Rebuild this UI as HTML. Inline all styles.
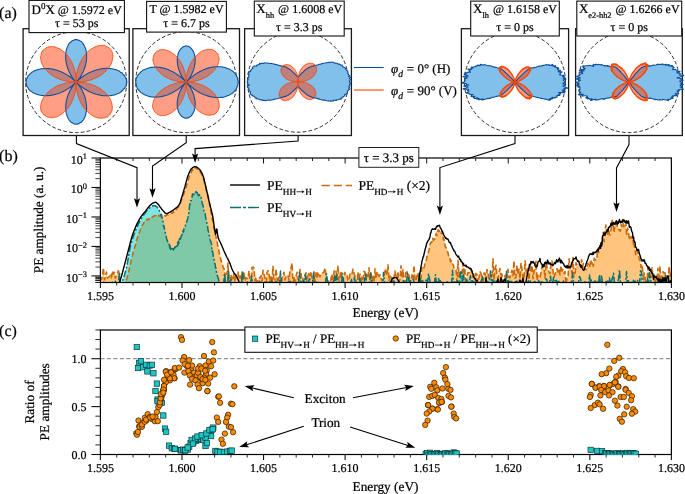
<!DOCTYPE html>
<html><head><meta charset="utf-8"><style>
html,body{margin:0;padding:0;background:#fff;}
svg{display:block;will-change:transform;}
text{font-family:"Liberation Serif",serif;fill:#000;stroke:#000;stroke-width:0.22px;text-rendering:geometricPrecision;}
</style></head><body>
<svg width="685" height="494" viewBox="0 0 685 494" font-family="Liberation Serif">
<rect width="685" height="494" fill="#fff"/>
<defs><clipPath id="cb"><rect x="100.4" y="158" width="571" height="124.5"/></clipPath><clipPath id="cc"><rect x="100.4" y="330" width="571" height="124.5"/></clipPath></defs>
<g clip-path="url(#cb)">
<path d="M100.4,276.9L101.4,279.5L102.4,276.8L103.4,267.8L104.4,280.0L105.4,277.5L106.4,272.0L107.4,278.2L108.4,277.0L109.4,276.6L110.4,275.2L111.4,278.0L112.4,270.9L113.4,274.1L114.4,272.3L115.4,278.3L116.4,275.2L117.4,273.4L118.4,270.7L119.4,273.6L120.0,283.2L120.5,283.2L121.0,283.8L121.5,284.1L122.0,284.4L122.5,284.0L123.0,283.8L123.5,283.5L124.0,283.6L124.5,283.2L125.0,281.9L125.5,280.6L126.0,279.8L126.5,279.6L127.0,277.9L127.5,275.9L128.0,275.0L128.5,272.7L129.0,270.6L129.5,268.2L130.0,265.6L130.5,263.8L131.0,261.3L131.5,259.0L132.0,257.2L132.5,255.4L133.0,252.8L133.5,251.6L134.0,249.7L134.5,248.3L135.0,246.2L135.5,244.7L136.0,242.7L136.5,240.8L137.0,239.0L137.5,237.7L138.0,236.0L138.5,234.4L139.0,233.5L139.5,231.6L140.0,230.9L140.5,229.5L141.0,227.3L141.5,227.1L142.0,225.7L142.5,225.2L143.0,224.4L143.5,222.9L144.0,222.9L144.5,222.2L145.0,222.1L145.5,220.8L146.0,221.0L146.5,219.9L147.0,219.8L147.5,219.2L148.0,219.7L148.5,219.0L149.0,219.4L149.5,218.5L150.0,218.2L150.5,218.0L151.0,217.2L151.5,217.1L152.0,217.4L152.5,216.6L153.0,216.6L153.5,216.3L154.0,216.3L154.5,215.8L155.0,215.7L155.5,215.7L156.0,215.5L156.5,215.0L157.0,215.5L157.5,214.7L158.0,214.9L158.5,215.1L159.0,216.2L159.5,216.0L160.0,216.0L160.5,216.0L161.0,216.7L161.5,216.2L162.0,216.2L162.5,216.8L163.0,216.1L163.5,216.2L164.0,216.2L164.5,215.8L165.0,215.8L165.5,216.1L166.0,215.3L166.5,214.9L167.0,214.5L167.5,214.9L168.0,214.6L168.5,214.6L169.0,214.2L169.5,213.9L170.0,213.6L170.5,213.4L171.0,213.4L171.5,212.9L172.0,212.8L172.5,213.2L173.0,212.3L173.5,211.3L174.0,212.1L174.5,211.2L175.0,210.4L175.5,210.6L176.0,209.8L176.5,209.1L177.0,208.5L177.5,207.8L178.0,207.5L178.5,207.1L179.0,205.8L179.5,205.2L180.0,204.7L180.5,202.5L181.0,201.8L181.5,200.2L182.0,198.6L182.5,197.2L183.0,196.2L183.5,195.0L184.0,193.2L184.5,191.8L185.0,190.5L185.5,188.8L186.0,187.4L186.5,185.7L187.0,184.0L187.5,182.8L188.0,180.6L188.5,178.8L189.0,177.5L189.5,175.6L190.0,174.4L190.5,173.6L191.0,172.4L191.5,171.8L192.0,170.5L192.5,169.4L193.0,170.1L193.5,169.3L194.0,168.2L194.5,168.7L195.0,168.1L195.5,167.5L196.0,168.1L196.5,168.2L197.0,169.2L197.5,168.6L198.0,169.1L198.5,169.4L199.0,169.8L199.5,170.2L200.0,171.3L200.5,172.4L201.0,173.2L201.5,173.6L202.0,174.6L202.5,176.2L203.0,177.3L203.5,178.8L204.0,180.1L204.5,183.1L205.0,184.5L205.5,185.7L206.0,188.3L206.5,190.5L207.0,191.3L207.5,194.1L208.0,196.5L208.5,199.1L209.0,201.3L209.5,203.6L210.0,206.1L210.5,209.2L211.0,211.9L211.5,213.6L212.0,216.2L212.5,220.3L213.0,221.7L213.5,224.6L214.0,227.4L214.5,230.0L215.0,232.6L215.5,234.7L216.0,236.5L216.5,239.3L217.0,241.5L217.5,244.4L218.0,246.1L218.5,248.2L219.0,251.0L219.5,254.6L220.0,256.4L220.5,258.0L221.0,260.3L221.5,262.0L222.0,263.9L222.5,264.5L223.0,266.5L223.5,268.0L224.0,268.9L224.5,270.5L225.0,272.6L225.0,277.5L226.0,273.6L227.0,274.2L228.0,263.1L229.0,286.4L230.0,282.8L231.0,274.7L232.0,280.8L233.0,278.0L234.0,273.5L235.0,281.9L236.0,274.8L237.0,274.7L238.0,272.1L239.0,279.0L240.0,276.0L241.0,279.5L242.0,273.2L243.0,277.2L244.0,271.6L245.0,281.1L246.0,277.5L247.0,278.3L248.0,278.8L249.0,270.9L250.0,280.8L251.0,287.8L252.0,267.5L253.0,267.0L254.0,268.2L255.0,281.1L256.0,277.2L257.0,282.4L258.0,280.5L259.0,277.7L260.0,278.1L261.0,275.6L262.0,281.3L263.0,270.3L264.0,274.2L265.0,277.8L266.0,286.4L267.0,272.3L268.0,270.6L269.0,273.4L270.0,281.8L271.0,275.2L272.0,283.8L273.0,266.2L274.0,282.7L275.0,282.2L276.0,268.7L277.0,277.3L278.0,283.2L279.0,277.0L280.0,282.0L281.0,289.6L282.0,278.0L283.0,275.0L284.0,272.3L285.0,280.1L286.0,275.4L287.0,275.5L288.0,275.9L289.0,280.1L290.0,270.6L291.0,268.1L292.0,263.1L293.0,283.1L294.0,276.9L295.0,284.8L296.0,276.5L297.0,272.4L298.0,279.1L299.0,276.1L300.0,269.6L301.0,271.6L302.0,286.2L303.0,278.4L304.0,278.8L305.0,275.0L306.0,272.7L307.0,281.4L308.0,275.9L309.0,272.3L310.0,275.8L311.0,271.5L312.0,277.5L313.0,282.7L314.0,271.9L315.0,284.4L316.0,272.8L317.0,277.3L318.0,271.9L319.0,275.3L320.0,276.8L321.0,274.1L322.0,272.6L323.0,272.8L324.0,272.0L325.0,267.9L326.0,275.1L327.0,278.7L328.0,281.5L329.0,280.1L330.0,290.0L331.0,278.3L332.0,274.0L333.0,286.8L334.0,270.7L335.0,281.8L336.0,271.2L337.0,278.4L338.0,265.7L339.0,281.4L340.0,275.6L341.0,271.2L342.0,285.7L343.0,280.7L344.0,276.8L345.0,272.4L346.0,276.3L347.0,275.6L348.0,280.5L349.0,280.9L350.0,272.8L351.0,273.5L352.0,273.6L353.0,269.1L354.0,273.2L355.0,276.0L356.0,280.3L357.0,283.8L358.0,272.1L359.0,279.5L360.0,274.1L361.0,287.9L362.0,276.2L363.0,279.3L364.0,271.4L365.0,272.0L366.0,277.6L367.0,274.4L368.0,278.4L369.0,267.9L370.0,280.1L371.0,271.6L372.0,286.0L373.0,274.9L374.0,282.5L375.0,268.8L376.0,278.9L377.0,271.6L378.0,273.8L379.0,276.6L380.0,274.8L381.0,278.0L382.0,280.6L383.0,280.1L384.0,276.0L385.0,269.0L386.0,272.1L387.0,275.4L388.0,264.8L389.0,280.6L390.0,275.2L391.0,275.1L392.0,281.7L393.0,280.2L394.0,277.7L395.0,271.0L396.0,278.2L397.0,278.4L398.0,271.6L399.0,282.2L400.0,279.3L401.0,265.7L402.0,277.2L403.0,269.5L404.0,282.7L405.0,280.9L406.0,270.4L407.0,271.6L408.0,277.1L409.0,275.2L410.0,284.9L411.0,280.6L412.0,274.9L413.0,279.7L414.0,265.3L415.0,278.2L416.0,281.3L417.0,275.5L418.0,272.6L419.0,279.6L420.0,279.3L420.9,279.4L421.8,267.5L422.7,269.6L423.6,268.6L424.5,266.0L425.4,261.5L426.3,260.4L427.2,255.1L428.1,253.3L429.0,250.1L429.9,244.7L430.8,242.3L431.7,242.4L432.6,238.2L433.5,240.4L434.4,238.8L435.3,238.7L436.2,233.4L437.1,235.5L438.0,229.9L438.9,230.3L439.8,232.9L440.7,234.2L441.6,231.5L442.5,233.1L443.4,239.8L444.3,239.5L445.2,246.6L446.1,247.5L447.0,250.1L447.9,252.6L448.8,256.6L449.7,256.7L450.6,261.8L451.5,260.7L452.4,263.7L453.3,264.7L454.2,269.2L455.1,269.8L456.0,269.8L456.9,278.2L457.0,285.7L458.0,260.4L459.0,276.8L460.0,271.4L461.0,272.0L462.0,273.3L463.0,263.4L464.0,273.2L465.0,269.7L466.0,292.8L467.0,275.7L468.0,272.6L469.0,273.0L470.0,270.8L471.0,268.7L472.0,272.4L473.0,277.2L474.0,273.2L475.0,279.8L476.0,273.4L477.0,274.6L478.0,283.0L479.0,277.5L480.0,271.7L481.0,273.5L482.0,277.5L483.0,285.1L484.0,273.0L485.0,273.2L486.0,280.0L487.0,269.6L488.0,272.9L489.0,279.4L490.0,277.7L491.0,275.0L492.0,278.2L493.0,258.9L494.0,280.1L495.0,269.2L496.0,265.3L497.0,276.0L498.0,278.4L499.0,272.1L500.0,268.6L501.0,274.6L502.0,274.2L503.0,282.2L504.0,278.6L505.0,275.6L506.0,280.6L507.0,273.4L508.0,269.4L509.0,277.7L510.0,277.7L511.0,273.3L512.0,270.2L513.0,275.8L514.0,260.8L515.0,278.3L516.0,277.2L517.0,265.5L518.0,274.8L519.0,269.2L520.0,278.7L521.0,263.0L522.0,268.8L523.0,277.4L524.0,279.5L525.0,260.9L526.0,269.7L527.0,273.9L528.0,268.3L529.0,280.1L530.0,264.4L531.0,272.9L532.0,265.2L533.0,278.7L534.0,270.8L535.0,268.8L536.0,261.4L537.0,280.1L538.0,275.0L539.0,274.9L540.0,277.0L541.0,272.7L542.0,267.2L543.0,266.3L544.0,266.3L545.0,278.2L546.0,262.6L547.0,267.3L548.0,268.8L549.0,271.8L550.0,273.7L551.0,263.7L552.0,261.0L553.0,270.5L554.0,277.1L555.0,274.6L556.0,271.6L557.0,268.7L558.0,272.0L559.0,269.0L560.0,274.8L561.0,265.9L562.0,271.0L563.0,269.7L564.0,273.2L565.0,271.5L566.0,284.2L567.0,278.4L568.0,278.4L569.0,258.9L570.0,268.2L571.0,266.7L572.0,273.0L573.0,257.5L574.0,276.5L575.0,275.9L576.0,262.8L577.0,264.6L578.0,266.1L578.9,266.0L579.8,264.7L580.7,267.1L581.6,259.7L582.5,266.3L583.4,263.2L584.3,269.0L585.2,268.7L586.1,269.7L587.0,266.9L587.9,263.3L588.8,265.7L589.7,267.3L590.6,259.7L591.5,263.8L592.4,261.4L593.3,266.3L594.2,258.3L595.1,259.6L596.0,260.2L596.9,257.5L597.8,248.6L598.7,252.5L599.6,247.8L600.5,244.7L601.4,242.5L602.3,241.5L603.2,232.3L604.1,241.6L605.0,231.3L605.9,225.0L606.8,231.3L607.7,235.8L608.6,228.5L609.5,235.0L610.4,234.7L611.3,226.1L612.2,220.4L613.1,224.4L614.0,232.5L614.9,225.5L615.8,223.1L616.7,223.6L617.6,228.1L618.5,227.9L619.4,230.8L620.3,231.1L621.2,224.3L622.1,226.6L623.0,222.9L623.9,226.7L624.8,222.3L625.7,222.3L626.6,234.2L627.5,228.1L628.4,231.4L629.3,240.0L630.2,236.9L631.1,236.6L632.0,239.6L632.9,239.1L633.8,247.6L634.7,245.0L635.6,254.5L636.5,249.6L637.4,251.8L638.3,253.6L639.2,259.3L640.1,260.1L641.0,267.3L641.9,264.5L642.8,270.9L643.7,279.6L644.0,272.9L645.0,275.5L646.0,285.7L647.0,280.1L648.0,267.5L649.0,276.5L650.0,273.1L651.0,277.3L652.0,267.7L653.0,277.8L654.0,277.8L655.0,285.2L656.0,278.2L657.0,279.3L658.0,268.3L659.0,288.9L660.0,266.0L661.0,282.6L662.0,274.7L663.0,271.7L664.0,272.9L665.0,272.8L666.0,278.6L667.0,275.9L668.0,284.7L669.0,266.4L670.0,276.5L671.0,271.6 L671.00,300 L100.40,300Z" fill="#ff8c00" fill-opacity="0.5"/>
<path d="M100.4,283.1L101.4,283.9L102.4,284.4L103.4,282.3L104.4,284.6L105.4,283.9L106.4,283.3L107.4,284.0L108.4,285.1L109.4,282.4L110.4,285.9L111.4,285.2L112.4,282.3L113.4,284.5L114.4,284.2L115.4,281.3L116.4,284.4L117.4,282.8L118.4,283.3L119.4,272.2L120.4,283.0L121.0,283.0L121.5,282.4L122.0,281.6L122.5,280.6L123.0,279.4L123.5,278.1L124.0,276.6L124.5,275.0L125.0,273.3L125.5,271.5L126.0,269.6L126.5,267.6L127.0,265.2L127.5,262.6L128.0,259.7L128.5,256.7L129.0,253.7L129.5,250.8L130.0,248.2L130.5,245.8L131.0,243.9L131.5,242.2L132.0,240.6L132.5,239.1L133.0,237.6L133.5,236.1L134.0,234.6L134.5,233.2L135.0,231.9L135.5,230.6L136.0,229.4L136.5,228.2L137.0,227.1L137.5,226.0L138.0,224.9L138.5,223.9L139.0,222.9L139.5,221.9L140.0,221.0L140.5,220.1L141.0,219.2L141.5,218.4L142.0,217.6L142.5,216.8L143.0,216.0L143.5,215.3L144.0,214.5L144.5,213.8L145.0,213.1L145.5,212.5L146.0,211.8L146.5,211.2L147.0,210.6L147.5,210.1L148.0,209.6L148.5,209.0L149.0,208.5L149.5,208.0L150.0,207.6L150.5,207.2L151.0,206.8L151.5,206.5L152.0,206.3L152.5,206.0L153.0,205.8L153.5,205.7L154.0,205.6L154.5,205.7L155.0,205.8L155.5,206.0L156.0,206.3L156.5,206.6L157.0,207.0L157.5,207.7L158.0,208.4L158.5,209.2L159.0,210.1L159.5,211.0L160.0,212.1L160.5,213.9L161.0,215.2L161.5,214.4L162.0,217.5L162.5,219.4L163.0,221.4L163.5,226.7L164.0,225.9L164.5,228.9L165.0,231.7L165.5,233.5L166.0,234.9L166.5,238.2L167.0,239.9L167.5,241.1L168.0,242.8L168.5,243.2L169.0,243.3L169.5,247.7L170.0,245.4L170.5,249.4L171.0,247.7L171.5,248.6L172.0,248.3L172.5,249.4L173.0,247.9L173.5,250.0L174.0,248.5L174.5,247.9L175.0,246.9L175.5,247.4L176.0,246.6L176.5,247.8L177.0,246.1L177.5,242.8L178.0,245.0L178.5,240.2L179.0,243.1L179.5,238.6L180.0,239.3L180.5,238.9L181.0,236.8L181.5,234.6L182.0,235.7L182.5,231.5L183.0,230.6L183.5,232.2L184.0,228.6L184.5,228.3L185.0,227.4L185.5,225.1L186.0,223.9L186.5,222.2L187.0,220.6L187.5,219.7L188.0,217.4L188.5,214.5L189.0,211.8L189.5,206.6L190.0,203.2L190.5,200.8L191.0,200.7L191.5,200.0L192.0,197.1L192.5,194.0L193.0,194.6L193.5,194.8L194.0,194.0L194.5,193.3L195.0,193.9L195.5,193.8L196.0,191.6L196.5,193.5L197.0,192.4L197.5,193.6L198.0,194.7L198.5,195.7L199.0,195.1L199.5,194.7L200.0,195.8L200.5,197.6L201.0,197.4L201.5,199.8L202.0,202.2L202.5,204.5L203.0,205.3L203.5,208.1L204.0,211.2L204.5,212.3L205.0,212.5L205.5,216.7L206.0,219.2L206.5,221.0L207.0,224.0L207.5,225.0L208.0,230.2L208.5,231.9L209.0,233.5L209.5,236.9L210.0,239.4L210.5,241.0L211.0,241.8L211.5,244.2L212.0,251.5L212.5,250.9L213.0,254.2L213.5,257.6L214.0,259.1L214.5,263.2L215.0,263.6L215.5,267.8L216.0,267.7L216.5,272.7L217.0,274.6L217.5,276.0L218.0,277.6L218.5,279.3L219.0,281.6L219.5,283.3L220.0,283.1L223.5,284.8L224.5,273.6L225.5,283.6L226.5,284.4L227.5,282.8L228.5,270.2L229.5,285.8L230.5,278.5L231.5,280.9L232.5,282.2L233.5,282.8L234.5,283.6L235.5,285.3L236.5,284.0L237.5,283.0L238.5,284.2L239.5,283.3L240.5,283.8L241.5,282.7L242.5,271.0L243.5,284.8L244.5,283.2L245.5,283.8L246.5,282.8L247.5,281.9L248.5,283.1L249.5,284.5L250.5,285.2L251.5,276.0L252.5,282.9L253.5,287.2L254.5,284.7L255.5,284.8L256.5,282.9L257.5,283.3L258.5,284.4L259.5,281.3L260.5,282.6L261.5,284.1L262.5,286.7L263.5,284.2L264.5,282.3L265.5,282.0L266.5,284.9L267.5,282.5L268.5,283.2L269.5,281.0L270.5,283.7L271.5,281.0L272.5,282.6L273.5,283.0L274.5,285.3L275.5,282.7L276.5,281.8L277.5,283.4L278.5,285.4L279.5,284.0L280.5,271.0L281.5,284.0L282.5,284.6L283.5,283.6L284.5,283.8L285.5,283.6L286.5,282.9L287.5,282.7L288.5,281.8L289.5,282.0L290.5,281.3L291.5,284.2L292.5,284.2L293.5,283.7L294.5,284.2L295.5,283.7L296.5,282.6L297.5,283.8L298.5,283.1L299.5,272.3L300.5,280.8L301.5,282.9L302.5,284.1L303.5,280.2L304.5,282.4L305.5,274.3L306.5,282.7L307.5,285.4L308.5,282.7L309.5,277.5L310.5,282.9L311.5,284.2L312.5,282.9L313.5,273.0L314.5,284.4L315.5,284.4L316.5,282.3L317.5,283.1L318.5,282.4L319.5,283.4L320.5,283.2L321.5,283.3L322.5,284.4L323.5,282.2L324.5,282.5L325.5,282.8L326.5,273.7L327.5,282.5L328.5,284.3L329.5,282.2L330.5,285.9L331.5,283.7L332.5,285.1L333.5,282.2L334.5,276.1L335.5,283.8L336.5,274.9L337.5,280.6L338.5,285.6L339.5,282.7L340.5,285.6L341.5,282.8L342.5,273.2L343.5,281.1L344.5,283.9L345.5,283.4L346.5,284.0L347.5,283.5L348.5,284.3L349.5,284.2L350.5,283.4L351.5,279.5L352.5,283.1L353.5,281.4L354.5,277.3L355.5,284.2L356.5,282.6L357.5,286.7L358.5,284.4L359.5,277.0L360.5,284.9L361.5,283.7L362.5,283.7L363.5,285.4L364.5,280.8L365.5,272.5L366.5,281.3L367.5,283.8L368.5,281.8L369.5,285.2L370.5,273.2L371.5,281.4L372.5,281.8L373.5,284.6L374.5,282.9L375.5,285.4L376.5,284.3L377.5,284.6L378.5,284.7L379.5,285.2L380.5,283.1L381.5,282.8L382.5,285.5L383.5,272.5L384.5,282.1L385.5,284.2L386.5,283.1L387.5,284.1L388.5,285.0L389.5,286.1L390.5,281.5L391.5,282.1L392.5,283.7L393.5,277.5L394.5,284.0L395.5,284.1L396.5,284.1L397.5,283.7L398.5,281.9L399.5,283.6L400.5,283.8L401.5,284.0L402.5,285.3L403.5,279.5L404.5,283.5L405.5,283.0L406.5,282.1L407.5,273.6L408.5,276.2L409.5,286.2L410.5,280.5L411.5,285.7L412.5,283.4L413.5,279.6L414.5,283.9L415.5,283.8L416.5,284.9L417.5,285.2L418.5,282.5L419.5,272.4L420.5,283.8L421.5,279.7L422.5,279.6L423.5,284.9L424.5,283.5L425.5,281.4L426.5,278.7L427.5,282.2L428.5,273.6L429.5,278.7L430.5,283.9L431.5,283.5L432.5,282.2L433.5,284.2L434.5,282.3L435.5,274.7L436.5,284.7L437.5,282.3L438.5,278.6L439.5,282.3L440.5,279.8L441.5,282.4L442.5,284.4L443.5,282.5L444.5,283.3L445.5,283.5L446.5,282.4L447.5,281.7L448.5,284.3L449.5,282.5L450.5,283.7L451.5,283.9L452.5,270.2L453.5,284.6L454.5,281.8L455.5,282.6L456.5,282.5L457.5,279.2L458.5,283.4L459.5,285.7L460.5,271.9L461.5,270.6L462.5,282.7L463.5,274.8L464.5,283.1L465.5,285.6L466.5,278.6L467.5,281.1L468.5,281.6L469.5,280.5L470.5,275.8L471.5,283.2L472.5,280.7L473.5,281.7L474.5,282.0L475.5,282.5L476.5,284.8L477.5,284.9L478.5,283.5L479.5,283.9L480.5,281.9L481.5,280.5L482.5,276.3L483.5,282.8L484.5,283.3L485.5,284.0L486.5,282.7L487.5,281.4L488.5,281.5L489.5,279.9L490.5,271.0L491.5,280.3L492.5,279.9L493.5,282.4L494.5,279.9L495.5,280.4L496.5,282.5L497.5,282.0L498.5,283.3L499.5,283.9L500.5,284.9L501.5,284.1L502.5,281.6L503.5,282.7L504.5,285.5L505.5,281.7L506.5,271.3L507.5,284.5L508.5,280.4L509.5,282.0L510.5,283.3L511.5,280.1L512.5,284.0L513.5,282.7L514.5,282.9L515.5,280.8L516.5,280.3L517.5,282.4L518.5,283.4L519.5,280.4L520.5,282.2L521.5,282.8L522.5,284.8L523.5,283.8L524.5,282.1L525.5,283.3L526.5,283.3L527.5,282.3L528.5,280.6L529.5,283.7L530.5,280.9L531.5,283.4L532.5,282.6L533.5,283.8L534.5,281.4L535.5,281.7L536.5,283.8L537.5,284.4L538.5,280.4L539.5,282.8L540.5,285.3L541.5,280.3L542.5,283.3L543.5,282.5L544.5,283.9L545.5,281.4L546.5,277.6L547.5,283.3L548.5,284.6L549.5,283.7L550.5,276.2L551.5,285.4L552.5,283.8L553.5,277.6L554.5,279.0L555.5,282.1L556.5,280.3L557.5,283.5L558.5,281.6L559.5,280.9L560.5,285.1L561.5,284.0L562.5,282.7L563.5,281.1L564.5,283.5L565.5,283.7L566.5,282.8L567.5,283.9L568.5,285.0L569.5,285.1L570.5,282.2L571.5,285.5L572.5,272.9L573.5,282.4L574.5,284.1L575.5,282.5L576.5,282.4L577.5,281.4L578.5,281.7L579.5,276.4L580.5,278.3L581.5,283.0L582.5,284.4L583.5,282.9L584.5,282.0L585.5,282.1L586.5,282.5L587.5,283.6L588.5,282.9L589.5,275.0L590.5,282.7L591.5,280.0L592.5,281.8L593.5,282.8L594.5,281.5L595.5,281.0L596.5,283.5L597.5,281.6L598.5,284.0L599.5,274.4L600.5,283.5L601.5,275.3L602.5,282.8L603.5,283.1L604.5,283.6L605.5,280.6L606.5,283.7L607.5,280.9L608.5,283.2L609.5,278.0L610.5,286.2L611.5,280.6L612.5,277.8L613.5,273.2L614.5,283.0L615.5,281.6L616.5,283.6L617.5,282.3L618.5,279.1L619.5,269.8L620.5,283.1L621.5,282.7L622.5,284.5L623.5,283.6L624.5,284.0L625.5,283.0L626.5,271.4L627.5,283.5L628.5,280.6L629.5,280.7L630.5,281.7L631.5,283.6L632.5,283.9L633.5,280.2L634.5,282.0L635.5,281.2L636.5,281.9L637.5,280.3L638.5,282.5L639.5,284.2L640.5,270.7L641.5,272.0L642.5,285.1L643.5,282.2L644.5,281.0L645.5,283.6L646.5,284.1L647.5,278.8L648.5,282.8L649.5,272.7L650.5,278.0L651.5,284.6L652.5,284.3L653.5,283.8L654.5,284.6L655.5,282.2L656.5,281.6L657.5,280.9L658.5,281.9L659.5,281.2L660.5,282.3L661.5,283.9L662.5,284.6L663.5,283.6L664.5,283.5L665.5,275.0L666.5,283.4L667.5,282.1L668.5,281.9L669.5,281.2L670.5,282.3L671.5,281.1 L671.50,300 L100.40,300Z" fill="#00ced1" fill-opacity="0.5"/>
<path d="M100.4,276.9L101.4,279.5L102.4,276.8L103.4,267.8L104.4,280.0L105.4,277.5L106.4,272.0L107.4,278.2L108.4,277.0L109.4,276.6L110.4,275.2L111.4,278.0L112.4,270.9L113.4,274.1L114.4,272.3L115.4,278.3L116.4,275.2L117.4,273.4L118.4,270.7L119.4,273.6L120.0,283.2L120.5,283.2L121.0,283.8L121.5,284.1L122.0,284.4L122.5,284.0L123.0,283.8L123.5,283.5L124.0,283.6L124.5,283.2L125.0,281.9L125.5,280.6L126.0,279.8L126.5,279.6L127.0,277.9L127.5,275.9L128.0,275.0L128.5,272.7L129.0,270.6L129.5,268.2L130.0,265.6L130.5,263.8L131.0,261.3L131.5,259.0L132.0,257.2L132.5,255.4L133.0,252.8L133.5,251.6L134.0,249.7L134.5,248.3L135.0,246.2L135.5,244.7L136.0,242.7L136.5,240.8L137.0,239.0L137.5,237.7L138.0,236.0L138.5,234.4L139.0,233.5L139.5,231.6L140.0,230.9L140.5,229.5L141.0,227.3L141.5,227.1L142.0,225.7L142.5,225.2L143.0,224.4L143.5,222.9L144.0,222.9L144.5,222.2L145.0,222.1L145.5,220.8L146.0,221.0L146.5,219.9L147.0,219.8L147.5,219.2L148.0,219.7L148.5,219.0L149.0,219.4L149.5,218.5L150.0,218.2L150.5,218.0L151.0,217.2L151.5,217.1L152.0,217.4L152.5,216.6L153.0,216.6L153.5,216.3L154.0,216.3L154.5,215.8L155.0,215.7L155.5,215.7L156.0,215.5L156.5,215.0L157.0,215.5L157.5,214.7L158.0,214.9L158.5,215.1L159.0,216.2L159.5,216.0L160.0,216.0L160.5,216.0L161.0,216.7L161.5,216.2L162.0,216.2L162.5,216.8L163.0,216.1L163.5,216.2L164.0,216.2L164.5,215.8L165.0,215.8L165.5,216.1L166.0,215.3L166.5,214.9L167.0,214.5L167.5,214.9L168.0,214.6L168.5,214.6L169.0,214.2L169.5,213.9L170.0,213.6L170.5,213.4L171.0,213.4L171.5,212.9L172.0,212.8L172.5,213.2L173.0,212.3L173.5,211.3L174.0,212.1L174.5,211.2L175.0,210.4L175.5,210.6L176.0,209.8L176.5,209.1L177.0,208.5L177.5,207.8L178.0,207.5L178.5,207.1L179.0,205.8L179.5,205.2L180.0,204.7L180.5,202.5L181.0,201.8L181.5,200.2L182.0,198.6L182.5,197.2L183.0,196.2L183.5,195.0L184.0,193.2L184.5,191.8L185.0,190.5L185.5,188.8L186.0,187.4L186.5,185.7L187.0,184.0L187.5,182.8L188.0,180.6L188.5,178.8L189.0,177.5L189.5,175.6L190.0,174.4L190.5,173.6L191.0,172.4L191.5,171.8L192.0,170.5L192.5,169.4L193.0,170.1L193.5,169.3L194.0,168.2L194.5,168.7L195.0,168.1L195.5,167.5L196.0,168.1L196.5,168.2L197.0,169.2L197.5,168.6L198.0,169.1L198.5,169.4L199.0,169.8L199.5,170.2L200.0,171.3L200.5,172.4L201.0,173.2L201.5,173.6L202.0,174.6L202.5,176.2L203.0,177.3L203.5,178.8L204.0,180.1L204.5,183.1L205.0,184.5L205.5,185.7L206.0,188.3L206.5,190.5L207.0,191.3L207.5,194.1L208.0,196.5L208.5,199.1L209.0,201.3L209.5,203.6L210.0,206.1L210.5,209.2L211.0,211.9L211.5,213.6L212.0,216.2L212.5,220.3L213.0,221.7L213.5,224.6L214.0,227.4L214.5,230.0L215.0,232.6L215.5,234.7L216.0,236.5L216.5,239.3L217.0,241.5L217.5,244.4L218.0,246.1L218.5,248.2L219.0,251.0L219.5,254.6L220.0,256.4L220.5,258.0L221.0,260.3L221.5,262.0L222.0,263.9L222.5,264.5L223.0,266.5L223.5,268.0L224.0,268.9L224.5,270.5L225.0,272.6L225.0,277.5L226.0,273.6L227.0,274.2L228.0,263.1L229.0,286.4L230.0,282.8L231.0,274.7L232.0,280.8L233.0,278.0L234.0,273.5L235.0,281.9L236.0,274.8L237.0,274.7L238.0,272.1L239.0,279.0L240.0,276.0L241.0,279.5L242.0,273.2L243.0,277.2L244.0,271.6L245.0,281.1L246.0,277.5L247.0,278.3L248.0,278.8L249.0,270.9L250.0,280.8L251.0,287.8L252.0,267.5L253.0,267.0L254.0,268.2L255.0,281.1L256.0,277.2L257.0,282.4L258.0,280.5L259.0,277.7L260.0,278.1L261.0,275.6L262.0,281.3L263.0,270.3L264.0,274.2L265.0,277.8L266.0,286.4L267.0,272.3L268.0,270.6L269.0,273.4L270.0,281.8L271.0,275.2L272.0,283.8L273.0,266.2L274.0,282.7L275.0,282.2L276.0,268.7L277.0,277.3L278.0,283.2L279.0,277.0L280.0,282.0L281.0,289.6L282.0,278.0L283.0,275.0L284.0,272.3L285.0,280.1L286.0,275.4L287.0,275.5L288.0,275.9L289.0,280.1L290.0,270.6L291.0,268.1L292.0,263.1L293.0,283.1L294.0,276.9L295.0,284.8L296.0,276.5L297.0,272.4L298.0,279.1L299.0,276.1L300.0,269.6L301.0,271.6L302.0,286.2L303.0,278.4L304.0,278.8L305.0,275.0L306.0,272.7L307.0,281.4L308.0,275.9L309.0,272.3L310.0,275.8L311.0,271.5L312.0,277.5L313.0,282.7L314.0,271.9L315.0,284.4L316.0,272.8L317.0,277.3L318.0,271.9L319.0,275.3L320.0,276.8L321.0,274.1L322.0,272.6L323.0,272.8L324.0,272.0L325.0,267.9L326.0,275.1L327.0,278.7L328.0,281.5L329.0,280.1L330.0,290.0L331.0,278.3L332.0,274.0L333.0,286.8L334.0,270.7L335.0,281.8L336.0,271.2L337.0,278.4L338.0,265.7L339.0,281.4L340.0,275.6L341.0,271.2L342.0,285.7L343.0,280.7L344.0,276.8L345.0,272.4L346.0,276.3L347.0,275.6L348.0,280.5L349.0,280.9L350.0,272.8L351.0,273.5L352.0,273.6L353.0,269.1L354.0,273.2L355.0,276.0L356.0,280.3L357.0,283.8L358.0,272.1L359.0,279.5L360.0,274.1L361.0,287.9L362.0,276.2L363.0,279.3L364.0,271.4L365.0,272.0L366.0,277.6L367.0,274.4L368.0,278.4L369.0,267.9L370.0,280.1L371.0,271.6L372.0,286.0L373.0,274.9L374.0,282.5L375.0,268.8L376.0,278.9L377.0,271.6L378.0,273.8L379.0,276.6L380.0,274.8L381.0,278.0L382.0,280.6L383.0,280.1L384.0,276.0L385.0,269.0L386.0,272.1L387.0,275.4L388.0,264.8L389.0,280.6L390.0,275.2L391.0,275.1L392.0,281.7L393.0,280.2L394.0,277.7L395.0,271.0L396.0,278.2L397.0,278.4L398.0,271.6L399.0,282.2L400.0,279.3L401.0,265.7L402.0,277.2L403.0,269.5L404.0,282.7L405.0,280.9L406.0,270.4L407.0,271.6L408.0,277.1L409.0,275.2L410.0,284.9L411.0,280.6L412.0,274.9L413.0,279.7L414.0,265.3L415.0,278.2L416.0,281.3L417.0,275.5L418.0,272.6L419.0,279.6L420.0,279.3L420.9,279.4L421.8,267.5L422.7,269.6L423.6,268.6L424.5,266.0L425.4,261.5L426.3,260.4L427.2,255.1L428.1,253.3L429.0,250.1L429.9,244.7L430.8,242.3L431.7,242.4L432.6,238.2L433.5,240.4L434.4,238.8L435.3,238.7L436.2,233.4L437.1,235.5L438.0,229.9L438.9,230.3L439.8,232.9L440.7,234.2L441.6,231.5L442.5,233.1L443.4,239.8L444.3,239.5L445.2,246.6L446.1,247.5L447.0,250.1L447.9,252.6L448.8,256.6L449.7,256.7L450.6,261.8L451.5,260.7L452.4,263.7L453.3,264.7L454.2,269.2L455.1,269.8L456.0,269.8L456.9,278.2L457.0,285.7L458.0,260.4L459.0,276.8L460.0,271.4L461.0,272.0L462.0,273.3L463.0,263.4L464.0,273.2L465.0,269.7L466.0,292.8L467.0,275.7L468.0,272.6L469.0,273.0L470.0,270.8L471.0,268.7L472.0,272.4L473.0,277.2L474.0,273.2L475.0,279.8L476.0,273.4L477.0,274.6L478.0,283.0L479.0,277.5L480.0,271.7L481.0,273.5L482.0,277.5L483.0,285.1L484.0,273.0L485.0,273.2L486.0,280.0L487.0,269.6L488.0,272.9L489.0,279.4L490.0,277.7L491.0,275.0L492.0,278.2L493.0,258.9L494.0,280.1L495.0,269.2L496.0,265.3L497.0,276.0L498.0,278.4L499.0,272.1L500.0,268.6L501.0,274.6L502.0,274.2L503.0,282.2L504.0,278.6L505.0,275.6L506.0,280.6L507.0,273.4L508.0,269.4L509.0,277.7L510.0,277.7L511.0,273.3L512.0,270.2L513.0,275.8L514.0,260.8L515.0,278.3L516.0,277.2L517.0,265.5L518.0,274.8L519.0,269.2L520.0,278.7L521.0,263.0L522.0,268.8L523.0,277.4L524.0,279.5L525.0,260.9L526.0,269.7L527.0,273.9L528.0,268.3L529.0,280.1L530.0,264.4L531.0,272.9L532.0,265.2L533.0,278.7L534.0,270.8L535.0,268.8L536.0,261.4L537.0,280.1L538.0,275.0L539.0,274.9L540.0,277.0L541.0,272.7L542.0,267.2L543.0,266.3L544.0,266.3L545.0,278.2L546.0,262.6L547.0,267.3L548.0,268.8L549.0,271.8L550.0,273.7L551.0,263.7L552.0,261.0L553.0,270.5L554.0,277.1L555.0,274.6L556.0,271.6L557.0,268.7L558.0,272.0L559.0,269.0L560.0,274.8L561.0,265.9L562.0,271.0L563.0,269.7L564.0,273.2L565.0,271.5L566.0,284.2L567.0,278.4L568.0,278.4L569.0,258.9L570.0,268.2L571.0,266.7L572.0,273.0L573.0,257.5L574.0,276.5L575.0,275.9L576.0,262.8L577.0,264.6L578.0,266.1L578.9,266.0L579.8,264.7L580.7,267.1L581.6,259.7L582.5,266.3L583.4,263.2L584.3,269.0L585.2,268.7L586.1,269.7L587.0,266.9L587.9,263.3L588.8,265.7L589.7,267.3L590.6,259.7L591.5,263.8L592.4,261.4L593.3,266.3L594.2,258.3L595.1,259.6L596.0,260.2L596.9,257.5L597.8,248.6L598.7,252.5L599.6,247.8L600.5,244.7L601.4,242.5L602.3,241.5L603.2,232.3L604.1,241.6L605.0,231.3L605.9,225.0L606.8,231.3L607.7,235.8L608.6,228.5L609.5,235.0L610.4,234.7L611.3,226.1L612.2,220.4L613.1,224.4L614.0,232.5L614.9,225.5L615.8,223.1L616.7,223.6L617.6,228.1L618.5,227.9L619.4,230.8L620.3,231.1L621.2,224.3L622.1,226.6L623.0,222.9L623.9,226.7L624.8,222.3L625.7,222.3L626.6,234.2L627.5,228.1L628.4,231.4L629.3,240.0L630.2,236.9L631.1,236.6L632.0,239.6L632.9,239.1L633.8,247.6L634.7,245.0L635.6,254.5L636.5,249.6L637.4,251.8L638.3,253.6L639.2,259.3L640.1,260.1L641.0,267.3L641.9,264.5L642.8,270.9L643.7,279.6L644.0,272.9L645.0,275.5L646.0,285.7L647.0,280.1L648.0,267.5L649.0,276.5L650.0,273.1L651.0,277.3L652.0,267.7L653.0,277.8L654.0,277.8L655.0,285.2L656.0,278.2L657.0,279.3L658.0,268.3L659.0,288.9L660.0,266.0L661.0,282.6L662.0,274.7L663.0,271.7L664.0,272.9L665.0,272.8L666.0,278.6L667.0,275.9L668.0,284.7L669.0,266.4L670.0,276.5L671.0,271.6" fill="none" stroke="#cc6a0a" stroke-width="1.6" stroke-dasharray="5.5,2.6" stroke-linejoin="round"/>
<path d="M100.4,283.1L101.4,283.9L102.4,284.4L103.4,282.3L104.4,284.6L105.4,283.9L106.4,283.3L107.4,284.0L108.4,285.1L109.4,282.4L110.4,285.9L111.4,285.2L112.4,282.3L113.4,284.5L114.4,284.2L115.4,281.3L116.4,284.4L117.4,282.8L118.4,283.3L119.4,272.2L120.4,283.0L121.0,283.0L121.5,282.4L122.0,281.6L122.5,280.6L123.0,279.4L123.5,278.1L124.0,276.6L124.5,275.0L125.0,273.3L125.5,271.5L126.0,269.6L126.5,267.6L127.0,265.2L127.5,262.6L128.0,259.7L128.5,256.7L129.0,253.7L129.5,250.8L130.0,248.2L130.5,245.8L131.0,243.9L131.5,242.2L132.0,240.6L132.5,239.1L133.0,237.6L133.5,236.1L134.0,234.6L134.5,233.2L135.0,231.9L135.5,230.6L136.0,229.4L136.5,228.2L137.0,227.1L137.5,226.0L138.0,224.9L138.5,223.9L139.0,222.9L139.5,221.9L140.0,221.0L140.5,220.1L141.0,219.2L141.5,218.4L142.0,217.6L142.5,216.8L143.0,216.0L143.5,215.3L144.0,214.5L144.5,213.8L145.0,213.1L145.5,212.5L146.0,211.8L146.5,211.2L147.0,210.6L147.5,210.1L148.0,209.6L148.5,209.0L149.0,208.5L149.5,208.0L150.0,207.6L150.5,207.2L151.0,206.8L151.5,206.5L152.0,206.3L152.5,206.0L153.0,205.8L153.5,205.7L154.0,205.6L154.5,205.7L155.0,205.8L155.5,206.0L156.0,206.3L156.5,206.6L157.0,207.0L157.5,207.7L158.0,208.4L158.5,209.2L159.0,210.1L159.5,211.0L160.0,212.1L160.5,213.9L161.0,215.2L161.5,214.4L162.0,217.5L162.5,219.4L163.0,221.4L163.5,226.7L164.0,225.9L164.5,228.9L165.0,231.7L165.5,233.5L166.0,234.9L166.5,238.2L167.0,239.9L167.5,241.1L168.0,242.8L168.5,243.2L169.0,243.3L169.5,247.7L170.0,245.4L170.5,249.4L171.0,247.7L171.5,248.6L172.0,248.3L172.5,249.4L173.0,247.9L173.5,250.0L174.0,248.5L174.5,247.9L175.0,246.9L175.5,247.4L176.0,246.6L176.5,247.8L177.0,246.1L177.5,242.8L178.0,245.0L178.5,240.2L179.0,243.1L179.5,238.6L180.0,239.3L180.5,238.9L181.0,236.8L181.5,234.6L182.0,235.7L182.5,231.5L183.0,230.6L183.5,232.2L184.0,228.6L184.5,228.3L185.0,227.4L185.5,225.1L186.0,223.9L186.5,222.2L187.0,220.6L187.5,219.7L188.0,217.4L188.5,214.5L189.0,211.8L189.5,206.6L190.0,203.2L190.5,200.8L191.0,200.7L191.5,200.0L192.0,197.1L192.5,194.0L193.0,194.6L193.5,194.8L194.0,194.0L194.5,193.3L195.0,193.9L195.5,193.8L196.0,191.6L196.5,193.5L197.0,192.4L197.5,193.6L198.0,194.7L198.5,195.7L199.0,195.1L199.5,194.7L200.0,195.8L200.5,197.6L201.0,197.4L201.5,199.8L202.0,202.2L202.5,204.5L203.0,205.3L203.5,208.1L204.0,211.2L204.5,212.3L205.0,212.5L205.5,216.7L206.0,219.2L206.5,221.0L207.0,224.0L207.5,225.0L208.0,230.2L208.5,231.9L209.0,233.5L209.5,236.9L210.0,239.4L210.5,241.0L211.0,241.8L211.5,244.2L212.0,251.5L212.5,250.9L213.0,254.2L213.5,257.6L214.0,259.1L214.5,263.2L215.0,263.6L215.5,267.8L216.0,267.7L216.5,272.7L217.0,274.6L217.5,276.0L218.0,277.6L218.5,279.3L219.0,281.6L219.5,283.3L220.0,283.1L223.5,284.8L224.5,273.6L225.5,283.6L226.5,284.4L227.5,282.8L228.5,270.2L229.5,285.8L230.5,278.5L231.5,280.9L232.5,282.2L233.5,282.8L234.5,283.6L235.5,285.3L236.5,284.0L237.5,283.0L238.5,284.2L239.5,283.3L240.5,283.8L241.5,282.7L242.5,271.0L243.5,284.8L244.5,283.2L245.5,283.8L246.5,282.8L247.5,281.9L248.5,283.1L249.5,284.5L250.5,285.2L251.5,276.0L252.5,282.9L253.5,287.2L254.5,284.7L255.5,284.8L256.5,282.9L257.5,283.3L258.5,284.4L259.5,281.3L260.5,282.6L261.5,284.1L262.5,286.7L263.5,284.2L264.5,282.3L265.5,282.0L266.5,284.9L267.5,282.5L268.5,283.2L269.5,281.0L270.5,283.7L271.5,281.0L272.5,282.6L273.5,283.0L274.5,285.3L275.5,282.7L276.5,281.8L277.5,283.4L278.5,285.4L279.5,284.0L280.5,271.0L281.5,284.0L282.5,284.6L283.5,283.6L284.5,283.8L285.5,283.6L286.5,282.9L287.5,282.7L288.5,281.8L289.5,282.0L290.5,281.3L291.5,284.2L292.5,284.2L293.5,283.7L294.5,284.2L295.5,283.7L296.5,282.6L297.5,283.8L298.5,283.1L299.5,272.3L300.5,280.8L301.5,282.9L302.5,284.1L303.5,280.2L304.5,282.4L305.5,274.3L306.5,282.7L307.5,285.4L308.5,282.7L309.5,277.5L310.5,282.9L311.5,284.2L312.5,282.9L313.5,273.0L314.5,284.4L315.5,284.4L316.5,282.3L317.5,283.1L318.5,282.4L319.5,283.4L320.5,283.2L321.5,283.3L322.5,284.4L323.5,282.2L324.5,282.5L325.5,282.8L326.5,273.7L327.5,282.5L328.5,284.3L329.5,282.2L330.5,285.9L331.5,283.7L332.5,285.1L333.5,282.2L334.5,276.1L335.5,283.8L336.5,274.9L337.5,280.6L338.5,285.6L339.5,282.7L340.5,285.6L341.5,282.8L342.5,273.2L343.5,281.1L344.5,283.9L345.5,283.4L346.5,284.0L347.5,283.5L348.5,284.3L349.5,284.2L350.5,283.4L351.5,279.5L352.5,283.1L353.5,281.4L354.5,277.3L355.5,284.2L356.5,282.6L357.5,286.7L358.5,284.4L359.5,277.0L360.5,284.9L361.5,283.7L362.5,283.7L363.5,285.4L364.5,280.8L365.5,272.5L366.5,281.3L367.5,283.8L368.5,281.8L369.5,285.2L370.5,273.2L371.5,281.4L372.5,281.8L373.5,284.6L374.5,282.9L375.5,285.4L376.5,284.3L377.5,284.6L378.5,284.7L379.5,285.2L380.5,283.1L381.5,282.8L382.5,285.5L383.5,272.5L384.5,282.1L385.5,284.2L386.5,283.1L387.5,284.1L388.5,285.0L389.5,286.1L390.5,281.5L391.5,282.1L392.5,283.7L393.5,277.5L394.5,284.0L395.5,284.1L396.5,284.1L397.5,283.7L398.5,281.9L399.5,283.6L400.5,283.8L401.5,284.0L402.5,285.3L403.5,279.5L404.5,283.5L405.5,283.0L406.5,282.1L407.5,273.6L408.5,276.2L409.5,286.2L410.5,280.5L411.5,285.7L412.5,283.4L413.5,279.6L414.5,283.9L415.5,283.8L416.5,284.9L417.5,285.2L418.5,282.5L419.5,272.4L420.5,283.8L421.5,279.7L422.5,279.6L423.5,284.9L424.5,283.5L425.5,281.4L426.5,278.7L427.5,282.2L428.5,273.6L429.5,278.7L430.5,283.9L431.5,283.5L432.5,282.2L433.5,284.2L434.5,282.3L435.5,274.7L436.5,284.7L437.5,282.3L438.5,278.6L439.5,282.3L440.5,279.8L441.5,282.4L442.5,284.4L443.5,282.5L444.5,283.3L445.5,283.5L446.5,282.4L447.5,281.7L448.5,284.3L449.5,282.5L450.5,283.7L451.5,283.9L452.5,270.2L453.5,284.6L454.5,281.8L455.5,282.6L456.5,282.5L457.5,279.2L458.5,283.4L459.5,285.7L460.5,271.9L461.5,270.6L462.5,282.7L463.5,274.8L464.5,283.1L465.5,285.6L466.5,278.6L467.5,281.1L468.5,281.6L469.5,280.5L470.5,275.8L471.5,283.2L472.5,280.7L473.5,281.7L474.5,282.0L475.5,282.5L476.5,284.8L477.5,284.9L478.5,283.5L479.5,283.9L480.5,281.9L481.5,280.5L482.5,276.3L483.5,282.8L484.5,283.3L485.5,284.0L486.5,282.7L487.5,281.4L488.5,281.5L489.5,279.9L490.5,271.0L491.5,280.3L492.5,279.9L493.5,282.4L494.5,279.9L495.5,280.4L496.5,282.5L497.5,282.0L498.5,283.3L499.5,283.9L500.5,284.9L501.5,284.1L502.5,281.6L503.5,282.7L504.5,285.5L505.5,281.7L506.5,271.3L507.5,284.5L508.5,280.4L509.5,282.0L510.5,283.3L511.5,280.1L512.5,284.0L513.5,282.7L514.5,282.9L515.5,280.8L516.5,280.3L517.5,282.4L518.5,283.4L519.5,280.4L520.5,282.2L521.5,282.8L522.5,284.8L523.5,283.8L524.5,282.1L525.5,283.3L526.5,283.3L527.5,282.3L528.5,280.6L529.5,283.7L530.5,280.9L531.5,283.4L532.5,282.6L533.5,283.8L534.5,281.4L535.5,281.7L536.5,283.8L537.5,284.4L538.5,280.4L539.5,282.8L540.5,285.3L541.5,280.3L542.5,283.3L543.5,282.5L544.5,283.9L545.5,281.4L546.5,277.6L547.5,283.3L548.5,284.6L549.5,283.7L550.5,276.2L551.5,285.4L552.5,283.8L553.5,277.6L554.5,279.0L555.5,282.1L556.5,280.3L557.5,283.5L558.5,281.6L559.5,280.9L560.5,285.1L561.5,284.0L562.5,282.7L563.5,281.1L564.5,283.5L565.5,283.7L566.5,282.8L567.5,283.9L568.5,285.0L569.5,285.1L570.5,282.2L571.5,285.5L572.5,272.9L573.5,282.4L574.5,284.1L575.5,282.5L576.5,282.4L577.5,281.4L578.5,281.7L579.5,276.4L580.5,278.3L581.5,283.0L582.5,284.4L583.5,282.9L584.5,282.0L585.5,282.1L586.5,282.5L587.5,283.6L588.5,282.9L589.5,275.0L590.5,282.7L591.5,280.0L592.5,281.8L593.5,282.8L594.5,281.5L595.5,281.0L596.5,283.5L597.5,281.6L598.5,284.0L599.5,274.4L600.5,283.5L601.5,275.3L602.5,282.8L603.5,283.1L604.5,283.6L605.5,280.6L606.5,283.7L607.5,280.9L608.5,283.2L609.5,278.0L610.5,286.2L611.5,280.6L612.5,277.8L613.5,273.2L614.5,283.0L615.5,281.6L616.5,283.6L617.5,282.3L618.5,279.1L619.5,269.8L620.5,283.1L621.5,282.7L622.5,284.5L623.5,283.6L624.5,284.0L625.5,283.0L626.5,271.4L627.5,283.5L628.5,280.6L629.5,280.7L630.5,281.7L631.5,283.6L632.5,283.9L633.5,280.2L634.5,282.0L635.5,281.2L636.5,281.9L637.5,280.3L638.5,282.5L639.5,284.2L640.5,270.7L641.5,272.0L642.5,285.1L643.5,282.2L644.5,281.0L645.5,283.6L646.5,284.1L647.5,278.8L648.5,282.8L649.5,272.7L650.5,278.0L651.5,284.6L652.5,284.3L653.5,283.8L654.5,284.6L655.5,282.2L656.5,281.6L657.5,280.9L658.5,281.9L659.5,281.2L660.5,282.3L661.5,283.9L662.5,284.6L663.5,283.6L664.5,283.5L665.5,275.0L666.5,283.4L667.5,282.1L668.5,281.9L669.5,281.2L670.5,282.3L671.5,281.1" fill="none" stroke="#0a7070" stroke-width="1.5" stroke-dasharray="7,2,2,2" stroke-linejoin="round"/>
<path d="M116.0,292.0L116.5,290.8L117.0,289.6L117.5,288.3L118.0,286.9L118.5,285.5L119.0,284.1L119.5,282.6L120.0,281.1L120.5,279.4L121.0,277.8L121.5,276.0L122.0,274.2L122.5,272.4L123.0,270.5L123.5,268.6L124.0,266.7L124.5,264.9L125.0,263.0L125.5,261.1L126.0,259.2L126.5,257.3L127.0,255.4L127.5,253.5L128.0,251.5L128.5,249.6L129.0,247.7L129.5,245.8L130.0,243.8L130.5,241.9L131.0,240.0L131.5,238.2L132.0,236.5L132.5,235.0L133.0,233.6L133.5,232.2L134.0,230.9L134.5,229.6L135.0,228.4L135.5,227.2L136.0,226.1L136.5,225.0L137.0,223.9L137.5,222.9L138.0,221.9L138.5,221.0L139.0,220.1L139.5,219.2L140.0,218.3L140.5,217.5L141.0,216.7L141.5,216.0L142.0,215.3L142.5,214.7L143.0,214.1L143.5,213.5L144.0,212.9L144.5,212.3L145.0,211.7L145.5,211.1L146.0,210.4L146.5,209.8L147.0,209.1L147.5,208.4L148.0,207.8L148.5,207.2L149.0,206.6L149.5,206.0L150.0,205.4L150.5,204.9L151.0,204.4L151.5,204.0L152.0,203.7L152.5,203.3L153.0,203.0L153.5,202.8L154.0,202.6L154.5,202.5L155.0,202.3L155.5,202.3L156.0,202.4L156.5,202.7L157.0,203.2L157.5,203.6L158.0,204.1L158.5,204.7L159.0,205.4L159.5,206.1L160.0,206.8L160.5,207.5L161.0,208.2L161.5,208.9L162.0,209.5L162.5,210.1L163.0,210.6L163.5,211.2L164.0,211.8L164.5,212.4L165.0,212.9L165.5,213.2L166.0,213.5L166.5,213.6L167.0,213.5L167.5,213.4L168.0,213.2L168.5,212.9L169.0,212.6L169.5,212.3L170.0,212.1L170.5,211.8L171.0,211.5L171.5,211.2L172.0,210.9L172.5,210.6L173.0,210.2L173.5,209.9L174.0,209.5L174.5,209.2L175.0,208.8L175.5,208.4L176.0,208.0L176.5,207.6L177.0,207.2L177.5,206.7L178.0,206.2L178.5,205.7L179.0,205.0L179.5,204.2L180.0,203.0L180.5,201.5L181.0,199.8L181.5,198.1L182.0,196.5L182.5,194.9L183.0,193.2L183.5,191.5L184.0,189.8L184.5,188.1L185.0,186.4L185.5,184.5L186.0,182.6L186.5,180.7L187.0,178.9L187.5,177.2L188.0,175.7L188.5,174.4L189.0,173.2L189.5,172.0L190.0,171.0L190.5,170.1L191.0,169.3L191.5,168.8L192.0,168.3L192.5,167.9L193.0,167.5L193.5,167.2L194.0,166.9L194.5,166.7L195.0,166.6L195.5,166.6L196.0,166.7L196.5,167.0L197.0,167.3L197.5,167.6L198.0,168.0L198.5,168.5L199.0,168.9L199.5,169.4L200.0,170.0L200.5,170.7L201.0,171.5L201.5,172.4L202.0,173.4L202.5,174.5L203.0,175.7L203.5,177.2L204.0,179.0L204.5,181.1L205.0,183.3L205.5,185.5L206.0,187.8L206.5,190.0L207.0,192.1L207.5,194.2L208.0,196.4L208.5,198.6L209.0,200.8L209.5,202.9L210.0,205.1L210.5,207.2L211.0,209.2L211.5,211.1L212.0,213.0L212.5,215.2L213.0,217.8L213.5,221.1L214.0,225.0L214.5,228.6L215.0,231.9L215.5,234.4L216.0,232.7L216.5,228.9L217.0,229.4L217.5,233.5L218.0,237.0L218.5,238.6L219.0,239.8L219.5,240.8L220.0,241.8L220.5,242.8L221.0,243.9L221.5,245.1L222.0,246.3L222.5,247.4L223.0,248.6L223.5,249.8L224.0,251.0L224.5,252.1L225.0,253.2L225.5,254.3L226.0,255.4L226.5,256.5L227.0,257.5L227.5,258.4L228.0,259.4L228.5,260.4L229.0,261.4L229.5,262.5L230.0,263.6L230.5,264.9L231.0,266.2L231.5,267.7L232.0,269.0L232.5,270.2L233.0,271.2L233.5,272.0L234.0,272.8L234.5,273.5L235.0,274.2L235.5,274.9L236.0,275.6L236.5,276.4L237.0,277.3L237.5,278.3L238.0,279.4L238.5,280.5L239.0,281.8L239.5,283.0L240.0,284.3L240.5,285.6L241.0,287.0L241.5,288.5L242.0,290.0L242.0,290.0L242.5,290.0L243.0,290.0L243.5,290.1L244.0,290.1L244.5,290.1L245.0,290.1L245.5,290.2L246.0,290.2L246.5,290.2L247.0,290.2L247.5,290.3L248.0,290.3L248.5,290.3L249.0,290.3L249.5,290.4L250.0,290.4L250.5,290.4L251.0,290.4L251.5,290.5L252.0,290.5L252.5,290.5L253.0,290.5L253.5,290.6L254.0,290.6L254.5,290.6L255.0,290.6L255.5,290.7L256.0,290.7L256.5,290.7L257.0,290.7L257.5,290.8L258.0,290.8L258.5,290.8L259.0,290.8L259.5,290.8L260.0,290.9L260.5,290.9L261.0,290.9L261.5,290.9L262.0,291.0L262.5,291.0L263.0,291.0L263.5,291.0L264.0,291.1L264.5,291.1L265.0,291.1L265.5,291.1L266.0,291.1L266.5,291.2L267.0,291.2L267.5,291.2L268.0,291.2L268.5,291.2L269.0,291.3L269.5,291.3L270.0,291.3L270.5,291.3L271.0,291.4L271.5,291.4L272.0,291.4L272.5,291.4L273.0,291.4L273.5,291.4L274.0,291.5L274.5,291.5L275.0,291.5L275.5,291.5L276.0,291.5L276.5,291.6L277.0,291.6L277.5,291.6L278.0,291.6L278.5,291.6L279.0,291.6L279.5,291.7L280.0,291.7L280.5,291.7L281.0,291.7L281.5,291.7L282.0,291.7L282.5,291.7L283.0,291.8L283.5,291.8L284.0,291.8L284.5,291.8L285.0,291.8L285.5,291.8L286.0,291.8L286.5,291.8L287.0,291.9L287.5,291.9L288.0,291.9L288.5,291.9L289.0,291.9L289.5,291.9L290.0,291.9L290.5,291.9L291.0,291.9L291.5,291.9L292.0,291.9L292.5,291.9L293.0,292.0L293.5,292.0L294.0,292.0L294.5,292.0L295.0,292.0L295.5,292.0L296.0,292.0L296.5,292.0L297.0,292.0L297.5,292.0L298.0,292.0L298.5,292.0L299.0,292.0L299.5,292.0L300.0,292.0L300.5,292.0L301.0,292.0L301.5,292.0L302.0,292.0L302.5,292.0L303.0,292.0L303.5,292.0L304.0,292.0L304.5,292.0L305.0,292.0L305.5,292.0L306.0,292.0L306.5,292.0L307.0,292.0L307.5,292.0L308.0,292.0L308.5,292.0L309.0,292.0L309.5,292.0L310.0,292.0L310.5,292.0L311.0,292.0L311.5,292.0L312.0,292.0L312.5,292.0L313.0,292.0L313.5,292.0L314.0,292.0L314.5,292.0L315.0,292.0L315.5,292.0L316.0,292.0L316.5,292.0L317.0,292.0L317.5,292.0L318.0,292.0L318.5,292.0L319.0,292.0L319.5,292.0L320.0,292.0L320.5,292.0L321.0,292.0L321.5,292.0L322.0,292.0L322.5,292.0L323.0,292.0L323.5,292.0L324.0,292.0L324.5,292.0L325.0,292.0L325.5,292.0L326.0,292.0L326.5,292.0L327.0,292.0L327.5,292.0L328.0,292.0L328.5,292.0L329.0,292.0L329.5,292.0L330.0,292.0L330.5,292.0L331.0,292.0L331.5,292.0L332.0,292.0L332.5,292.0L333.0,292.0L333.5,292.0L334.0,292.0L334.5,292.0L335.0,292.0L335.5,292.0L336.0,292.0L336.5,292.0L337.0,292.0L337.5,292.0L338.0,292.0L338.5,292.0L339.0,292.0L339.5,292.0L340.0,292.0L340.5,292.0L341.0,292.0L341.5,292.0L342.0,292.0L342.5,292.0L343.0,292.0L343.5,292.0L344.0,292.0L344.5,292.0L345.0,292.0L345.5,292.0L346.0,292.0L346.5,292.0L347.0,292.0L347.5,292.0L348.0,292.0L348.5,292.0L349.0,292.0L349.5,292.0L350.0,292.0L350.5,292.0L351.0,292.0L351.5,292.0L352.0,292.0L352.5,292.0L353.0,292.0L353.5,292.0L354.0,292.0L354.5,292.0L355.0,292.0L355.5,292.0L356.0,292.0L356.5,292.0L357.0,292.0L357.5,292.0L358.0,292.0L358.5,292.0L359.0,292.0L359.5,292.0L360.0,292.0L360.5,292.0L361.0,292.0L361.5,292.0L362.0,292.0L362.5,292.0L363.0,292.0L363.5,292.0L364.0,292.0L364.5,292.0L365.0,292.0L365.5,292.0L366.0,292.0L366.5,292.0L367.0,292.0L367.5,292.0L368.0,292.0L368.5,292.0L369.0,292.0L369.5,292.0L370.0,292.0L370.5,292.0L371.0,292.0L371.5,292.0L372.0,292.0L372.5,292.0L373.0,292.0L373.5,292.0L374.0,292.0L374.5,292.0L375.0,292.0L375.5,292.0L376.0,292.0L376.5,292.0L377.0,292.0L377.5,292.0L378.0,292.0L378.5,292.0L379.0,292.0L379.5,292.0L380.0,292.0L380.5,292.0L381.0,292.0L381.5,292.0L382.0,292.0L382.5,292.0L383.0,292.0L383.5,292.0L384.0,292.0L384.5,292.0L385.0,292.0L385.5,291.9L386.0,291.5L386.5,290.8L387.0,290.0L387.5,289.1L388.0,288.1L388.5,287.0L389.0,286.0L389.5,285.0L390.0,284.0L390.5,283.0L391.0,281.7L391.5,280.4L392.0,279.3L392.5,278.4L393.0,278.0L393.5,277.9L394.0,277.7L394.5,277.6L395.0,277.6L395.5,277.5L396.0,277.5L396.5,277.7L397.0,278.2L397.5,279.0L398.0,279.9L398.5,280.9L399.0,282.0L399.5,283.5L400.0,285.5L400.5,287.8L401.0,289.9L401.5,291.4L402.0,292.0L402.5,292.0L403.0,292.0L403.5,292.0L404.0,292.0L404.5,292.0L405.0,292.0L405.5,292.0L406.0,292.0L406.5,292.0L407.0,292.0L407.5,292.0L408.0,292.0L408.5,292.0L409.0,292.0L409.5,292.0L410.0,292.0L410.5,292.0L411.0,292.0L411.5,292.0L412.0,292.0L412.5,292.0L413.0,292.0L413.5,292.0L414.0,292.0L414.5,292.0L415.0,292.0L415.5,292.0L416.0,292.0L416.0,292.0L416.5,291.9L417.0,290.4L417.5,288.7L418.0,287.2L418.5,283.3L419.0,280.6L419.5,276.1L420.0,272.6L420.5,269.9L421.0,266.6L421.5,264.4L422.0,260.7L422.5,259.7L423.0,257.0L423.5,256.6L424.0,254.2L424.5,252.3L425.0,249.7L425.5,248.1L426.0,246.3L426.5,244.1L427.0,242.7L427.5,242.0L428.0,240.9L428.5,240.2L429.0,239.5L429.5,238.0L430.0,236.9L430.5,233.2L431.0,232.5L431.5,230.1L432.0,229.6L432.5,228.8L433.0,229.3L433.5,229.1L434.0,229.2L434.5,228.6L435.0,228.7L435.5,229.2L436.0,227.8L436.5,226.5L437.0,226.8L437.5,225.6L438.0,225.8L438.5,225.8L439.0,225.6L439.5,225.2L440.0,226.9L440.5,228.2L441.0,228.5L441.5,229.8L442.0,231.0L442.5,231.1L443.0,233.3L443.5,234.6L444.0,235.3L444.5,236.3L445.0,237.0L445.5,238.4L446.0,237.8L446.5,238.2L447.0,239.2L447.5,238.9L448.0,239.2L448.5,240.3L449.0,241.8L449.5,242.6L450.0,242.2L450.5,242.7L451.0,244.5L451.5,245.4L452.0,246.4L452.5,247.8L453.0,249.1L453.5,249.6L454.0,251.0L454.5,251.0L455.0,251.9L455.5,253.5L456.0,254.4L456.5,255.1L457.0,255.6L457.5,256.3L458.0,257.0L458.5,256.1L459.0,257.4L459.5,258.9L460.0,259.7L460.5,259.2L461.0,261.5L461.5,261.3L462.0,262.1L462.5,263.1L463.0,264.1L463.5,263.5L464.0,265.6L464.5,265.6L465.0,265.5L465.5,266.1L466.0,265.2L466.5,266.4L467.0,267.1L467.5,266.8L468.0,267.2L468.5,267.5L469.0,267.9L469.5,268.6L470.0,268.2L470.5,268.3L471.0,269.1L471.5,270.5L472.0,270.6L472.5,273.3L473.0,273.9L473.5,276.8L474.0,277.4L474.5,278.6L475.0,278.6L475.5,278.7L476.0,280.5L476.5,281.0L477.0,280.5L477.0,285.1L478.0,290.4L479.0,289.9L480.0,283.0L481.0,283.8L482.0,282.9L483.0,287.3L484.0,284.8L485.0,288.0L486.0,277.6L487.0,291.3L488.0,284.6L489.0,287.7L490.0,284.5L491.0,283.5L492.0,286.9L493.0,288.3L494.0,284.2L495.0,284.4L496.0,287.7L497.0,281.5L498.0,278.9L499.0,286.6L500.0,282.3L501.0,277.3L502.0,281.7L503.0,283.1L504.0,280.2L505.0,279.0L506.0,285.1L507.0,288.6L508.0,284.1L509.0,282.0L510.0,286.5L511.0,287.9L512.0,283.8L513.0,287.2L514.0,289.2L515.0,284.2L516.0,281.7L517.0,286.4L518.0,286.0L519.0,289.4L520.0,279.9L521.0,282.4L522.0,281.6L523.0,278.1L524.0,285.5L525.0,287.1L526.0,282.0L527.0,276.0L527.5,274.2L528.0,271.5L528.5,269.1L529.0,267.8L529.5,264.1L530.0,265.2L530.5,264.5L531.0,261.4L531.5,263.0L532.0,261.9L532.5,262.7L533.0,261.4L533.5,262.1L534.0,263.3L534.5,263.1L535.0,265.7L535.5,266.0L536.0,267.1L536.5,266.0L537.0,266.6L537.5,264.7L538.0,262.2L538.5,261.4L539.0,261.0L539.5,261.2L540.0,258.4L540.5,262.0L541.0,263.0L541.5,263.9L542.0,264.1L542.5,267.1L543.0,264.6L543.5,266.2L544.0,266.5L544.5,263.0L545.0,263.7L545.5,262.0L546.0,263.0L546.5,263.8L547.0,263.9L547.5,260.0L548.0,261.3L548.5,262.9L549.0,264.1L549.5,263.4L550.0,262.8L550.5,264.3L551.0,264.4L551.5,264.6L552.0,264.3L552.5,265.5L553.0,265.3L553.5,264.6L554.0,264.0L554.5,262.4L555.0,262.6L555.5,263.7L556.0,261.6L556.5,259.7L557.0,261.9L557.5,260.6L558.0,261.8L558.5,259.5L559.0,258.9L559.5,258.1L560.0,261.2L560.5,262.9L561.0,260.1L561.5,260.9L562.0,262.8L562.5,262.0L563.0,263.2L563.5,263.7L564.0,264.8L564.5,266.3L565.0,265.9L565.5,267.4L566.0,266.6L566.5,267.7L567.0,265.4L567.5,266.0L568.0,268.1L568.5,266.5L569.0,267.3L569.5,266.9L570.0,267.4L570.5,266.4L571.0,266.0L571.5,264.0L572.0,262.4L572.5,261.4L573.0,260.6L573.5,259.0L574.0,258.9L574.5,258.8L575.0,258.9L575.5,258.3L576.0,257.0L576.5,259.2L577.0,259.9L577.5,261.3L578.0,261.5L578.5,260.9L579.0,261.5L579.5,264.9L580.0,264.3L580.5,266.1L581.0,267.4L581.5,265.5L582.0,267.8L582.5,268.8L583.0,269.7L583.5,270.2L584.0,270.1L584.5,269.6L585.0,266.6L585.5,266.3L586.0,263.9L586.5,263.2L587.0,261.1L587.5,260.4L588.0,258.9L588.5,256.8L589.0,255.6L589.5,254.7L590.0,253.9L590.5,254.0L591.0,253.6L591.5,254.4L592.0,253.9L592.5,254.4L593.0,252.3L593.5,254.4L594.0,252.5L594.5,252.3L595.0,252.6L595.5,251.9L596.0,252.5L596.5,251.2L597.0,250.2L597.5,249.8L598.0,251.3L598.5,249.3L599.0,247.4L599.5,247.9L600.0,245.7L600.5,248.4L601.0,242.6L601.5,246.2L602.0,244.5L602.5,235.9L603.0,235.4L603.5,235.5L604.0,232.8L604.5,234.3L605.0,235.1L605.5,233.1L606.0,232.5L606.5,232.1L607.0,230.4L607.5,229.4L608.0,231.2L608.5,227.4L609.0,227.7L609.5,227.0L610.0,226.0L610.5,226.0L611.0,223.3L611.5,225.4L612.0,223.0L612.5,225.1L613.0,223.9L613.5,222.4L614.0,224.1L614.5,223.1L615.0,224.5L615.5,222.5L616.0,221.4L616.5,220.8L617.0,224.0L617.5,224.4L618.0,221.8L618.5,223.4L619.0,221.0L619.5,219.4L620.0,221.6L620.5,222.8L621.0,221.8L621.5,221.4L622.0,222.5L622.5,220.8L623.0,219.4L623.5,221.2L624.0,220.2L624.5,220.2L625.0,222.1L625.5,222.5L626.0,221.2L626.5,220.8L627.0,223.3L627.5,221.5L628.0,222.8L628.5,221.0L629.0,224.5L629.5,227.3L630.0,226.9L630.5,226.7L631.0,227.7L631.5,230.6L632.0,231.8L632.5,232.5L633.0,238.4L633.5,236.9L634.0,240.5L634.5,242.4L635.0,242.1L635.5,246.6L636.0,247.4L636.5,248.2L637.0,250.6L637.5,250.3L638.0,249.7L638.5,249.5L639.0,251.8L639.5,254.0L640.0,255.2L640.5,257.0L641.0,259.0L641.5,259.3L642.0,261.0L642.5,260.2L643.0,260.6L643.5,261.0L644.0,259.6L644.5,260.3L645.0,263.2L645.5,263.0L646.0,263.6L646.5,265.4L647.0,265.5L647.5,267.0L648.0,266.8L648.5,268.3L649.0,267.1L649.5,270.6L650.0,269.5L650.5,269.2L651.0,271.5L651.5,272.2L652.0,273.6L652.5,273.2L653.0,275.4L653.5,279.2L654.0,274.9L654.5,277.1L655.0,276.9L655.5,277.8L656.0,276.2L656.5,277.2L657.0,279.1L657.5,278.9L658.0,280.9L658.5,278.8L659.0,279.9L659.5,282.8L660.0,279.2L660.0,284.1L661.0,279.4L662.0,283.0L663.0,277.4L664.0,281.5L665.0,277.7L666.0,282.0L667.0,277.4L668.0,275.7L669.0,281.8L670.0,285.6L671.0,279.8" fill="none" stroke="#000" stroke-width="1.4" stroke-linejoin="round"/>
</g>
<rect x="100.4" y="158.0" width="571.0" height="124.5" fill="none" stroke="#000" stroke-width="1.2"/>
<line x1="100.40" y1="282.5" x2="100.40" y2="288.0" stroke="#111" stroke-width="1.1"/>
<line x1="100.40" y1="158.0" x2="100.40" y2="163.5" stroke="#111" stroke-width="1.0"/>
<text x="100.40" y="299.70" font-size="12" text-anchor="middle">1.595</text>
<line x1="116.71" y1="282.5" x2="116.71" y2="285.5" stroke="#111" stroke-width="0.9"/>
<line x1="116.71" y1="158.0" x2="116.71" y2="161.0" stroke="#111" stroke-width="0.9"/>
<line x1="133.03" y1="282.5" x2="133.03" y2="285.5" stroke="#111" stroke-width="0.9"/>
<line x1="133.03" y1="158.0" x2="133.03" y2="161.0" stroke="#111" stroke-width="0.9"/>
<line x1="149.34" y1="282.5" x2="149.34" y2="285.5" stroke="#111" stroke-width="0.9"/>
<line x1="149.34" y1="158.0" x2="149.34" y2="161.0" stroke="#111" stroke-width="0.9"/>
<line x1="165.66" y1="282.5" x2="165.66" y2="285.5" stroke="#111" stroke-width="0.9"/>
<line x1="165.66" y1="158.0" x2="165.66" y2="161.0" stroke="#111" stroke-width="0.9"/>
<line x1="181.97" y1="282.5" x2="181.97" y2="288.0" stroke="#111" stroke-width="1.1"/>
<line x1="181.97" y1="158.0" x2="181.97" y2="163.5" stroke="#111" stroke-width="1.0"/>
<text x="181.97" y="299.70" font-size="12" text-anchor="middle">1.600</text>
<line x1="198.29" y1="282.5" x2="198.29" y2="285.5" stroke="#111" stroke-width="0.9"/>
<line x1="198.29" y1="158.0" x2="198.29" y2="161.0" stroke="#111" stroke-width="0.9"/>
<line x1="214.60" y1="282.5" x2="214.60" y2="285.5" stroke="#111" stroke-width="0.9"/>
<line x1="214.60" y1="158.0" x2="214.60" y2="161.0" stroke="#111" stroke-width="0.9"/>
<line x1="230.91" y1="282.5" x2="230.91" y2="285.5" stroke="#111" stroke-width="0.9"/>
<line x1="230.91" y1="158.0" x2="230.91" y2="161.0" stroke="#111" stroke-width="0.9"/>
<line x1="247.23" y1="282.5" x2="247.23" y2="285.5" stroke="#111" stroke-width="0.9"/>
<line x1="247.23" y1="158.0" x2="247.23" y2="161.0" stroke="#111" stroke-width="0.9"/>
<line x1="263.54" y1="282.5" x2="263.54" y2="288.0" stroke="#111" stroke-width="1.1"/>
<line x1="263.54" y1="158.0" x2="263.54" y2="163.5" stroke="#111" stroke-width="1.0"/>
<text x="263.54" y="299.70" font-size="12" text-anchor="middle">1.605</text>
<line x1="279.86" y1="282.5" x2="279.86" y2="285.5" stroke="#111" stroke-width="0.9"/>
<line x1="279.86" y1="158.0" x2="279.86" y2="161.0" stroke="#111" stroke-width="0.9"/>
<line x1="296.17" y1="282.5" x2="296.17" y2="285.5" stroke="#111" stroke-width="0.9"/>
<line x1="296.17" y1="158.0" x2="296.17" y2="161.0" stroke="#111" stroke-width="0.9"/>
<line x1="312.49" y1="282.5" x2="312.49" y2="285.5" stroke="#111" stroke-width="0.9"/>
<line x1="312.49" y1="158.0" x2="312.49" y2="161.0" stroke="#111" stroke-width="0.9"/>
<line x1="328.80" y1="282.5" x2="328.80" y2="285.5" stroke="#111" stroke-width="0.9"/>
<line x1="328.80" y1="158.0" x2="328.80" y2="161.0" stroke="#111" stroke-width="0.9"/>
<line x1="345.11" y1="282.5" x2="345.11" y2="288.0" stroke="#111" stroke-width="1.1"/>
<line x1="345.11" y1="158.0" x2="345.11" y2="163.5" stroke="#111" stroke-width="1.0"/>
<text x="345.11" y="299.70" font-size="12" text-anchor="middle">1.610</text>
<line x1="361.43" y1="282.5" x2="361.43" y2="285.5" stroke="#111" stroke-width="0.9"/>
<line x1="361.43" y1="158.0" x2="361.43" y2="161.0" stroke="#111" stroke-width="0.9"/>
<line x1="377.74" y1="282.5" x2="377.74" y2="285.5" stroke="#111" stroke-width="0.9"/>
<line x1="377.74" y1="158.0" x2="377.74" y2="161.0" stroke="#111" stroke-width="0.9"/>
<line x1="394.06" y1="282.5" x2="394.06" y2="285.5" stroke="#111" stroke-width="0.9"/>
<line x1="394.06" y1="158.0" x2="394.06" y2="161.0" stroke="#111" stroke-width="0.9"/>
<line x1="410.37" y1="282.5" x2="410.37" y2="285.5" stroke="#111" stroke-width="0.9"/>
<line x1="410.37" y1="158.0" x2="410.37" y2="161.0" stroke="#111" stroke-width="0.9"/>
<line x1="426.69" y1="282.5" x2="426.69" y2="288.0" stroke="#111" stroke-width="1.1"/>
<line x1="426.69" y1="158.0" x2="426.69" y2="163.5" stroke="#111" stroke-width="1.0"/>
<text x="426.69" y="299.70" font-size="12" text-anchor="middle">1.615</text>
<line x1="443.00" y1="282.5" x2="443.00" y2="285.5" stroke="#111" stroke-width="0.9"/>
<line x1="443.00" y1="158.0" x2="443.00" y2="161.0" stroke="#111" stroke-width="0.9"/>
<line x1="459.31" y1="282.5" x2="459.31" y2="285.5" stroke="#111" stroke-width="0.9"/>
<line x1="459.31" y1="158.0" x2="459.31" y2="161.0" stroke="#111" stroke-width="0.9"/>
<line x1="475.63" y1="282.5" x2="475.63" y2="285.5" stroke="#111" stroke-width="0.9"/>
<line x1="475.63" y1="158.0" x2="475.63" y2="161.0" stroke="#111" stroke-width="0.9"/>
<line x1="491.94" y1="282.5" x2="491.94" y2="285.5" stroke="#111" stroke-width="0.9"/>
<line x1="491.94" y1="158.0" x2="491.94" y2="161.0" stroke="#111" stroke-width="0.9"/>
<line x1="508.26" y1="282.5" x2="508.26" y2="288.0" stroke="#111" stroke-width="1.1"/>
<line x1="508.26" y1="158.0" x2="508.26" y2="163.5" stroke="#111" stroke-width="1.0"/>
<text x="508.26" y="299.70" font-size="12" text-anchor="middle">1.620</text>
<line x1="524.57" y1="282.5" x2="524.57" y2="285.5" stroke="#111" stroke-width="0.9"/>
<line x1="524.57" y1="158.0" x2="524.57" y2="161.0" stroke="#111" stroke-width="0.9"/>
<line x1="540.89" y1="282.5" x2="540.89" y2="285.5" stroke="#111" stroke-width="0.9"/>
<line x1="540.89" y1="158.0" x2="540.89" y2="161.0" stroke="#111" stroke-width="0.9"/>
<line x1="557.20" y1="282.5" x2="557.20" y2="285.5" stroke="#111" stroke-width="0.9"/>
<line x1="557.20" y1="158.0" x2="557.20" y2="161.0" stroke="#111" stroke-width="0.9"/>
<line x1="573.51" y1="282.5" x2="573.51" y2="285.5" stroke="#111" stroke-width="0.9"/>
<line x1="573.51" y1="158.0" x2="573.51" y2="161.0" stroke="#111" stroke-width="0.9"/>
<line x1="589.83" y1="282.5" x2="589.83" y2="288.0" stroke="#111" stroke-width="1.1"/>
<line x1="589.83" y1="158.0" x2="589.83" y2="163.5" stroke="#111" stroke-width="1.0"/>
<text x="589.83" y="299.70" font-size="12" text-anchor="middle">1.625</text>
<line x1="606.14" y1="282.5" x2="606.14" y2="285.5" stroke="#111" stroke-width="0.9"/>
<line x1="606.14" y1="158.0" x2="606.14" y2="161.0" stroke="#111" stroke-width="0.9"/>
<line x1="622.46" y1="282.5" x2="622.46" y2="285.5" stroke="#111" stroke-width="0.9"/>
<line x1="622.46" y1="158.0" x2="622.46" y2="161.0" stroke="#111" stroke-width="0.9"/>
<line x1="638.77" y1="282.5" x2="638.77" y2="285.5" stroke="#111" stroke-width="0.9"/>
<line x1="638.77" y1="158.0" x2="638.77" y2="161.0" stroke="#111" stroke-width="0.9"/>
<line x1="655.09" y1="282.5" x2="655.09" y2="285.5" stroke="#111" stroke-width="0.9"/>
<line x1="655.09" y1="158.0" x2="655.09" y2="161.0" stroke="#111" stroke-width="0.9"/>
<line x1="671.40" y1="282.5" x2="671.40" y2="288.0" stroke="#111" stroke-width="1.1"/>
<line x1="671.40" y1="158.0" x2="671.40" y2="163.5" stroke="#111" stroke-width="1.0"/>
<text x="671.40" y="299.70" font-size="12" text-anchor="middle">1.630</text>
<line x1="91.4" y1="158.00" x2="100.4" y2="158.00" stroke="#111" stroke-width="1.1"/>
<text x="86.9" y="163.60" font-size="12" text-anchor="end">10<tspan font-size="8.4" dy="-4.3">1</tspan></text>
<line x1="91.4" y1="187.48" x2="100.4" y2="187.48" stroke="#111" stroke-width="1.1"/>
<text x="86.9" y="193.08" font-size="12" text-anchor="end">10<tspan font-size="8.4" dy="-4.3">0</tspan></text>
<line x1="91.4" y1="216.96" x2="100.4" y2="216.96" stroke="#111" stroke-width="1.1"/>
<text x="86.9" y="222.56" font-size="12" text-anchor="end">10<tspan font-size="8.4" dy="-4.3">−1</tspan></text>
<line x1="91.4" y1="246.44" x2="100.4" y2="246.44" stroke="#111" stroke-width="1.1"/>
<text x="86.9" y="252.04" font-size="12" text-anchor="end">10<tspan font-size="8.4" dy="-4.3">−2</tspan></text>
<line x1="91.4" y1="275.92" x2="100.4" y2="275.92" stroke="#111" stroke-width="1.1"/>
<text x="86.9" y="281.52" font-size="12" text-anchor="end">10<tspan font-size="8.4" dy="-4.3">−3</tspan></text>
<line x1="95.4" y1="178.61" x2="100.4" y2="178.61" stroke="#111" stroke-width="0.8"/>
<line x1="95.4" y1="173.41" x2="100.4" y2="173.41" stroke="#111" stroke-width="0.8"/>
<line x1="95.4" y1="169.73" x2="100.4" y2="169.73" stroke="#111" stroke-width="0.8"/>
<line x1="95.4" y1="166.87" x2="100.4" y2="166.87" stroke="#111" stroke-width="0.8"/>
<line x1="95.4" y1="164.54" x2="100.4" y2="164.54" stroke="#111" stroke-width="0.8"/>
<line x1="95.4" y1="162.57" x2="100.4" y2="162.57" stroke="#111" stroke-width="0.8"/>
<line x1="95.4" y1="160.86" x2="100.4" y2="160.86" stroke="#111" stroke-width="0.8"/>
<line x1="95.4" y1="159.35" x2="100.4" y2="159.35" stroke="#111" stroke-width="0.8"/>
<line x1="95.4" y1="208.09" x2="100.4" y2="208.09" stroke="#111" stroke-width="0.8"/>
<line x1="95.4" y1="202.89" x2="100.4" y2="202.89" stroke="#111" stroke-width="0.8"/>
<line x1="95.4" y1="199.21" x2="100.4" y2="199.21" stroke="#111" stroke-width="0.8"/>
<line x1="95.4" y1="196.35" x2="100.4" y2="196.35" stroke="#111" stroke-width="0.8"/>
<line x1="95.4" y1="194.02" x2="100.4" y2="194.02" stroke="#111" stroke-width="0.8"/>
<line x1="95.4" y1="192.05" x2="100.4" y2="192.05" stroke="#111" stroke-width="0.8"/>
<line x1="95.4" y1="190.34" x2="100.4" y2="190.34" stroke="#111" stroke-width="0.8"/>
<line x1="95.4" y1="188.83" x2="100.4" y2="188.83" stroke="#111" stroke-width="0.8"/>
<line x1="95.4" y1="237.57" x2="100.4" y2="237.57" stroke="#111" stroke-width="0.8"/>
<line x1="95.4" y1="232.37" x2="100.4" y2="232.37" stroke="#111" stroke-width="0.8"/>
<line x1="95.4" y1="228.69" x2="100.4" y2="228.69" stroke="#111" stroke-width="0.8"/>
<line x1="95.4" y1="225.83" x2="100.4" y2="225.83" stroke="#111" stroke-width="0.8"/>
<line x1="95.4" y1="223.50" x2="100.4" y2="223.50" stroke="#111" stroke-width="0.8"/>
<line x1="95.4" y1="221.53" x2="100.4" y2="221.53" stroke="#111" stroke-width="0.8"/>
<line x1="95.4" y1="219.82" x2="100.4" y2="219.82" stroke="#111" stroke-width="0.8"/>
<line x1="95.4" y1="218.31" x2="100.4" y2="218.31" stroke="#111" stroke-width="0.8"/>
<line x1="95.4" y1="267.05" x2="100.4" y2="267.05" stroke="#111" stroke-width="0.8"/>
<line x1="95.4" y1="261.85" x2="100.4" y2="261.85" stroke="#111" stroke-width="0.8"/>
<line x1="95.4" y1="258.17" x2="100.4" y2="258.17" stroke="#111" stroke-width="0.8"/>
<line x1="95.4" y1="255.31" x2="100.4" y2="255.31" stroke="#111" stroke-width="0.8"/>
<line x1="95.4" y1="252.98" x2="100.4" y2="252.98" stroke="#111" stroke-width="0.8"/>
<line x1="95.4" y1="251.01" x2="100.4" y2="251.01" stroke="#111" stroke-width="0.8"/>
<line x1="95.4" y1="249.30" x2="100.4" y2="249.30" stroke="#111" stroke-width="0.8"/>
<line x1="95.4" y1="247.79" x2="100.4" y2="247.79" stroke="#111" stroke-width="0.8"/>
<line x1="95.4" y1="282.46" x2="100.4" y2="282.46" stroke="#111" stroke-width="0.8"/>
<line x1="95.4" y1="280.49" x2="100.4" y2="280.49" stroke="#111" stroke-width="0.8"/>
<line x1="95.4" y1="278.78" x2="100.4" y2="278.78" stroke="#111" stroke-width="0.8"/>
<line x1="95.4" y1="277.27" x2="100.4" y2="277.27" stroke="#111" stroke-width="0.8"/>
<line x1="95.4" y1="282.46" x2="100.4" y2="282.46" stroke="#111" stroke-width="0.8"/>
<line x1="95.4" y1="280.49" x2="100.4" y2="280.49" stroke="#111" stroke-width="0.8"/>
<line x1="95.4" y1="278.78" x2="100.4" y2="278.78" stroke="#111" stroke-width="0.8"/>
<line x1="95.4" y1="277.27" x2="100.4" y2="277.27" stroke="#111" stroke-width="0.8"/>
<text x="385.5" y="317.4" font-size="13.3" text-anchor="middle">Energy (eV)</text>
<text transform="translate(43.2,219.9) rotate(-90)" x="0" y="0" font-size="13.3" text-anchor="middle">PE amplitude (a. u.)</text>
<text x="-0.9" y="160.5" font-size="16">(b)</text>
<line x1="230" y1="185" x2="260" y2="185" stroke="#000" stroke-width="1.4"/>
<line x1="230" y1="207.5" x2="260" y2="207.5" stroke="#0a7070" stroke-width="1.3" stroke-dasharray="11,2,3,2"/>
<line x1="321.6" y1="185.5" x2="352" y2="185.5" stroke="#cc6a0a" stroke-width="1.4" stroke-dasharray="8.2,3.9"/>
<text x="267.00" y="190.00" font-size="13.5" xml:space="preserve">PE</text>
<text x="282.75" y="194.80" font-size="9.2">HH</text>
<line x1="296.54" y1="191.76" x2="302.34" y2="191.76" stroke="#000" stroke-width="0.75"/>
<path d="M304.54,191.76 L301.74,190.26 L302.24,191.76 L301.74,193.26Z" fill="#000"/>
<text x="305.34" y="194.80" font-size="9.2">H</text>
<text x="267.00" y="212.30" font-size="13.5" xml:space="preserve">PE</text>
<text x="282.75" y="217.10" font-size="9.2">HV</text>
<line x1="296.54" y1="214.06" x2="302.34" y2="214.06" stroke="#000" stroke-width="0.75"/>
<path d="M304.54,214.06 L301.74,212.56 L302.24,214.06 L301.74,215.56Z" fill="#000"/>
<text x="305.34" y="217.10" font-size="9.2">H</text>
<text x="358.40" y="190.00" font-size="13.5" xml:space="preserve">PE</text>
<text x="374.15" y="194.80" font-size="9.2">HD</text>
<line x1="387.94" y1="191.76" x2="393.74" y2="191.76" stroke="#000" stroke-width="0.75"/>
<path d="M395.94,191.76 L393.14,190.26 L393.64,191.76 L393.14,193.26Z" fill="#000"/>
<text x="396.74" y="194.80" font-size="9.2">H</text>
<text x="403.39" y="190.00" font-size="13.5" xml:space="preserve"> (×2)</text>
<rect x="358.9" y="147.5" width="59.9" height="19.8" fill="#fff" stroke="#222" stroke-width="1"/>
<text x="388.85" y="161.5" font-size="13" text-anchor="middle">τ = 3.3 ps</text>
<path d="M76.4,135.5L76.4,143.6L137.0,167.7L137.0,201.8" fill="none" stroke="#000" stroke-width="1.1"/>
<path d="M137.00,207.80 L133.90,198.30 L137.00,200.10 L140.10,198.30Z" fill="#000"/>
<path d="M186.2,135.5L186.2,142.7L152.5,166.1L152.5,191.8" fill="none" stroke="#000" stroke-width="1.1"/>
<path d="M152.50,197.80 L149.40,188.30 L152.50,190.10 L155.60,188.30Z" fill="#000"/>
<path d="M298.1,135.5L298.1,141.0L195.1,148.6L195.1,157.0" fill="none" stroke="#000" stroke-width="1.1"/>
<path d="M195.10,163.00 L192.00,153.50 L195.10,155.30 L198.20,153.50Z" fill="#000"/>
<path d="M515.0,135.5L515.0,143.5L439.9,167.6L439.9,209.1" fill="none" stroke="#000" stroke-width="1.1"/>
<path d="M439.90,215.10 L436.80,205.60 L439.90,207.40 L443.00,205.60Z" fill="#000"/>
<path d="M629.0,135.5L629.0,144.5L616.5,167.9L616.5,205.9" fill="none" stroke="#000" stroke-width="1.1"/>
<path d="M616.50,211.90 L613.40,202.40 L616.50,204.20 L619.60,202.40Z" fill="#000"/>
<rect x="23.1" y="28.7" width="106.1" height="106.8" fill="#fff" stroke="#1a1a1a" stroke-width="1.3"/>
<circle cx="76.15" cy="82.1" r="50.5" fill="none" stroke="#222" stroke-width="0.95" stroke-dasharray="3.7,2.2"/>
<defs><path id="pb0" d="M126.8,82.1L126.8,81.7L126.6,81.2L126.6,80.8L126.5,80.3L126.5,79.9L126.3,79.5L126.2,79.0L126.1,78.6L125.9,78.2L125.8,77.8L125.5,77.3L125.2,76.9L124.9,76.5L124.8,76.1L124.5,75.7L124.2,75.3L123.8,75.0L123.5,74.6L123.2,74.2L122.8,73.9L122.6,73.5L122.3,73.1L121.7,72.8L121.0,72.6L120.5,72.3L120.2,71.9L119.9,71.6L119.4,71.3L119.1,71.0L118.5,70.8L117.9,70.5L117.4,70.3L116.9,70.0L116.4,69.8L115.7,69.6L114.9,69.5L114.3,69.3L113.7,69.2L113.1,69.0L112.4,68.9L111.7,68.8L111.1,68.7L110.5,68.6L109.8,68.5L109.1,68.4L108.4,68.4L107.7,68.4L107.1,68.3L106.4,68.3L105.6,68.4L104.8,68.4L104.1,68.5L103.4,68.5L102.6,68.6L101.9,68.7L101.1,68.8L100.3,69.0L99.5,69.2L98.7,69.3L98.0,69.5L97.2,69.7L96.4,69.9L95.6,70.2L94.9,70.4L94.1,70.6L93.4,70.9L92.6,71.2L91.8,71.5L91.1,71.9L90.3,72.2L89.5,72.6L88.8,72.9L88.0,73.3L87.3,73.7L86.5,74.1L85.8,74.6L85.0,75.1L84.3,75.5L83.6,76.0L82.9,76.5L82.2,77.0L81.4,77.5L80.7,78.0L80.1,78.6L79.4,79.1L78.7,79.7L78.1,80.3L77.4,80.9L76.8,81.5L76.1,82.1L76.3,81.9L76.6,81.6L76.9,81.3L77.2,81.0L77.5,80.6L77.8,80.2L78.2,79.8L78.5,79.4L78.9,78.9L79.2,78.5L79.6,78.0L79.9,77.5L80.3,76.9L80.6,76.4L80.9,75.9L81.2,75.4L81.6,74.8L81.9,74.2L82.2,73.6L82.5,73.0L82.8,72.4L83.1,71.8L83.4,71.2L83.7,70.5L83.9,69.9L84.2,69.3L84.4,68.7L84.6,68.0L84.9,67.3L85.1,66.6L85.2,66.1L85.4,65.4L85.6,64.6L85.8,63.9L85.9,63.3L86.0,62.7L86.2,62.0L86.3,61.3L86.4,60.7L86.5,60.0L86.5,59.3L86.6,58.6L86.6,58.0L86.6,57.4L86.6,56.8L86.6,56.1L86.6,55.5L86.6,54.9L86.6,54.3L86.5,53.6L86.5,52.9L86.4,52.3L86.3,51.7L86.2,51.2L86.1,50.6L86.0,50.0L85.8,49.4L85.7,49.0L85.5,48.4L85.3,47.9L85.1,47.4L84.9,47.0L84.7,46.5L84.5,45.9L84.3,45.5L84.0,45.0L83.7,44.8L83.5,44.4L83.2,43.9L83.0,43.4L82.7,43.1L82.4,42.8L82.1,42.4L81.8,42.0L81.5,41.6L81.1,41.4L80.8,41.2L80.5,41.1L80.1,40.9L79.8,40.7L79.4,40.5L79.1,40.3L78.7,40.3L78.4,40.1L78.0,40.0L77.6,39.9L77.3,39.9L76.9,39.7L76.5,39.5L76.1,39.6L75.8,39.7L75.4,39.6L75.0,39.6L74.7,39.7L74.3,40.0L74.0,40.2L73.6,40.3L73.2,40.4L72.9,40.6L72.5,40.6L72.2,40.7L71.8,41.1L71.5,41.4L71.2,41.9L70.9,41.9L70.5,42.2L70.2,42.3L69.9,42.8L69.6,43.0L69.3,43.3L69.0,43.7L68.8,44.1L68.5,44.7L68.3,45.1L68.1,45.6L67.8,45.9L67.6,46.4L67.4,46.9L67.2,47.4L67.0,47.9L66.8,48.4L66.7,49.0L66.5,49.5L66.4,50.1L66.2,50.7L66.1,51.3L66.0,51.8L65.9,52.4L65.8,53.0L65.7,53.5L65.7,54.2L65.7,54.8L65.7,55.5L65.7,56.1L65.7,56.8L65.7,57.4L65.7,58.1L65.7,58.7L65.8,59.4L65.8,60.0L65.9,60.6L66.0,61.4L66.2,62.1L66.3,62.7L66.4,63.3L66.5,64.0L66.7,64.7L66.9,65.4L67.1,66.0L67.3,66.7L67.4,67.3L67.7,68.0L67.9,68.6L68.1,69.3L68.4,69.9L68.7,70.6L68.9,71.2L69.2,71.8L69.5,72.4L69.8,73.0L70.1,73.6L70.4,74.2L70.7,74.8L71.1,75.3L71.4,75.9L71.7,76.4L72.1,77.0L72.4,77.5L72.8,78.0L73.1,78.5L73.4,78.9L73.8,79.4L74.1,79.8L74.5,80.2L74.8,80.6L75.1,81.0L75.4,81.3L75.7,81.6L76.0,81.9L76.1,82.1L75.5,81.5L74.9,80.9L74.3,80.3L73.6,79.7L72.9,79.2L72.3,78.6L71.6,78.1L70.9,77.5L70.2,77.0L69.5,76.5L68.8,76.0L68.1,75.6L67.4,75.1L66.6,74.7L65.9,74.2L65.1,73.8L64.4,73.4L63.7,73.1L63.0,72.7L62.1,72.3L61.4,71.9L60.6,71.6L59.8,71.3L59.1,71.0L58.3,70.8L57.6,70.5L56.7,70.2L56.0,70.0L55.2,69.8L54.5,69.6L53.8,69.4L53.0,69.3L52.3,69.1L51.5,69.0L50.7,68.8L49.9,68.7L49.1,68.6L48.4,68.6L47.7,68.5L46.9,68.5L46.3,68.5L45.6,68.5L45.0,68.5L44.2,68.6L43.6,68.6L42.9,68.7L42.3,68.8L41.5,68.8L40.8,68.9L40.1,69.0L39.6,69.2L39.0,69.3L38.4,69.5L37.8,69.6L37.2,69.8L36.7,70.0L36.1,70.2L35.4,70.4L34.7,70.6L34.2,70.9L33.7,71.1L33.4,71.4L32.8,71.7L32.4,72.0L31.8,72.3L31.3,72.6L31.1,72.9L30.7,73.3L30.5,73.6L29.9,73.9L29.7,74.3L29.3,74.7L29.0,75.1L28.5,75.4L28.2,75.8L28.0,76.2L27.8,76.6L27.5,77.0L27.3,77.4L27.2,77.8L27.0,78.2L26.8,78.6L26.4,79.1L26.4,79.5L26.3,79.9L26.3,80.4L26.2,80.8L26.3,81.2L26.1,81.7L26.1,82.1L26.1,82.5L26.2,83.0L26.3,83.4L26.2,83.8L26.2,84.3L26.4,84.7L26.6,85.1L26.8,85.6L26.6,86.0L27.0,86.4L27.3,86.8L27.6,87.2L27.8,87.6L28.1,88.0L28.4,88.4L28.5,88.8L28.8,89.2L29.1,89.5L29.5,89.9L29.7,90.3L30.1,90.6L30.5,91.0L31.0,91.3L31.5,91.6L32.0,91.9L32.3,92.2L32.7,92.5L33.2,92.8L33.8,93.1L34.3,93.3L34.8,93.6L35.4,93.8L36.0,94.0L36.6,94.2L37.2,94.4L37.8,94.6L38.3,94.8L38.9,94.9L39.6,95.0L40.2,95.2L40.9,95.3L41.4,95.4L42.1,95.5L42.7,95.6L43.5,95.6L44.1,95.7L44.7,95.8L45.6,95.7L46.4,95.7L47.1,95.6L47.9,95.6L48.5,95.6L49.3,95.5L50.0,95.4L50.7,95.4L51.4,95.3L52.2,95.1L53.0,95.0L53.7,94.8L54.5,94.6L55.3,94.4L56.0,94.2L56.8,94.0L57.5,93.7L58.3,93.5L59.1,93.2L59.8,92.9L60.6,92.6L61.3,92.3L62.1,91.9L62.8,91.6L63.6,91.2L64.4,90.8L65.2,90.4L65.9,90.0L66.6,89.5L67.4,89.1L68.1,88.6L68.8,88.1L69.5,87.7L70.2,87.2L70.9,86.7L71.6,86.2L72.2,85.6L72.9,85.0L73.6,84.5L74.3,83.9L74.9,83.3L75.5,82.7L76.1,82.1L76.0,82.3L75.7,82.6L75.4,82.9L75.1,83.2L74.8,83.6L74.5,84.0L74.1,84.4L73.8,84.8L73.5,85.3L73.1,85.7L72.8,86.2L72.4,86.7L72.1,87.2L71.8,87.7L71.4,88.2L71.1,88.8L70.8,89.4L70.5,89.9L70.1,90.5L69.9,91.1L69.6,91.7L69.3,92.3L69.0,92.9L68.7,93.5L68.4,94.2L68.2,94.8L68.0,95.5L67.7,96.1L67.5,96.7L67.3,97.4L67.1,98.1L66.9,98.8L66.7,99.5L66.6,100.1L66.4,100.8L66.3,101.4L66.2,102.1L66.1,102.7L66.1,103.3L66.0,103.9L65.9,104.7L65.8,105.4L65.7,106.0L65.7,106.6L65.7,107.3L65.8,107.8L65.8,108.5L65.8,109.1L65.8,109.7L65.8,110.4L65.9,111.0L66.0,111.6L66.1,112.0L66.2,112.7L66.3,113.3L66.4,113.9L66.6,114.4L66.7,115.0L66.9,115.5L67.1,115.9L67.3,116.5L67.5,117.0L67.7,117.4L67.9,117.8L68.1,118.3L68.3,118.8L68.6,119.3L68.9,119.6L69.1,120.0L69.4,120.4L69.7,120.7L70.0,121.1L70.3,121.5L70.6,121.9L70.9,122.1L71.2,122.3L71.5,122.5L71.9,122.6L72.2,122.6L72.6,122.9L72.9,123.2L73.3,123.5L73.6,123.7L74.0,123.7L74.3,123.8L74.7,124.0L75.0,124.3L75.4,124.3L75.8,124.2L76.1,124.2L76.5,124.1L76.9,124.1L77.2,124.0L77.6,124.1L78.0,124.0L78.3,123.8L78.7,123.6L79.0,123.5L79.4,123.3L79.7,123.1L80.1,122.8L80.4,122.5L80.7,122.4L81.1,122.3L81.4,122.2L81.7,121.8L82.0,121.4L82.3,121.1L82.6,120.7L82.9,120.4L83.2,120.1L83.5,119.8L83.7,119.3L84.0,118.8L84.2,118.3L84.4,118.0L84.7,117.6L84.8,117.0L85.0,116.4L85.2,116.0L85.5,115.6L85.6,115.1L85.7,114.5L85.8,113.8L85.9,113.1L86.0,112.5L86.2,112.0L86.3,111.5L86.4,111.0L86.5,110.4L86.5,109.8L86.5,109.2L86.6,108.5L86.6,107.9L86.6,107.2L86.5,106.5L86.4,105.8L86.4,105.2L86.4,104.5L86.3,103.9L86.2,103.2L86.2,102.6L86.0,101.9L85.9,101.3L85.8,100.6L85.7,100.0L85.5,99.4L85.4,98.7L85.1,98.0L85.0,97.3L84.8,96.8L84.6,96.2L84.4,95.5L84.1,94.9L83.9,94.2L83.6,93.6L83.3,92.9L83.0,92.3L82.7,91.7L82.5,91.1L82.2,90.5L81.8,89.9L81.5,89.3L81.2,88.8L80.9,88.3L80.5,87.7L80.2,87.2L79.9,86.7L79.5,86.2L79.2,85.7L78.8,85.3L78.5,84.8L78.1,84.4L77.8,84.0L77.5,83.6L77.2,83.2L76.9,82.9L76.6,82.6L76.3,82.3L76.1,82.1L76.8,82.7L77.4,83.3L78.1,83.9L78.7,84.5L79.4,85.1L80.1,85.6L80.8,86.2L81.5,86.7L82.2,87.2L82.9,87.7L83.6,88.2L84.3,88.7L85.0,89.2L85.8,89.6L86.5,90.0L87.2,90.4L87.9,90.8L88.8,91.3L89.5,91.7L90.3,92.0L91.0,92.3L91.8,92.6L92.5,93.0L93.3,93.3L94.1,93.5L94.8,93.8L95.7,94.1L96.4,94.3L97.2,94.5L97.9,94.6L98.7,94.9L99.5,95.0L100.2,95.2L101.0,95.3L101.8,95.5L102.7,95.6L103.5,95.7L104.1,95.8L104.8,95.8L105.5,95.8L106.2,95.8L106.9,95.8L107.7,95.8L108.4,95.8L109.2,95.8L109.9,95.7L110.5,95.6L111.2,95.6L111.8,95.4L112.5,95.3L113.1,95.2L113.8,95.1L114.4,94.9L115.2,94.8L115.7,94.6L116.2,94.3L116.7,94.1L117.2,93.9L117.7,93.6L118.2,93.4L118.9,93.2L119.6,92.9L120.0,92.6L120.5,92.3L120.8,92.0L121.2,91.7L121.4,91.3L121.8,91.0L122.3,90.7L122.8,90.3L122.9,89.9L123.1,89.5L123.4,89.2L124.0,88.8L124.4,88.5L124.7,88.1L124.7,87.6L125.2,87.3L125.4,86.8L125.9,86.5L126.1,86.0L126.3,85.6L126.3,85.2L126.3,84.7L126.3,84.3L126.4,83.9L126.5,83.4L126.7,83.0L126.7,82.5Z"/><path id="pr0" d="M76.1,82.1L77.2,82.1L78.1,82.1L79.0,82.0L79.9,82.0L80.8,81.9L81.7,81.8L82.6,81.7L83.4,81.6L84.3,81.5L85.1,81.3L86.0,81.2L86.7,81.0L87.6,80.8L88.4,80.6L89.2,80.4L90.0,80.2L90.8,79.9L91.5,79.7L92.3,79.4L93.0,79.1L93.8,78.8L94.5,78.5L95.2,78.2L95.9,77.9L96.7,77.5L97.3,77.2L97.9,76.9L98.4,76.5L99.2,76.1L99.9,75.7L100.6,75.3L101.2,74.9L101.8,74.5L102.4,74.1L102.9,73.7L103.5,73.2L103.9,72.8L104.4,72.4L104.9,71.9L105.6,71.4L106.0,70.9L106.4,70.5L106.7,70.0L107.3,69.5L107.7,69.0L108.2,68.5L108.5,68.0L108.9,67.5L109.3,67.0L109.6,66.5L109.9,66.0L110.2,65.5L110.6,64.9L110.9,64.4L111.2,63.8L111.5,63.3L111.6,62.8L111.6,62.4L111.8,61.9L112.0,61.4L112.2,60.9L112.3,60.4L112.5,59.8L112.5,59.4L112.5,58.9L112.4,58.6L112.6,58.0L112.7,57.4L113.0,56.8L112.9,56.3L112.9,55.9L112.8,55.5L112.7,55.0L112.6,54.6L112.5,54.2L112.5,53.7L112.5,53.2L112.5,52.7L112.2,52.4L112.0,52.0L111.8,51.6L111.7,51.2L111.5,50.8L111.2,50.5L110.9,50.2L110.8,49.8L110.6,49.4L110.3,49.1L110.1,48.7L109.7,48.5L109.5,48.2L109.0,48.0L108.8,47.7L108.4,47.5L108.1,47.2L107.7,47.1L107.3,46.9L106.9,46.7L106.5,46.6L106.1,46.4L105.8,46.2L105.5,45.9L105.1,45.7L104.8,45.5L104.3,45.4L103.8,45.4L103.3,45.4L102.8,45.4L102.4,45.3L101.8,45.5L101.4,45.4L100.8,45.6L100.4,45.5L99.8,45.6L99.4,45.6L98.9,45.7L98.4,45.7L98.0,45.8L97.4,46.1L96.8,46.3L96.3,46.4L95.9,46.5L95.4,46.7L94.8,47.0L94.3,47.3L93.7,47.6L93.2,47.9L92.7,48.2L92.2,48.5L91.7,48.7L91.3,48.9L90.8,49.3L90.2,49.7L89.7,50.2L89.3,50.4L88.8,50.9L88.3,51.2L87.8,51.9L87.3,52.4L86.8,52.8L86.3,53.3L85.9,53.8L85.4,54.4L85.0,54.9L84.5,55.5L84.2,55.9L83.7,56.5L83.3,57.0L82.9,57.8L82.5,58.3L82.1,59.1L81.7,59.7L81.4,60.3L81.0,61.0L80.7,61.6L80.4,62.3L80.0,63.0L79.7,63.7L79.4,64.5L79.1,65.3L78.8,66.0L78.6,66.8L78.3,67.5L78.1,68.3L77.9,69.1L77.7,69.8L77.5,70.6L77.3,71.4L77.1,72.3L76.9,73.1L76.8,74.0L76.7,74.8L76.5,75.7L76.4,76.5L76.4,77.4L76.3,78.3L76.2,79.2L76.2,80.1L76.2,81.1L76.1,82.1L76.1,81.1L76.1,80.2L76.1,79.3L76.0,78.4L76.0,77.6L75.9,76.7L75.8,75.9L75.7,75.1L75.5,74.2L75.4,73.4L75.2,72.6L75.1,71.8L74.9,71.0L74.7,70.2L74.5,69.4L74.3,68.7L74.0,67.9L73.8,67.3L73.5,66.5L73.3,65.8L73.0,65.0L72.7,64.3L72.4,63.6L72.1,62.9L71.8,62.3L71.5,61.7L71.1,61.1L70.7,60.4L70.3,59.7L70.0,59.0L69.6,58.5L69.2,57.9L68.8,57.3L68.4,56.7L68.0,56.2L67.6,55.7L67.1,55.1L66.7,54.6L66.2,54.1L65.8,53.6L65.3,53.1L64.9,52.9L64.5,52.4L64.0,52.0L63.5,51.5L63.0,51.2L62.6,50.8L62.1,50.5L61.5,50.1L61.0,49.6L60.4,49.2L59.9,48.8L59.5,48.7L59.0,48.5L58.6,48.5L58.1,48.2L57.7,48.1L57.1,47.8L56.7,47.7L56.2,47.5L55.6,47.3L55.1,47.0L54.6,46.9L54.1,46.8L53.7,46.8L53.3,46.9L52.8,46.9L52.3,46.7L51.7,46.6L51.2,46.5L50.9,46.6L50.4,46.7L50.0,46.8L49.6,46.9L49.1,46.8L48.6,46.8L48.1,46.9L47.8,47.1L47.5,47.3L47.1,47.5L46.7,47.6L46.4,47.8L46.0,48.0L45.7,48.3L45.3,48.4L45.0,48.7L44.7,49.0L44.4,49.3L44.1,49.5L43.7,49.7L43.4,49.9L43.0,50.1L42.7,50.3L42.5,50.7L42.3,51.1L42.2,51.5L41.9,51.8L41.7,52.1L41.5,52.5L41.4,53.0L41.3,53.3L41.2,53.8L41.2,54.3L41.2,54.8L41.0,55.2L41.0,55.6L41.0,56.1L40.8,56.4L40.7,56.8L40.4,57.1L40.5,57.6L40.4,58.0L40.6,58.6L40.7,59.0L40.9,59.6L41.1,60.2L41.2,60.7L41.2,61.1L41.2,61.5L41.2,61.9L41.4,62.4L41.7,63.0L41.9,63.5L42.0,64.0L42.3,64.5L42.6,65.0L43.0,65.6L43.2,66.0L43.4,66.5L43.7,67.0L44.1,67.5L44.4,68.0L44.8,68.5L45.3,69.0L45.7,69.5L46.2,70.0L46.5,70.4L46.8,70.8L47.2,71.3L47.7,71.7L48.3,72.2L48.7,72.7L49.2,73.1L49.8,73.5L50.3,73.9L50.8,74.4L51.4,74.8L52.0,75.2L52.5,75.6L53.2,76.0L53.9,76.3L54.4,76.7L55.0,77.0L55.6,77.4L56.4,77.7L57.0,78.0L57.7,78.3L58.4,78.6L59.0,78.9L59.8,79.2L60.5,79.5L61.3,79.8L62.0,80.0L62.8,80.2L63.5,80.4L64.3,80.6L65.0,80.8L65.8,81.0L66.6,81.2L67.4,81.3L68.3,81.5L69.1,81.6L69.9,81.7L70.8,81.8L71.6,81.9L72.5,82.0L73.4,82.0L74.3,82.1L75.2,82.1L76.1,82.1L75.2,82.1L74.3,82.1L73.4,82.2L72.5,82.2L71.6,82.3L70.8,82.4L70.0,82.5L69.1,82.6L68.3,82.7L67.5,82.9L66.7,83.0L65.9,83.2L65.1,83.4L64.3,83.6L63.5,83.8L62.7,84.0L62.0,84.2L61.3,84.5L60.5,84.7L59.8,85.0L59.1,85.3L58.4,85.5L57.7,85.8L57.0,86.2L56.3,86.5L55.6,86.8L54.9,87.2L54.4,87.5L53.7,87.9L53.1,88.3L52.4,88.7L51.9,89.1L51.3,89.4L50.9,89.8L50.4,90.2L49.9,90.6L49.3,91.1L48.7,91.6L48.2,92.0L47.7,92.5L47.2,92.9L46.8,93.4L46.4,93.8L46.0,94.3L45.6,94.8L45.3,95.2L45.0,95.7L44.5,96.2L44.2,96.6L43.9,97.1L43.6,97.6L43.1,98.2L42.9,98.7L42.7,99.2L42.5,99.6L42.2,100.1L41.9,100.7L41.8,101.2L41.6,101.7L41.5,102.1L41.3,102.6L41.2,103.1L41.2,103.5L41.1,104.0L41.0,104.5L40.8,105.1L40.7,105.5L40.5,106.1L40.5,106.6L40.5,107.1L40.7,107.4L40.7,107.9L40.7,108.4L40.7,108.8L40.7,109.3L40.8,109.7L40.9,110.1L41.1,110.5L41.3,110.8L41.2,111.4L41.5,111.7L41.7,112.1L42.1,112.2L42.4,112.5L42.6,112.9L42.8,113.2L43.0,113.6L43.2,113.9L43.5,114.2L43.6,114.7L43.9,114.9L44.3,115.1L44.7,115.2L45.0,115.5L45.4,115.7L45.7,115.9L46.0,116.2L46.3,116.5L46.6,116.7L47.0,116.8L47.4,117.0L47.8,117.1L48.2,117.3L48.7,117.3L49.0,117.4L49.5,117.5L49.9,117.6L50.4,117.5L50.8,117.6L51.3,117.6L51.5,117.9L52.1,117.7L52.5,117.8L53.2,117.5L53.6,117.5L54.1,117.4L54.6,117.3L55.1,117.1L55.6,117.0L56.1,116.9L56.6,116.7L57.0,116.6L57.5,116.5L58.0,116.2L58.6,115.9L59.1,115.5L59.6,115.2L60.1,114.9L60.6,114.7L61.1,114.5L61.6,114.1L62.1,113.7L62.6,113.4L63.0,113.0L63.5,112.6L64.0,112.2L64.5,111.7L65.0,111.3L65.4,110.8L65.8,110.4L66.3,110.0L66.7,109.4L67.1,109.0L67.6,108.5L68.0,108.0L68.4,107.5L68.8,106.9L69.2,106.3L69.6,105.7L70.0,105.1L70.4,104.4L70.7,103.8L71.1,103.2L71.4,102.6L71.8,101.8L72.1,101.2L72.4,100.6L72.7,99.9L73.0,99.2L73.3,98.4L73.5,97.7L73.8,97.0L74.0,96.2L74.3,95.5L74.5,94.7L74.7,94.0L74.9,93.2L75.1,92.4L75.2,91.6L75.4,90.8L75.5,89.9L75.7,89.1L75.8,88.3L75.9,87.5L76.0,86.6L76.0,85.8L76.1,84.9L76.1,84.0L76.1,83.1L76.1,82.1L76.2,83.1L76.2,84.0L76.2,84.9L76.3,85.8L76.3,86.7L76.4,87.5L76.5,88.4L76.7,89.3L76.8,90.1L76.9,90.9L77.1,91.8L77.3,92.6L77.4,93.4L77.6,94.1L77.8,94.9L78.1,95.7L78.3,96.5L78.5,97.2L78.8,97.9L79.1,98.7L79.4,99.4L79.6,100.1L80.0,100.8L80.3,101.6L80.6,102.3L81.0,103.0L81.3,103.6L81.7,104.3L82.1,105.0L82.4,105.6L82.8,106.2L83.2,106.8L83.6,107.4L84.1,108.0L84.5,108.5L84.8,108.9L85.3,109.4L85.7,109.9L86.2,110.4L86.6,110.9L87.1,111.4L87.6,111.9L88.1,112.4L88.6,112.8L89.0,113.2L89.5,113.5L90.0,113.9L90.5,114.4L91.1,114.8L91.5,115.1L92.0,115.3L92.4,115.5L92.9,115.7L93.5,116.2L94.0,116.5L94.5,116.7L95.0,116.9L95.5,117.0L96.1,117.3L96.5,117.4L97.1,117.7L97.6,117.8L98.2,118.0L98.6,118.1L99.1,118.1L99.5,118.0L100.0,118.1L100.4,118.1L101.0,118.2L101.5,118.3L101.9,118.2L102.3,118.1L102.7,118.0L103.3,118.1L103.7,118.0L104.1,117.9L104.5,117.8L105.0,117.8L105.5,117.6L105.7,117.4L106.2,117.3L106.6,117.1L107.1,117.1L107.6,117.0L107.9,116.8L108.1,116.3L108.3,116.0L108.6,115.7L109.0,115.5L109.1,115.1L109.5,114.9L109.8,114.6L110.0,114.3L110.2,113.8L110.3,113.4L110.7,113.2L110.9,112.8L111.1,112.4L111.3,112.1L111.4,111.7L111.7,111.4L111.8,111.0L112.0,110.6L112.0,110.1L112.0,109.6L112.2,109.2L112.3,108.8L112.3,108.4L112.3,107.9L112.3,107.4L112.3,107.0L112.3,106.5L112.2,106.0L112.1,105.4L112.0,105.0L112.0,104.5L111.9,104.0L111.8,103.5L111.6,103.0L111.4,102.5L111.4,102.0L111.3,101.6L111.0,101.0L110.7,100.5L110.5,100.0L110.4,99.5L110.2,99.1L109.9,98.5L109.4,98.0L109.1,97.4L108.7,96.9L108.3,96.4L107.9,95.9L107.6,95.4L107.3,95.0L106.9,94.5L106.5,94.0L106.0,93.6L105.6,93.1L105.0,92.6L104.5,92.1L104.0,91.7L103.6,91.3L103.1,90.8L102.5,90.4L102.0,90.0L101.4,89.6L100.9,89.2L100.2,88.8L99.6,88.4L99.0,88.0L98.4,87.6L97.7,87.3L96.9,86.9L96.2,86.6L95.6,86.2L94.9,85.9L94.2,85.6L93.5,85.3L92.8,85.0L92.1,84.8L91.3,84.5L90.5,84.2L89.7,84.0L88.9,83.8L88.2,83.6L87.4,83.4L86.6,83.2L85.8,83.0L85.0,82.9L84.2,82.7L83.4,82.6L82.5,82.5L81.6,82.4L80.8,82.3L79.9,82.2L79.0,82.2L78.1,82.1L77.1,82.1Z"/></defs>
<use href="#pb0" fill="#80c0ea"/>
<use href="#pr0" fill="#ff3d0a" fill-opacity="0.5"/>
<use href="#pb0" fill="none" stroke="#10509a" stroke-width="1.1" stroke-linejoin="round"/>
<use href="#pr0" fill="none" stroke="#ff4500" stroke-width="1.0" stroke-linejoin="round"/>
<rect x="132.9" y="28.7" width="106.6" height="106.8" fill="#fff" stroke="#1a1a1a" stroke-width="1.3"/>
<circle cx="186.20" cy="82.1" r="50.5" fill="none" stroke="#222" stroke-width="0.95" stroke-dasharray="3.7,2.2"/>
<defs><path id="pb1" d="M238.1,82.1L238.2,81.6L237.9,81.2L238.1,80.7L238.0,80.3L237.8,79.8L237.7,79.4L237.5,79.0L237.9,78.5L237.7,78.0L237.6,77.6L237.2,77.2L236.9,76.8L236.6,76.4L236.4,75.9L236.3,75.5L236.1,75.1L235.9,74.7L235.6,74.3L235.3,73.9L235.0,73.5L234.8,73.1L234.4,72.7L233.9,72.4L233.5,72.0L233.3,71.7L232.9,71.3L232.4,71.0L231.9,70.7L231.4,70.4L231.0,70.1L230.5,69.8L230.1,69.5L229.6,69.2L229.1,69.0L228.3,68.8L227.9,68.6L227.2,68.4L226.7,68.1L226.1,68.0L225.6,67.7L225.1,67.5L224.4,67.4L223.8,67.3L223.2,67.2L222.7,67.0L222.1,66.9L221.4,66.8L220.8,66.7L220.0,66.7L219.3,66.7L218.6,66.7L217.9,66.6L217.2,66.6L216.5,66.7L215.7,66.7L214.9,66.8L214.2,66.9L213.5,67.0L212.8,67.1L212.0,67.2L211.2,67.4L210.5,67.5L209.7,67.7L208.9,67.9L208.1,68.1L207.5,68.3L206.6,68.6L205.8,68.9L205.0,69.2L204.2,69.5L203.5,69.8L202.6,70.2L201.8,70.5L201.0,71.0L200.2,71.4L199.4,71.8L198.6,72.3L197.7,72.8L196.9,73.3L196.0,73.9L195.2,74.4L194.3,75.0L193.5,75.7L192.6,76.4L191.6,77.1L190.7,77.9L189.8,78.7L188.8,79.6L187.7,80.7L186.2,82.1L186.4,81.9L186.6,81.7L186.8,81.4L187.1,81.2L187.3,80.8L187.6,80.5L187.9,80.2L188.2,79.8L188.5,79.4L188.8,79.0L189.1,78.6L189.4,78.2L189.7,77.7L190.0,77.3L190.2,76.8L190.5,76.4L190.8,75.9L191.1,75.4L191.4,74.8L191.6,74.3L191.9,73.9L192.1,73.4L192.3,72.9L192.6,72.3L192.8,71.8L193.0,71.2L193.2,70.7L193.4,70.1L193.6,69.6L193.7,69.1L193.9,68.5L194.1,67.9L194.3,67.2L194.4,66.7L194.5,66.1L194.6,65.6L194.8,64.9L194.8,64.4L194.9,63.8L195.0,63.3L195.0,62.8L195.0,62.3L195.1,61.6L195.1,61.0L195.2,60.5L195.1,60.0L195.1,59.5L195.1,58.9L195.1,58.4L195.0,57.9L195.0,57.3L194.9,56.7L194.8,56.3L194.7,55.9L194.6,55.5L194.5,55.0L194.4,54.4L194.3,53.9L194.1,53.4L194.0,53.0L193.8,52.6L193.6,52.3L193.5,51.9L193.3,51.5L193.1,51.1L192.9,50.7L192.6,50.4L192.4,50.0L192.2,49.6L192.0,49.3L191.7,49.0L191.5,48.7L191.2,48.4L191.0,48.0L190.7,47.9L190.4,47.7L190.1,47.6L189.9,47.2L189.6,47.1L189.3,46.8L189.0,46.6L188.7,46.5L188.4,46.3L188.1,46.3L187.8,46.2L187.5,46.2L187.1,46.2L186.8,46.0L186.5,46.0L186.2,45.8L185.9,45.9L185.6,46.0L185.3,46.2L184.9,46.2L184.6,46.3L184.3,46.4L184.0,46.5L183.7,46.5L183.4,46.7L183.1,46.8L182.8,47.1L182.5,47.3L182.3,47.6L182.0,47.8L181.7,48.0L181.4,48.2L181.2,48.4L180.9,48.6L180.6,48.9L180.4,49.2L180.2,49.5L179.9,49.9L179.7,50.4L179.5,50.7L179.3,51.1L179.1,51.4L178.9,51.9L178.7,52.1L178.6,52.6L178.4,53.0L178.3,53.5L178.1,54.0L178.0,54.4L177.9,54.9L177.8,55.4L177.7,55.8L177.6,56.4L177.5,56.9L177.5,57.5L177.4,58.0L177.4,58.5L177.3,58.9L177.3,59.4L177.3,60.0L177.3,60.6L177.3,61.1L177.3,61.7L177.3,62.2L177.4,62.8L177.5,63.4L177.5,64.0L177.6,64.5L177.7,65.0L177.8,65.6L177.9,66.2L178.0,66.7L178.2,67.3L178.3,67.9L178.5,68.5L178.6,69.0L178.8,69.5L179.0,70.1L179.2,70.6L179.4,71.2L179.6,71.8L179.8,72.3L180.0,72.8L180.3,73.3L180.5,73.9L180.8,74.4L181.0,74.9L181.3,75.4L181.6,75.9L181.9,76.4L182.1,76.8L182.4,77.3L182.7,77.7L183.0,78.2L183.3,78.6L183.6,79.0L183.9,79.4L184.2,79.8L184.5,80.2L184.8,80.5L185.0,80.8L185.3,81.2L185.6,81.4L185.8,81.7L186.0,81.9L186.2,82.1L184.8,80.7L183.7,79.7L182.7,78.8L181.8,78.0L180.9,77.3L180.0,76.5L179.2,75.9L178.3,75.3L177.5,74.7L176.7,74.1L175.9,73.6L175.1,73.1L174.2,72.6L173.4,72.1L172.6,71.7L171.8,71.3L171.0,70.9L170.3,70.5L169.5,70.2L168.8,69.9L167.9,69.5L167.1,69.2L166.3,68.9L165.6,68.7L164.8,68.4L164.1,68.3L163.4,68.1L162.7,68.0L162.0,67.8L161.2,67.7L160.5,67.6L159.8,67.4L159.0,67.3L158.3,67.3L157.7,67.3L156.9,67.2L156.2,67.1L155.4,67.1L154.7,67.1L154.0,67.1L153.4,67.2L152.9,67.3L152.3,67.4L151.6,67.4L150.8,67.5L150.2,67.6L149.7,67.7L149.1,67.8L148.5,68.0L148.0,68.2L147.5,68.4L147.0,68.6L146.5,68.8L145.9,69.0L145.4,69.2L144.8,69.4L144.2,69.7L143.5,69.9L143.0,70.1L142.6,70.4L142.3,70.7L141.9,71.1L141.5,71.4L141.1,71.7L140.7,72.0L140.5,72.4L140.2,72.7L139.8,73.1L139.2,73.4L139.0,73.8L138.7,74.2L138.4,74.5L138.2,74.9L137.8,75.3L137.6,75.7L137.2,76.1L137.0,76.5L136.9,76.9L136.7,77.3L136.6,77.8L136.4,78.2L136.3,78.6L135.9,79.0L135.9,79.5L135.9,79.9L136.0,80.3L135.9,80.8L135.8,81.2L135.8,81.7L135.7,82.1L135.8,82.5L135.8,83.0L136.1,83.4L136.2,83.8L136.2,84.3L136.1,84.7L136.2,85.2L136.5,85.6L136.6,86.0L136.6,86.4L136.8,86.9L137.0,87.3L137.2,87.7L137.2,88.1L137.6,88.5L137.7,88.9L138.0,89.3L138.2,89.7L138.7,90.1L139.0,90.4L139.3,90.8L139.6,91.2L139.9,91.5L140.2,91.9L140.5,92.2L140.9,92.6L141.4,92.9L142.0,93.1L142.5,93.4L142.9,93.7L143.2,94.0L143.6,94.3L144.2,94.5L144.7,94.8L145.3,95.0L145.7,95.2L146.2,95.5L146.8,95.7L147.5,95.8L148.1,96.0L148.5,96.2L149.0,96.4L149.6,96.5L150.2,96.6L150.8,96.8L151.3,96.9L152.0,97.0L152.7,97.0L153.3,97.1L154.0,97.1L154.8,97.1L155.4,97.1L156.1,97.1L156.7,97.1L157.5,97.0L158.2,97.0L159.0,96.9L159.6,96.8L160.4,96.7L161.1,96.6L161.8,96.5L162.6,96.3L163.4,96.1L164.1,95.9L164.8,95.7L165.5,95.5L166.3,95.2L167.1,95.0L167.9,94.7L168.7,94.4L169.5,94.0L170.3,93.6L171.1,93.3L171.9,92.9L172.7,92.5L173.4,92.1L174.3,91.6L175.0,91.1L175.9,90.6L176.7,90.1L177.6,89.5L178.4,88.9L179.2,88.3L180.1,87.6L180.9,86.9L181.8,86.2L182.8,85.4L183.7,84.5L184.8,83.5L186.2,82.1L186.0,82.3L185.8,82.5L185.6,82.8L185.3,83.0L185.0,83.4L184.8,83.7L184.5,84.0L184.2,84.4L183.9,84.8L183.6,85.2L183.3,85.6L183.0,86.0L182.7,86.5L182.4,86.9L182.2,87.4L181.9,87.9L181.6,88.4L181.3,88.9L181.0,89.3L180.8,89.8L180.6,90.3L180.3,90.8L180.1,91.4L179.8,91.9L179.6,92.4L179.4,93.0L179.2,93.5L179.0,94.1L178.8,94.6L178.6,95.2L178.5,95.8L178.3,96.3L178.2,96.9L178.0,97.4L177.9,98.0L177.8,98.6L177.7,99.1L177.6,99.7L177.5,100.3L177.4,100.9L177.3,101.5L177.3,102.1L177.2,102.7L177.2,103.2L177.2,103.8L177.2,104.3L177.3,104.8L177.3,105.3L177.3,105.8L177.3,106.4L177.4,106.9L177.5,107.5L177.6,107.9L177.6,108.5L177.7,109.0L177.9,109.4L178.0,109.8L178.1,110.2L178.3,110.7L178.4,111.1L178.6,111.6L178.7,112.1L178.9,112.5L179.1,112.9L179.3,113.2L179.5,113.6L179.7,113.9L180.0,114.2L180.2,114.5L180.4,114.9L180.7,115.2L180.9,115.5L181.2,115.7L181.4,116.0L181.7,116.3L182.0,116.6L182.2,116.8L182.5,117.0L182.8,117.1L183.1,117.2L183.4,117.4L183.7,117.6L184.0,117.7L184.3,117.8L184.6,117.9L184.9,118.1L185.3,118.2L185.6,118.2L185.9,118.1L186.2,118.2L186.5,118.1L186.8,118.1L187.1,118.0L187.5,118.1L187.8,117.9L188.1,117.9L188.4,117.7L188.7,117.6L189.0,117.4L189.3,117.3L189.6,117.0L189.8,116.8L190.1,116.7L190.4,116.5L190.7,116.4L191.0,116.1L191.2,115.8L191.5,115.5L191.7,115.2L192.0,115.0L192.2,114.6L192.4,114.0L192.6,113.6L192.8,113.4L193.1,113.2L193.3,112.8L193.5,112.4L193.6,112.0L193.8,111.6L194.0,111.2L194.2,110.8L194.3,110.3L194.4,109.8L194.5,109.3L194.6,108.8L194.8,108.4L194.9,108.0L194.9,107.5L195.0,106.8L195.0,106.2L195.0,105.7L195.1,105.3L195.2,104.8L195.2,104.3L195.1,103.6L195.1,103.1L195.1,102.5L195.1,102.0L195.0,101.4L195.0,100.9L194.9,100.3L194.8,99.8L194.7,99.2L194.6,98.6L194.5,98.0L194.4,97.5L194.2,96.9L194.1,96.4L194.0,95.8L193.8,95.2L193.6,94.6L193.4,94.1L193.2,93.5L193.0,93.0L192.8,92.5L192.6,91.9L192.4,91.4L192.1,90.8L191.8,90.3L191.6,89.8L191.3,89.3L191.1,88.8L190.8,88.3L190.5,87.9L190.3,87.4L190.0,86.9L189.7,86.5L189.4,86.0L189.1,85.6L188.8,85.2L188.5,84.8L188.2,84.4L187.9,84.0L187.6,83.7L187.4,83.4L187.1,83.0L186.8,82.8L186.6,82.5L186.4,82.3L186.2,82.1L187.7,83.5L188.8,84.6L189.8,85.5L190.7,86.3L191.7,87.1L192.6,87.8L193.4,88.5L194.3,89.2L195.2,89.8L196.0,90.4L196.8,90.9L197.7,91.4L198.5,91.9L199.4,92.4L200.2,92.9L201.0,93.3L201.8,93.7L202.6,94.0L203.4,94.4L204.2,94.7L205.0,95.0L205.8,95.3L206.6,95.6L207.4,95.9L208.2,96.1L209.0,96.4L209.9,96.6L210.7,96.8L211.4,96.9L212.1,97.0L212.7,97.1L213.5,97.2L214.1,97.3L214.9,97.4L215.7,97.4L216.6,97.6L217.4,97.6L218.0,97.6L218.6,97.6L219.2,97.5L220.0,97.5L220.6,97.4L221.4,97.4L222.2,97.4L222.9,97.3L223.6,97.2L224.1,97.0L224.6,96.8L225.2,96.7L225.9,96.5L226.4,96.3L226.9,96.1L227.3,95.8L227.8,95.6L228.4,95.4L229.0,95.2L229.5,94.9L229.9,94.6L230.4,94.4L231.0,94.1L231.6,93.8L232.0,93.5L232.3,93.2L232.8,92.9L233.2,92.5L233.6,92.2L233.9,91.8L234.1,91.4L234.5,91.0L234.7,90.7L235.3,90.3L235.7,89.9L236.0,89.5L236.1,89.1L236.2,88.7L236.4,88.3L236.8,87.9L236.9,87.4L237.0,87.0L237.2,86.6L237.5,86.1L237.7,85.7L237.7,85.2L237.9,84.8L237.8,84.4L237.9,83.9L238.0,83.5L238.3,83.0L238.5,82.6Z"/><path id="pr1" d="M186.2,82.1L186.9,82.1L187.7,82.1L188.4,82.0L189.2,82.0L189.9,81.9L190.6,81.9L191.3,81.8L192.1,81.7L192.8,81.6L193.6,81.5L194.3,81.3L195.0,81.2L195.7,81.0L196.4,80.8L197.1,80.7L197.8,80.5L198.5,80.3L199.2,80.0L199.8,79.8L200.5,79.6L201.1,79.3L201.8,79.1L202.5,78.8L203.1,78.5L203.7,78.2L204.3,77.9L205.0,77.6L205.5,77.3L206.1,77.0L206.6,76.6L207.2,76.3L207.8,75.9L208.4,75.5L209.0,75.1L209.5,74.7L210.0,74.4L210.4,74.0L210.8,73.6L211.4,73.2L211.9,72.7L212.4,72.3L212.7,71.9L213.1,71.5L213.5,71.1L213.9,70.6L214.3,70.2L214.8,69.7L215.1,69.2L215.5,68.8L215.7,68.3L216.0,67.9L216.3,67.4L216.5,67.0L216.9,66.5L217.0,66.0L217.4,65.5L217.5,65.1L217.8,64.6L217.9,64.1L218.2,63.6L218.4,63.1L218.5,62.7L218.6,62.3L218.6,61.8L218.6,61.4L218.8,60.9L218.8,60.5L218.8,60.1L218.9,59.6L219.0,59.2L219.0,58.7L218.9,58.3L218.9,57.9L219.0,57.4L218.8,57.1L218.7,56.7L218.4,56.5L218.3,56.1L218.1,55.8L218.1,55.3L218.1,54.9L218.2,54.3L217.9,54.0L217.8,53.7L217.4,53.5L217.2,53.2L216.9,53.0L216.6,52.8L216.3,52.5L216.1,52.2L215.9,51.9L215.6,51.7L215.4,51.3L215.2,51.1L214.9,50.8L214.6,50.6L214.2,50.4L213.9,50.2L213.5,50.2L213.1,50.1L212.8,49.9L212.4,49.7L212.1,49.6L211.7,49.5L211.2,49.5L210.8,49.4L210.3,49.5L210.0,49.4L209.5,49.4L209.2,49.3L208.7,49.3L208.3,49.4L207.8,49.5L207.4,49.5L206.9,49.5L206.5,49.7L206.0,49.8L205.4,50.1L205.1,50.0L204.6,50.2L204.2,50.3L203.7,50.4L203.4,50.5L202.9,50.7L202.4,51.0L201.9,51.4L201.4,51.5L201.0,51.8L200.5,52.2L200.0,52.5L199.5,52.8L199.1,53.1L198.6,53.5L198.2,53.9L197.7,54.4L197.2,55.0L196.7,55.3L196.4,55.6L196.0,56.0L195.6,56.4L195.1,56.8L194.8,57.3L194.3,57.8L193.9,58.3L193.5,58.9L193.1,59.4L192.8,60.0L192.4,60.4L192.1,61.0L191.7,61.5L191.4,62.1L191.0,62.8L190.7,63.3L190.4,64.0L190.1,64.6L189.8,65.2L189.5,65.8L189.2,66.5L189.0,67.2L188.7,67.8L188.5,68.5L188.3,69.1L188.0,69.7L187.8,70.5L187.6,71.2L187.4,72.0L187.3,72.6L187.1,73.3L187.0,74.0L186.8,74.8L186.7,75.5L186.6,76.2L186.5,76.9L186.4,77.6L186.4,78.4L186.3,79.1L186.3,79.9L186.2,80.6L186.2,81.4L186.2,82.1L186.2,82.1L186.2,82.1L186.2,81.4L186.1,80.6L186.1,79.9L186.0,79.1L186.0,78.4L185.9,77.7L185.8,77.0L185.7,76.2L185.6,75.5L185.4,74.8L185.3,74.1L185.1,73.4L185.0,72.6L184.8,71.9L184.6,71.2L184.4,70.5L184.2,69.9L183.9,69.2L183.7,68.5L183.4,67.8L183.2,67.1L182.9,66.6L182.6,65.9L182.3,65.3L182.0,64.7L181.7,64.1L181.4,63.5L181.0,62.8L180.7,62.2L180.3,61.6L180.0,61.1L179.6,60.5L179.2,60.0L178.8,59.4L178.5,58.9L178.0,58.4L177.6,57.9L177.2,57.3L176.8,56.8L176.4,56.5L176.0,56.2L175.6,55.8L175.1,55.4L174.7,55.0L174.2,54.5L173.8,54.2L173.3,53.8L172.9,53.5L172.4,53.3L172.0,52.9L171.4,52.5L171.0,52.2L170.5,51.9L170.1,51.7L169.6,51.5L169.2,51.4L168.7,51.2L168.2,50.9L167.6,50.6L167.2,50.4L166.7,50.3L166.3,50.2L165.8,50.1L165.3,50.0L164.9,49.9L164.5,49.9L164.0,49.8L163.5,49.7L163.0,49.6L162.6,49.6L162.2,49.6L161.8,49.8L161.4,49.8L161.0,49.9L160.5,49.8L160.1,49.9L159.8,50.0L159.4,50.2L159.1,50.3L158.7,50.5L158.4,50.7L158.1,50.9L157.6,50.9L157.3,51.1L156.8,51.2L156.7,51.6L156.5,51.9L156.3,52.2L156.0,52.4L155.6,52.5L155.4,52.9L155.1,53.1L154.8,53.4L154.6,53.7L154.4,54.0L154.4,54.4L154.1,54.7L154.0,55.1L153.6,55.3L153.6,55.7L153.5,56.1L153.4,56.5L153.3,56.9L153.3,57.3L153.3,57.8L153.2,58.2L153.2,58.5L153.0,58.9L152.8,59.2L152.8,59.6L152.8,60.0L153.0,60.5L153.1,61.0L153.3,61.5L153.5,62.1L153.5,62.4L153.6,62.9L153.7,63.3L154.0,63.9L154.0,64.3L154.1,64.7L154.3,65.1L154.5,65.6L154.8,66.1L155.1,66.6L155.3,67.0L155.6,67.5L155.9,68.0L156.2,68.4L156.6,68.9L156.8,69.3L157.3,69.8L157.6,70.2L158.0,70.7L158.3,71.1L158.7,71.5L159.1,72.0L159.5,72.4L159.9,72.8L160.3,73.2L160.8,73.6L161.3,74.0L161.8,74.4L162.3,74.8L162.8,75.2L163.3,75.5L163.9,75.9L164.4,76.3L165.0,76.6L165.5,76.9L166.2,77.3L166.8,77.6L167.4,77.9L168.0,78.2L168.6,78.5L169.2,78.8L169.9,79.1L170.5,79.3L171.1,79.6L171.8,79.8L172.5,80.0L173.1,80.3L173.8,80.5L174.6,80.7L175.2,80.8L175.9,81.0L176.6,81.2L177.4,81.3L178.1,81.5L178.8,81.6L179.6,81.7L180.3,81.8L181.0,81.9L181.8,81.9L182.5,82.0L183.2,82.0L184.0,82.1L184.7,82.1L185.4,82.1L184.7,82.1L183.9,82.2L183.2,82.2L182.4,82.3L181.7,82.3L180.9,82.4L180.2,82.5L179.4,82.6L178.7,82.8L178.0,82.9L177.2,83.0L176.5,83.2L175.8,83.4L175.1,83.6L174.4,83.8L173.7,84.0L173.0,84.2L172.3,84.4L171.6,84.7L170.9,84.9L170.2,85.2L169.6,85.5L168.9,85.8L168.3,86.1L167.7,86.4L167.1,86.7L166.6,87.0L165.9,87.3L165.3,87.7L164.5,88.1L164.0,88.5L163.5,88.8L163.0,89.2L162.4,89.6L161.9,90.0L161.4,90.4L160.9,90.8L160.6,91.2L160.1,91.6L159.6,92.1L159.0,92.6L158.4,93.0L158.1,93.4L157.8,93.9L157.5,94.3L157.1,94.8L156.7,95.2L156.3,95.7L155.9,96.2L155.6,96.7L155.3,97.2L155.2,97.5L154.8,98.1L154.7,98.5L154.3,99.0L154.2,99.5L153.9,100.0L153.7,100.5L153.5,101.0L153.5,101.3L153.4,101.8L153.3,102.3L153.1,102.8L153.1,103.2L152.9,103.7L152.8,104.2L152.7,104.7L152.6,105.2L152.7,105.6L152.6,106.0L152.6,106.5L152.6,107.0L152.7,107.4L153.0,107.6L153.0,108.0L153.1,108.4L153.1,108.9L153.3,109.2L153.5,109.5L153.7,109.9L153.8,110.2L154.0,110.6L154.2,110.9L154.4,111.2L154.6,111.6L154.8,111.9L155.1,112.2L155.3,112.5L155.6,112.7L155.8,113.0L156.2,113.2L156.5,113.4L156.8,113.6L157.0,113.9L157.4,114.1L157.6,114.4L158.0,114.5L158.3,114.8L158.6,114.9L159.0,115.1L159.4,115.2L159.7,115.4L160.1,115.5L160.5,115.6L161.1,115.5L161.4,115.6L161.9,115.5L162.4,115.5L162.8,115.6L163.2,115.6L163.6,115.6L164.0,115.6L164.5,115.6L164.9,115.6L165.4,115.3L165.9,115.3L166.3,115.2L166.9,114.9L167.4,114.6L168.0,114.3L168.3,114.3L168.7,114.3L169.2,114.1L169.7,113.8L170.2,113.5L170.7,113.2L171.2,112.9L171.7,112.6L172.1,112.3L172.6,112.0L173.1,111.6L173.6,111.2L174.0,110.8L174.4,110.5L174.9,110.1L175.3,109.8L175.8,109.3L176.2,108.8L176.7,108.3L177.1,107.8L177.5,107.4L177.9,107.0L178.3,106.5L178.7,106.0L179.1,105.5L179.5,104.9L179.8,104.3L180.2,103.7L180.6,103.2L180.9,102.5L181.3,101.9L181.6,101.3L181.9,100.7L182.2,100.1L182.5,99.6L182.8,98.9L183.1,98.2L183.3,97.5L183.6,96.8L183.9,96.1L184.1,95.4L184.3,94.7L184.5,94.0L184.7,93.3L184.9,92.6L185.1,91.8L185.3,91.1L185.4,90.4L185.5,89.6L185.7,88.8L185.8,88.1L185.9,87.4L186.0,86.7L186.0,85.9L186.1,85.1L186.1,84.4L186.2,83.6L186.2,82.9L186.2,82.1L186.2,82.8L186.2,83.6L186.3,84.4L186.3,85.1L186.4,85.8L186.4,86.6L186.5,87.3L186.6,88.1L186.7,88.8L186.9,89.5L187.0,90.3L187.1,91.0L187.3,91.7L187.5,92.4L187.7,93.1L187.8,93.8L188.1,94.5L188.3,95.2L188.5,95.9L188.7,96.5L189.0,97.2L189.3,98.0L189.6,98.7L189.8,99.2L190.1,99.8L190.4,100.4L190.8,101.1L191.1,101.7L191.4,102.3L191.8,102.9L192.1,103.4L192.5,104.0L192.9,104.6L193.3,105.2L193.7,105.7L194.0,106.2L194.4,106.6L194.8,107.1L195.2,107.6L195.7,108.2L196.1,108.5L196.5,108.8L196.9,109.2L197.4,109.9L197.9,110.3L198.4,110.8L198.8,111.1L199.3,111.5L199.7,111.7L200.1,111.9L200.5,112.1L201.0,112.4L201.5,112.7L202.0,113.1L202.4,113.3L202.9,113.5L203.4,113.7L203.9,114.1L204.4,114.2L205.0,114.6L205.4,114.7L205.9,114.8L206.3,114.9L206.7,114.9L207.1,115.0L207.6,115.0L208.0,115.0L208.5,115.2L208.9,115.2L209.4,115.2L209.8,115.2L210.2,115.2L210.6,115.1L211.0,115.1L211.4,114.9L211.9,114.9L212.1,114.7L212.6,114.7L213.0,114.6L213.5,114.7L213.9,114.5L214.1,114.2L214.6,114.2L214.8,113.9L215.2,113.8L215.4,113.5L215.9,113.4L216.1,113.1L216.3,112.8L216.5,112.4L216.7,112.0L217.0,111.8L217.2,111.5L217.6,111.4L217.8,111.1L218.0,110.8L218.1,110.3L218.2,109.9L218.4,109.6L218.6,109.3L218.7,108.9L218.8,108.5L218.8,108.0L219.0,107.7L219.1,107.3L219.1,106.9L219.2,106.5L219.2,106.1L219.3,105.7L219.4,105.4L219.4,104.9L219.2,104.4L219.0,103.8L219.0,103.4L219.1,103.1L219.1,102.7L219.1,102.2L218.8,101.7L218.6,101.2L218.5,100.7L218.3,100.3L218.2,99.8L217.9,99.3L217.7,98.9L217.6,98.4L217.3,97.9L217.0,97.4L216.5,96.9L216.2,96.4L215.8,95.9L215.6,95.5L215.3,95.1L215.0,94.6L214.6,94.2L214.2,93.7L213.8,93.2L213.4,92.8L213.0,92.4L212.5,92.0L212.2,91.5L211.8,91.2L211.4,90.8L210.9,90.4L210.3,89.9L209.7,89.5L209.2,89.1L208.6,88.7L208.1,88.4L207.5,88.0L206.9,87.7L206.4,87.3L205.8,87.0L205.3,86.7L204.6,86.3L204.0,86.0L203.3,85.7L202.7,85.4L202.0,85.2L201.3,84.9L200.6,84.6L199.9,84.4L199.2,84.2L198.6,84.0L197.9,83.7L197.3,83.6L196.6,83.4L195.9,83.2L195.2,83.0L194.4,82.9L193.7,82.8L192.9,82.6L192.2,82.5L191.4,82.4L190.7,82.3L190.0,82.3L189.2,82.2L188.4,82.2L187.7,82.1L187.0,82.1Z"/></defs>
<use href="#pb1" fill="#80c0ea"/>
<use href="#pr1" fill="#ff3d0a" fill-opacity="0.5"/>
<use href="#pb1" fill="none" stroke="#10509a" stroke-width="1.1" stroke-linejoin="round"/>
<use href="#pr1" fill="none" stroke="#ff4500" stroke-width="1.0" stroke-linejoin="round"/>
<rect x="244.6" y="28.7" width="106.8" height="106.8" fill="#fff" stroke="#1a1a1a" stroke-width="1.3"/>
<circle cx="298.00" cy="81.7" r="50.5" fill="none" stroke="#222" stroke-width="0.95" stroke-dasharray="3.7,2.2"/>
<defs><path id="pb2" d="M349.9,81.7L349.2,81.3L349.4,80.8L350.0,80.3L350.4,79.9L350.3,79.4L349.7,79.0L349.3,78.6L349.7,78.1L350.5,77.6L350.3,77.1L349.2,76.8L348.7,76.4L349.6,75.8L349.8,75.3L348.5,75.0L348.3,74.6L348.3,74.2L347.9,73.8L348.0,73.3L347.8,72.9L348.0,72.4L348.0,72.0L347.4,71.6L347.4,71.2L347.7,70.7L346.8,70.4L346.2,70.1L346.2,69.7L346.1,69.3L345.7,68.9L345.4,68.6L345.4,68.1L344.9,67.8L344.2,67.6L343.8,67.3L343.4,67.0L342.7,66.8L342.7,66.3L342.3,66.0L342.2,65.6L342.3,65.1L341.0,65.2L340.4,65.0L340.3,64.6L339.8,64.4L339.6,64.0L338.5,64.1L337.8,64.0L337.7,63.6L337.4,63.3L336.6,63.3L336.0,63.2L335.4,63.1L334.5,63.1L334.0,62.9L333.9,62.6L333.6,62.4L333.3,62.2L332.7,62.1L331.7,62.2L331.1,62.2L330.1,62.4L329.2,62.6L328.9,62.4L328.1,62.5L327.2,62.7L326.6,62.8L326.0,62.8L325.3,63.0L324.5,63.2L323.9,63.2L323.3,63.3L322.4,63.6L322.0,63.6L321.3,63.8L320.4,64.2L319.8,64.4L319.5,64.3L319.1,64.3L318.2,64.7L317.6,65.0L317.2,65.0L316.6,65.2L315.9,65.6L315.7,65.5L315.4,65.5L314.9,65.7L314.7,65.6L314.3,65.7L313.9,65.8L313.8,65.7L313.4,65.8L312.7,66.2L312.3,66.4L312.0,66.4L311.8,66.3L311.6,66.4L311.2,66.5L310.8,66.7L310.4,66.9L310.1,67.1L309.8,67.1L309.5,67.3L309.1,67.4L309.0,67.4L308.7,67.5L308.1,68.0L307.9,68.1L307.7,68.1L307.2,68.5L306.9,68.7L306.7,68.9L306.2,69.2L305.9,69.5L305.6,69.8L305.3,70.0L305.1,70.1L304.8,70.4L304.5,70.7L304.3,70.8L304.0,71.2L303.6,71.6L303.4,71.8L303.1,72.1L302.9,72.3L302.7,72.4L302.6,72.4L302.4,72.6L302.3,72.8L302.1,72.8L302.0,72.9L301.8,73.1L301.7,73.2L301.5,73.4L301.4,73.5L301.3,73.6L301.1,73.9L301.0,74.0L300.8,74.2L300.6,74.4L300.6,74.4L300.5,74.5L300.4,74.5L300.3,74.6L300.2,74.8L300.1,74.8L300.0,74.8L299.9,75.0L299.8,75.1L299.8,75.1L299.6,75.3L299.6,75.4L299.5,75.5L299.4,75.5L299.4,75.6L299.3,75.7L299.2,75.8L299.1,75.9L299.1,76.0L299.0,76.1L298.9,76.1L298.9,76.1L298.8,76.2L298.8,76.3L298.7,76.3L298.7,76.4L298.6,76.4L298.5,76.5L298.5,76.5L298.5,76.4L298.4,76.6L298.4,76.6L298.3,76.6L298.3,76.7L298.2,76.9L298.2,76.8L298.1,76.9L298.1,76.9L298.0,77.0L298.0,77.0L298.0,77.0L297.9,76.9L297.9,77.0L297.8,77.0L297.8,76.9L297.7,76.8L297.7,76.9L297.7,76.8L297.6,76.7L297.6,76.6L297.5,76.6L297.5,76.6L297.4,76.5L297.4,76.5L297.3,76.4L297.2,76.3L297.2,76.4L297.2,76.4L297.1,76.3L297.0,76.2L297.0,76.2L296.9,76.2L296.8,76.0L296.8,75.8L296.7,75.8L296.6,75.7L296.5,75.6L296.5,75.5L296.4,75.5L296.3,75.3L296.2,75.1L296.1,75.1L296.0,75.1L295.9,75.0L295.9,74.9L295.8,74.9L295.7,74.8L295.6,74.8L295.5,74.7L295.4,74.5L295.2,74.3L295.1,74.2L295.0,74.0L294.9,73.9L294.7,73.8L294.6,73.7L294.5,73.7L294.3,73.3L294.2,73.3L294.1,73.3L293.8,73.0L293.7,72.8L293.6,72.8L293.4,72.7L293.2,72.5L293.0,72.3L292.7,72.0L292.5,71.8L292.3,71.6L292.0,71.3L291.6,70.9L291.3,70.6L291.1,70.4L290.8,70.2L290.6,70.1L290.4,69.9L290.0,69.6L289.6,69.3L289.4,69.2L289.2,69.1L288.8,68.8L288.4,68.5L288.2,68.4L287.8,68.2L287.5,68.0L287.1,67.8L286.7,67.5L286.4,67.3L286.0,67.1L285.7,67.0L285.5,67.0L285.2,67.0L284.8,66.8L284.5,66.7L284.2,66.6L283.7,66.3L283.5,66.4L283.4,66.6L282.9,66.3L282.4,66.1L282.1,66.0L281.8,66.1L281.4,65.9L280.8,65.7L280.6,65.8L280.4,65.9L279.8,65.6L279.3,65.4L278.8,65.3L278.3,65.2L277.6,64.9L276.9,64.6L276.5,64.6L275.9,64.4L275.7,64.6L275.0,64.4L274.1,64.0L273.6,64.0L272.9,63.8L272.4,63.8L271.6,63.5L270.9,63.4L270.5,63.5L269.9,63.5L269.1,63.3L268.1,63.0L267.5,63.0L267.3,63.3L266.3,63.0L265.6,63.0L265.0,63.0L264.2,62.9L264.0,63.3L263.6,63.4L262.8,63.4L261.8,63.3L261.4,63.5L260.8,63.6L259.7,63.4L259.4,63.7L259.7,64.2L259.3,64.5L258.8,64.7L258.1,64.8L257.5,64.9L257.3,65.2L256.5,65.4L256.5,65.8L256.6,66.2L254.9,66.0L253.8,66.0L253.8,66.5L253.6,66.8L252.8,67.0L252.4,67.3L252.5,67.8L252.7,68.3L252.3,68.6L251.8,68.9L251.6,69.3L251.4,69.7L251.0,70.0L250.7,70.3L250.2,70.7L250.3,71.1L250.5,71.6L249.3,71.8L249.0,72.2L249.0,72.6L248.5,73.0L248.3,73.4L248.2,73.8L249.0,74.4L249.1,74.8L248.6,75.2L248.9,75.7L248.8,76.1L248.6,76.5L248.9,77.0L248.4,77.4L247.8,77.7L248.0,78.2L248.3,78.7L248.2,79.1L247.9,79.5L247.9,79.9L247.7,80.4L247.7,80.8L247.5,81.3L247.2,81.7L247.2,82.1L247.6,82.6L248.0,83.0L247.7,83.5L247.6,83.9L247.8,84.3L248.6,84.7L249.5,85.1L248.6,85.6L247.6,86.1L247.3,86.6L247.3,87.0L247.8,87.4L248.2,87.8L248.9,88.2L248.8,88.6L248.7,89.1L249.0,89.5L248.9,89.9L249.1,90.3L249.1,90.8L249.5,91.1L250.1,91.4L250.4,91.8L250.6,92.2L250.0,92.8L250.1,93.2L250.5,93.5L250.3,94.0L250.7,94.4L251.1,94.7L252.0,94.9L252.5,95.2L252.1,95.7L252.8,95.9L253.7,96.1L254.1,96.4L254.4,96.7L254.9,97.0L254.9,97.4L255.1,97.7L256.4,97.7L256.2,98.2L255.9,98.7L256.7,98.8L257.3,99.0L258.1,99.0L258.9,99.1L259.2,99.4L259.5,99.7L260.0,99.8L260.7,99.9L261.7,99.8L262.3,99.9L262.5,100.2L262.7,100.5L263.6,100.4L264.6,100.2L264.8,100.5L265.1,100.7L265.9,100.6L267.0,100.3L267.9,100.1L268.4,100.2L269.0,100.2L269.9,100.0L270.3,100.0L270.6,100.2L271.4,100.0L272.3,99.7L273.1,99.5L273.3,99.7L274.2,99.3L274.9,99.1L275.2,99.2L275.9,99.0L276.4,98.8L277.0,98.7L277.5,98.6L277.9,98.5L278.6,98.3L279.0,98.2L279.5,98.1L280.1,97.8L280.7,97.5L281.3,97.3L281.4,97.4L281.6,97.5L282.0,97.4L282.4,97.3L282.8,97.1L283.2,97.0L283.6,96.9L283.9,96.8L284.2,96.8L284.6,96.6L284.9,96.5L285.0,96.7L285.4,96.4L286.0,96.0L286.1,96.1L286.5,96.0L286.7,95.9L287.0,95.8L287.5,95.4L287.8,95.3L288.0,95.3L288.3,95.1L288.6,94.8L289.0,94.6L289.4,94.2L289.8,93.9L289.9,93.9L290.1,93.8L290.5,93.5L290.8,93.2L291.1,92.9L291.4,92.6L291.7,92.4L292.0,92.1L292.3,91.8L292.5,91.5L292.8,91.4L293.0,91.1L293.2,91.0L293.3,90.9L293.5,90.7L293.6,90.7L293.8,90.4L294.1,90.1L294.2,90.1L294.3,90.1L294.4,90.0L294.5,89.9L294.7,89.7L294.9,89.4L295.0,89.3L295.1,89.2L295.3,89.0L295.4,88.7L295.5,88.7L295.6,88.7L295.7,88.5L295.8,88.4L295.9,88.5L296.0,88.4L296.0,88.3L296.1,88.2L296.2,88.1L296.3,88.0L296.4,88.0L296.5,87.8L296.5,87.8L296.6,87.8L296.7,87.6L296.8,87.4L296.9,87.3L296.9,87.4L297.0,87.3L297.0,87.2L297.1,87.1L297.2,87.0L297.2,86.9L297.3,86.9L297.3,87.0L297.4,86.9L297.4,86.8L297.5,86.8L297.5,86.8L297.6,86.7L297.6,86.7L297.6,86.7L297.7,86.7L297.7,86.6L297.8,86.5L297.8,86.4L297.9,86.4L297.9,86.4L298.0,86.3L298.0,86.3L298.0,86.3L298.1,86.4L298.1,86.6L298.2,86.6L298.2,86.6L298.3,86.6L298.3,86.7L298.4,86.8L298.4,86.9L298.5,86.9L298.5,86.9L298.5,86.9L298.6,87.0L298.7,87.2L298.7,87.2L298.8,87.1L298.8,87.2L298.9,87.2L298.9,87.2L299.0,87.2L299.1,87.4L299.1,87.5L299.2,87.5L299.2,87.5L299.3,87.7L299.4,88.0L299.5,88.0L299.6,88.0L299.7,88.1L299.7,88.2L299.8,88.3L299.9,88.4L300.0,88.5L300.1,88.6L300.2,88.7L300.3,88.7L300.4,88.7L300.5,88.9L300.5,88.9L300.6,88.9L300.8,89.1L300.9,89.3L301.0,89.4L301.2,89.6L301.3,89.8L301.5,89.9L301.7,90.1L301.8,90.3L302.0,90.5L302.1,90.5L302.3,90.7L302.5,90.9L302.6,90.9L302.8,91.1L303.0,91.2L303.1,91.3L303.4,91.6L303.7,92.0L304.0,92.2L304.3,92.6L304.5,92.8L304.7,92.9L305.1,93.2L305.3,93.4L305.6,93.6L305.9,93.8L306.2,94.2L306.5,94.4L306.9,94.7L307.4,95.1L307.6,95.1L307.8,95.2L308.3,95.6L308.5,95.7L309.0,96.1L309.4,96.3L309.6,96.3L309.9,96.4L310.0,96.3L310.4,96.5L310.9,96.8L311.2,96.8L311.6,97.1L312.0,97.2L312.5,97.6L312.9,97.7L313.2,97.7L313.4,97.6L313.7,97.6L314.1,97.8L314.3,97.7L314.8,97.9L315.2,98.0L315.2,97.7L315.8,98.0L316.6,98.5L316.9,98.4L317.1,98.3L318.2,98.9L318.9,99.2L318.7,98.8L319.2,98.9L320.4,99.5L321.2,99.8L321.6,99.8L322.3,100.0L322.9,100.1L323.3,100.1L323.5,99.9L324.3,100.1L325.1,100.3L325.7,100.4L326.9,100.8L327.7,101.0L328.1,100.9L328.7,100.9L329.5,101.0L330.4,101.2L330.6,100.9L331.2,100.8L332.4,101.2L333.1,101.2L333.1,100.8L333.4,100.5L333.6,100.3L334.2,100.1L335.7,100.5L336.5,100.5L336.4,100.0L336.9,99.8L337.7,99.8L338.4,99.7L338.9,99.5L339.3,99.2L340.1,99.1L341.1,99.1L341.2,98.7L341.0,98.2L342.0,98.1L342.1,97.8L342.0,97.3L342.7,97.1L343.4,96.9L343.8,96.6L343.9,96.2L344.4,95.9L344.8,95.5L344.5,95.0L344.6,94.6L345.8,94.5L346.1,94.1L346.2,93.7L347.2,93.5L347.5,93.1L347.5,92.7L347.2,92.2L347.5,91.8L347.6,91.4L347.4,90.9L348.2,90.5L348.5,90.1L348.8,89.8L349.5,89.4L348.9,88.9L349.0,88.4L349.8,88.1L349.3,87.5L348.7,87.0L348.9,86.6L349.3,86.2L349.9,85.8L349.9,85.3L349.5,84.9L349.4,84.4L350.1,84.0L350.7,83.5L350.4,83.1L349.5,82.6L349.7,82.2Z"/><path id="pr2" d="M298.0,81.7L298.9,81.7L299.6,81.7L300.2,81.6L300.9,81.6L301.4,81.6L302.0,81.5L302.5,81.4L302.9,81.4L303.4,81.3L303.8,81.2L304.3,81.1L304.7,81.0L305.1,80.9L305.6,80.8L306.1,80.6L306.6,80.5L306.9,80.4L307.3,80.2L307.6,80.1L307.9,80.0L308.2,79.8L308.6,79.6L308.9,79.5L309.2,79.3L309.5,79.1L309.9,79.0L310.3,78.7L310.7,78.5L311.0,78.3L311.3,78.1L311.6,77.9L311.8,77.7L312.1,77.5L312.3,77.3L312.6,77.1L312.7,76.9L313.0,76.7L313.3,76.4L313.5,76.2L313.8,76.0L314.0,75.7L314.2,75.5L314.3,75.3L314.6,75.0L314.8,74.7L315.0,74.5L315.0,74.3L315.1,74.1L315.3,73.8L315.5,73.6L315.7,73.3L315.7,73.1L315.7,72.9L315.7,72.7L315.7,72.5L316.0,72.1L316.2,71.8L316.3,71.6L316.4,71.3L316.5,71.0L316.5,70.8L316.6,70.5L316.6,70.3L316.6,70.1L316.4,70.0L316.5,69.7L316.5,69.5L316.6,69.2L316.5,69.0L316.4,68.8L316.4,68.6L316.5,68.3L316.4,68.1L316.4,67.8L316.3,67.7L316.2,67.4L316.1,67.3L316.2,66.9L316.0,66.8L316.0,66.6L315.9,66.4L315.8,66.2L315.7,66.1L315.5,66.0L315.4,65.8L315.4,65.4L315.2,65.4L315.1,65.2L315.0,65.0L315.0,64.7L314.7,64.7L314.6,64.5L314.3,64.5L314.1,64.4L313.8,64.4L313.7,64.3L313.6,64.1L313.5,63.9L313.3,63.7L313.2,63.6L313.0,63.6L312.8,63.4L312.5,63.5L312.2,63.6L311.8,63.7L311.7,63.5L311.4,63.6L311.2,63.6L311.0,63.5L310.8,63.5L310.6,63.3L310.5,63.1L310.5,62.9L310.2,63.0L309.9,63.1L309.5,63.3L309.3,63.3L309.0,63.4L308.8,63.3L308.6,63.4L308.4,63.3L308.2,63.3L308.0,63.3L307.6,63.6L307.3,63.9L307.0,64.0L306.8,64.1L306.6,64.0L306.4,64.1L306.2,64.2L305.9,64.3L305.7,64.4L305.4,64.6L305.1,64.9L304.9,64.9L304.7,65.1L304.5,65.2L304.2,65.5L304.0,65.6L303.8,65.9L303.5,66.1L303.3,66.4L303.0,66.7L302.8,67.0L302.6,67.2L302.4,67.5L302.1,67.7L302.0,67.9L301.7,68.2L301.6,68.4L301.4,68.7L301.2,69.0L301.0,69.3L300.8,69.7L300.6,70.0L300.4,70.4L300.2,70.8L300.0,71.2L299.9,71.5L299.7,71.8L299.6,72.2L299.4,72.6L299.3,72.9L299.2,73.3L299.1,73.7L298.9,74.1L298.8,74.6L298.7,74.9L298.6,75.3L298.5,75.7L298.4,76.2L298.3,76.8L298.3,77.3L298.2,77.8L298.1,78.3L298.1,78.9L298.1,79.5L298.0,80.1L298.0,80.8L298.0,81.7L298.0,80.8L298.0,80.2L297.9,79.6L297.9,79.1L297.9,78.6L297.8,78.1L297.8,77.6L297.7,77.2L297.6,76.7L297.5,76.3L297.4,75.9L297.3,75.4L297.2,75.1L297.1,74.7L297.0,74.3L296.9,74.0L296.8,73.7L296.7,73.3L296.5,73.0L296.4,72.6L296.3,72.3L296.1,71.9L296.0,71.7L295.8,71.4L295.7,71.2L295.5,70.8L295.3,70.4L295.1,69.9L294.9,69.7L294.7,69.4L294.5,69.2L294.4,69.1L294.2,68.9L294.0,68.7L293.8,68.4L293.6,68.2L293.4,67.9L293.2,67.7L293.0,67.5L292.8,67.3L292.6,67.2L292.3,67.0L292.1,66.8L291.9,66.7L291.8,66.6L291.6,66.6L291.3,66.3L291.0,66.0L290.7,65.8L290.6,65.8L290.4,65.7L290.2,65.6L289.9,65.4L289.6,65.3L289.5,65.3L289.2,65.2L289.0,65.0L288.7,64.9L288.6,65.0L288.4,65.0L288.1,64.8L287.8,64.7L287.5,64.6L287.4,64.8L287.2,64.7L286.9,64.6L286.5,64.4L286.4,64.4L286.3,64.7L286.2,64.9L286.0,64.9L285.7,64.8L285.5,64.8L285.3,64.9L285.1,64.9L284.9,65.0L284.7,65.0L284.5,65.0L284.3,65.1L284.1,65.2L283.9,65.2L283.6,65.2L283.6,65.4L283.5,65.6L283.5,65.8L283.2,65.8L283.1,66.0L282.8,66.0L282.7,66.1L282.5,66.2L282.4,66.4L282.4,66.6L282.4,66.9L282.1,66.9L282.0,67.0L281.9,67.2L281.9,67.4L281.8,67.7L281.7,67.8L281.4,67.8L281.4,68.0L281.2,68.1L281.4,68.5L281.2,68.6L281.1,68.8L281.0,68.9L281.0,69.1L281.1,69.5L281.3,69.8L281.4,70.0L281.2,70.1L281.1,70.3L281.0,70.4L281.0,70.6L280.9,70.8L280.9,71.0L281.0,71.3L281.1,71.6L281.3,71.8L281.2,72.0L281.2,72.2L281.2,72.4L281.2,72.6L281.3,72.8L281.4,73.1L281.7,73.4L281.7,73.6L281.9,73.8L282.0,74.1L282.2,74.3L282.3,74.5L282.4,74.7L282.5,75.0L282.6,75.2L282.8,75.4L282.9,75.6L282.9,75.8L283.0,76.0L283.3,76.2L283.7,76.5L283.9,76.7L284.1,76.9L284.2,77.1L284.6,77.3L284.8,77.6L285.1,77.8L285.2,77.9L285.4,78.1L285.7,78.3L286.0,78.5L286.2,78.7L286.3,78.8L286.7,79.0L287.1,79.2L287.4,79.3L287.5,79.5L287.9,79.6L288.3,79.8L288.7,80.0L289.0,80.1L289.2,80.2L289.6,80.4L289.9,80.5L290.3,80.6L290.7,80.7L291.1,80.8L291.5,81.0L291.8,81.1L292.2,81.1L292.6,81.2L293.0,81.3L293.5,81.4L294.0,81.5L294.5,81.5L294.9,81.6L295.4,81.6L296.0,81.6L296.5,81.7L297.1,81.7L298.0,81.7L297.0,81.7L296.3,81.7L295.7,81.8L295.1,81.8L294.5,81.9L294.0,81.9L293.5,82.0L293.0,82.0L292.6,82.1L292.1,82.2L291.7,82.3L291.2,82.4L290.7,82.5L290.3,82.6L289.9,82.8L289.5,82.9L289.0,83.0L288.7,83.2L288.3,83.3L287.9,83.5L287.5,83.6L287.2,83.8L286.9,84.0L286.5,84.1L286.0,84.4L285.5,84.6L285.3,84.7L285.2,84.9L284.9,85.1L284.6,85.3L284.3,85.5L284.1,85.7L283.8,85.9L283.6,86.1L283.2,86.4L283.0,86.6L282.7,86.8L282.4,87.1L282.2,87.3L282.1,87.5L282.0,87.7L281.6,88.0L281.2,88.3L281.0,88.5L281.1,88.7L281.0,88.9L280.8,89.2L280.4,89.5L280.2,89.8L280.2,90.0L280.2,90.2L280.2,90.4L280.2,90.6L279.9,90.9L279.8,91.2L279.7,91.5L279.6,91.7L279.4,92.0L279.3,92.3L279.2,92.5L279.2,92.8L279.3,92.9L279.3,93.1L279.3,93.4L279.2,93.7L279.2,93.9L279.2,94.2L279.0,94.5L279.1,94.7L279.0,95.0L279.1,95.2L279.2,95.4L279.2,95.6L279.2,95.9L279.2,96.2L279.3,96.3L279.5,96.4L279.7,96.5L279.7,96.8L279.9,96.9L280.0,97.1L280.2,97.2L280.2,97.5L280.3,97.6L280.3,97.9L280.3,98.2L280.3,98.5L280.6,98.5L280.8,98.6L281.0,98.7L281.0,99.0L281.0,99.3L281.2,99.4L281.4,99.5L281.6,99.6L281.8,99.7L282.0,99.8L282.2,99.8L282.3,100.1L282.6,100.1L282.8,100.2L282.9,100.3L283.1,100.5L283.4,100.3L283.7,100.3L283.9,100.4L284.0,100.6L284.2,100.7L284.5,100.6L284.7,100.7L285.0,100.7L285.1,100.8L285.4,100.7L285.7,100.6L285.9,100.6L286.3,100.5L286.5,100.5L286.8,100.3L287.1,100.3L287.4,100.1L287.6,100.1L287.8,100.1L288.0,100.1L288.2,100.1L288.4,100.2L288.6,100.1L288.8,100.1L289.2,99.8L289.4,99.7L289.8,99.2L290.1,99.0L290.4,98.8L290.5,98.9L290.7,98.8L291.0,98.6L291.2,98.5L291.5,98.3L291.7,98.0L292.0,97.7L292.3,97.5L292.4,97.4L292.6,97.3L292.9,97.0L293.1,96.7L293.4,96.4L293.6,96.2L293.8,96.0L293.9,95.8L294.2,95.5L294.4,95.1L294.6,94.7L294.8,94.4L295.0,94.1L295.2,93.8L295.4,93.5L295.6,93.1L295.8,92.7L295.9,92.4L296.0,92.2L296.2,91.9L296.3,91.6L296.5,91.1L296.7,90.7L296.8,90.3L296.9,89.9L297.0,89.4L297.2,88.9L297.3,88.5L297.4,88.0L297.5,87.6L297.6,87.1L297.7,86.6L297.7,86.1L297.8,85.6L297.8,85.1L297.9,84.5L297.9,84.0L298.0,83.3L298.0,82.6L298.0,81.7L298.0,82.6L298.0,83.3L298.1,83.9L298.1,84.4L298.1,84.9L298.2,85.4L298.3,85.9L298.3,86.4L298.4,86.9L298.5,87.3L298.6,87.8L298.7,88.2L298.8,88.7L298.9,89.0L299.0,89.4L299.1,89.8L299.3,90.2L299.4,90.5L299.5,90.9L299.7,91.3L299.8,91.6L300.0,91.9L300.1,92.2L300.3,92.5L300.5,92.9L300.7,93.2L300.9,93.6L301.0,93.8L301.2,94.2L301.4,94.5L301.6,94.7L301.7,94.7L301.9,94.9L302.1,95.2L302.4,95.6L302.6,95.9L302.8,96.1L303.0,96.3L303.2,96.5L303.5,96.7L303.7,96.9L303.9,97.2L304.1,97.3L304.4,97.4L304.6,97.5L304.8,97.7L305.0,97.9L305.3,98.1L305.6,98.3L305.8,98.4L305.9,98.4L306.2,98.5L306.5,98.7L306.8,98.9L307.0,99.1L307.2,99.1L307.5,99.1L307.6,99.1L307.9,99.2L308.1,99.1L308.4,99.3L308.5,99.2L308.9,99.4L309.1,99.4L309.3,99.5L309.6,99.5L309.8,99.5L310.0,99.5L310.2,99.4L310.4,99.5L310.7,99.5L310.9,99.5L311.1,99.5L311.3,99.3L311.5,99.3L311.7,99.2L311.9,99.2L312.1,99.1L312.2,98.9L312.3,98.8L312.5,98.7L312.8,98.7L313.1,98.8L313.1,98.5L313.3,98.4L313.4,98.3L313.8,98.3L314.0,98.2L314.0,98.0L314.2,97.9L314.3,97.7L314.4,97.5L314.3,97.2L314.4,97.0L314.6,96.9L314.9,96.9L315.0,96.7L315.1,96.6L315.2,96.4L315.3,96.2L315.4,96.0L315.4,95.8L315.4,95.5L315.5,95.3L315.5,95.2L315.7,95.0L315.7,94.8L315.8,94.7L315.9,94.5L315.8,94.2L315.7,93.9L315.6,93.6L315.7,93.4L315.9,93.3L315.9,93.1L315.9,92.9L315.9,92.7L315.7,92.3L315.6,92.1L315.6,91.8L315.5,91.6L315.6,91.5L315.5,91.2L315.5,91.0L315.4,90.7L315.1,90.4L314.9,90.1L314.8,89.9L314.8,89.7L314.7,89.5L314.6,89.2L314.3,89.0L314.1,88.7L314.0,88.5L313.9,88.3L313.8,88.1L313.7,87.9L313.5,87.6L313.3,87.4L313.1,87.2L312.8,86.9L312.6,86.7L312.4,86.5L312.1,86.3L311.9,86.1L311.6,85.9L311.5,85.7L311.3,85.5L311.0,85.3L310.7,85.1L310.3,84.9L310.0,84.7L309.6,84.5L309.5,84.4L309.2,84.2L309.0,84.0L308.6,83.8L308.2,83.7L307.9,83.5L307.6,83.4L307.2,83.2L306.8,83.1L306.5,83.0L306.0,82.8L305.6,82.7L305.2,82.6L304.8,82.5L304.4,82.4L304.1,82.3L303.7,82.2L303.2,82.1L302.7,82.0L302.2,82.0L301.8,81.9L301.2,81.8L300.7,81.8L300.2,81.8L299.5,81.7L298.9,81.7Z"/></defs>
<use href="#pb2" fill="#80c0ea"/>
<use href="#pr2" fill="#ff3d0a" fill-opacity="0.5"/>
<use href="#pb2" fill="none" stroke="#10509a" stroke-width="1.1" stroke-linejoin="round"/>
<use href="#pr2" fill="none" stroke="#ff4500" stroke-width="1.0" stroke-linejoin="round"/>
<rect x="461.4" y="28.7" width="107.2" height="106.8" fill="#fff" stroke="#1a1a1a" stroke-width="1.3"/>
<circle cx="515.00" cy="82.1" r="50.5" fill="none" stroke="#222" stroke-width="0.95" stroke-dasharray="3.7,2.2"/>
<defs><path id="pb3" d="M564.8,82.1L565.4,81.7L565.1,81.2L563.7,80.8L563.4,80.4L563.2,80.0L563.7,79.6L566.1,79.0L565.4,78.6L563.1,78.3L564.1,77.8L565.0,77.3L564.5,76.9L563.0,76.6L562.7,76.2L564.3,75.6L562.8,75.4L561.4,75.2L560.7,74.9L559.6,74.6L559.5,74.3L560.3,73.7L560.7,73.2L561.0,72.7L562.1,72.1L561.4,71.8L558.7,72.0L558.2,71.7L560.2,70.8L560.5,70.3L558.9,70.3L558.0,70.2L558.1,69.7L557.5,69.5L558.8,68.7L558.4,68.4L557.2,68.4L558.1,67.7L557.3,67.5L556.1,67.5L556.3,67.1L556.0,66.8L554.7,66.9L554.3,66.6L555.6,65.7L553.9,66.0L552.9,66.0L553.4,65.4L551.8,65.7L552.4,65.1L552.5,64.6L550.1,65.4L549.1,65.5L549.4,64.9L548.7,64.9L548.1,64.9L547.6,64.8L546.9,64.8L546.8,64.5L545.3,64.9L544.0,65.4L543.3,65.4L542.4,65.6L541.4,65.9L540.3,66.3L539.9,66.2L539.7,66.1L539.4,65.9L538.0,66.6L536.8,67.1L536.7,66.9L535.8,67.3L534.8,67.7L534.7,67.5L534.5,67.4L534.3,67.3L533.5,67.7L532.8,67.9L532.4,68.0L532.4,67.7L532.0,67.9L531.2,68.3L530.9,68.3L530.5,68.4L529.9,68.7L529.2,69.1L528.8,69.3L528.4,69.4L528.1,69.4L526.7,70.6L525.0,72.1L523.5,73.4L522.0,74.8L519.7,77.2L517.3,79.6L515.0,82.1L515.0,82.1L515.0,82.1L515.0,82.1L515.0,82.1L515.0,82.1L515.0,82.1L515.0,82.1L515.0,82.1L515.0,82.1L515.0,82.1L515.0,82.1L515.0,82.1L515.0,82.1L515.0,82.1L515.0,82.1L515.0,82.1L515.0,82.1L515.0,82.1L515.0,82.1L515.0,82.1L515.0,82.1L515.0,82.1L515.0,82.1L515.0,82.1L515.0,82.1L515.0,82.1L515.0,82.1L515.0,82.1L515.0,82.1L515.0,82.1L515.0,82.1L515.0,82.1L515.0,82.1L515.0,82.1L515.0,82.1L515.0,82.1L515.0,82.1L515.0,82.1L515.0,82.1L515.0,82.1L515.0,82.1L515.0,82.1L515.0,82.1L515.0,82.1L515.0,82.1L515.0,82.1L515.0,82.1L515.0,82.1L515.0,82.1L515.0,82.1L515.0,82.1L515.0,82.1L515.0,82.1L515.0,82.1L515.0,82.1L515.0,82.1L515.0,82.1L515.0,82.1L515.0,82.1L515.0,82.1L515.0,82.1L515.0,82.1L515.0,82.1L515.0,82.1L515.0,82.1L515.0,82.1L515.0,82.1L515.0,82.1L515.0,82.1L515.0,82.1L515.0,82.1L515.0,82.1L515.0,82.1L515.0,82.1L515.0,82.1L515.0,82.1L515.0,82.1L515.0,82.1L515.0,82.1L515.0,82.1L515.0,82.1L515.0,82.1L515.0,82.1L515.0,82.1L515.0,82.1L515.0,82.1L515.0,82.1L515.0,82.1L515.0,82.1L515.0,82.1L515.0,82.1L515.0,82.1L515.0,82.1L515.0,82.1L515.0,82.1L515.0,82.1L515.0,82.1L515.0,82.1L515.0,82.1L515.0,82.1L515.0,82.1L515.0,82.1L515.0,82.1L515.0,82.1L515.0,82.1L515.0,82.1L515.0,82.1L515.0,82.1L515.0,82.1L515.0,82.1L515.0,82.1L515.0,82.1L515.0,82.1L515.0,82.1L515.0,82.1L515.0,82.1L515.0,82.1L515.0,82.1L515.0,82.1L515.0,82.1L515.0,82.1L515.0,82.1L515.0,82.1L515.0,82.1L515.0,82.1L515.0,82.1L515.0,82.1L515.0,82.1L515.0,82.1L515.0,82.1L515.0,82.1L515.0,82.1L515.0,82.1L515.0,82.1L515.0,82.1L515.0,82.1L515.0,82.1L515.0,82.1L515.0,82.1L515.0,82.1L515.0,82.1L515.0,82.1L515.0,82.1L515.0,82.1L515.0,82.1L515.0,82.1L515.0,82.1L515.0,82.1L515.0,82.1L515.0,82.1L515.0,82.1L515.0,82.1L515.0,82.1L515.0,82.1L515.0,82.1L515.0,82.1L515.0,82.1L515.0,82.1L515.0,82.1L515.0,82.1L515.0,82.1L515.0,82.1L515.0,82.1L515.0,82.1L515.0,82.1L515.0,82.1L515.0,82.1L515.0,82.1L515.0,82.1L515.0,82.1L512.7,79.6L510.3,77.2L508.0,74.9L506.6,73.6L505.0,72.1L503.7,70.9L501.9,69.4L500.9,68.8L500.8,68.9L500.4,68.7L499.8,68.4L499.9,68.7L499.5,68.6L498.5,68.0L498.2,68.0L498.0,68.1L497.6,68.0L497.0,67.8L496.3,67.5L495.7,67.3L495.6,67.4L494.6,67.0L494.1,66.9L494.0,67.1L493.7,67.2L492.5,66.6L490.9,65.9L490.5,65.9L489.9,65.8L489.4,65.8L488.7,65.7L488.1,65.6L487.4,65.5L486.5,65.3L485.0,64.8L483.9,64.5L483.8,64.8L483.5,65.0L483.1,65.2L481.4,64.6L480.2,64.4L480.4,64.8L480.2,65.2L480.3,65.6L479.6,65.6L477.8,65.1L477.3,65.3L477.4,65.8L476.7,65.8L475.9,65.9L476.2,66.4L475.9,66.7L475.0,66.8L473.9,66.7L473.4,67.0L473.2,67.3L471.1,67.0L471.3,67.5L472.6,68.3L471.9,68.5L471.0,68.6L471.6,69.2L470.8,69.4L467.8,69.0L468.1,69.5L469.7,70.4L470.1,70.9L469.4,71.2L469.4,71.6L470.5,72.2L467.9,72.1L467.4,72.4L467.4,72.8L464.8,72.8L465.3,73.3L466.1,73.9L464.1,74.0L464.7,74.6L467.1,75.4L468.1,75.9L467.3,76.2L464.2,76.3L463.1,76.6L465.6,77.3L467.4,77.9L466.8,78.3L465.5,78.6L465.1,79.0L465.0,79.5L464.4,79.9L464.8,80.3L465.1,80.8L464.5,81.2L464.4,81.7L464.0,82.1L462.0,82.6L462.0,83.0L464.0,83.4L466.6,83.8L466.4,84.2L466.7,84.6L468.8,84.9L465.9,85.5L463.7,86.1L464.9,86.5L467.6,86.7L467.9,87.0L466.9,87.6L466.0,88.1L463.1,88.9L463.7,89.3L467.0,89.3L468.6,89.4L468.1,89.9L467.3,90.5L468.6,90.7L468.6,91.1L468.8,91.5L468.1,92.1L466.2,92.9L466.5,93.3L468.2,93.3L469.0,93.6L468.9,94.0L470.1,94.1L470.6,94.4L471.8,94.5L473.1,94.5L471.7,95.3L471.0,96.0L471.9,96.1L471.3,96.7L473.3,96.5L475.0,96.3L473.9,97.0L473.5,97.6L474.3,97.7L474.2,98.2L474.3,98.5L476.4,98.1L477.8,97.9L477.1,98.6L476.8,99.1L479.1,98.5L479.2,98.8L478.4,99.6L479.0,99.7L480.2,99.5L481.7,99.1L482.7,98.9L481.8,99.7L482.0,100.0L483.3,99.6L484.4,99.4L485.9,98.9L487.1,98.5L488.1,98.3L487.8,98.8L489.0,98.4L489.7,98.2L489.9,98.4L491.3,97.8L492.3,97.4L492.7,97.4L493.2,97.3L493.9,97.2L494.8,96.8L495.3,96.7L496.0,96.4L496.6,96.2L496.8,96.3L496.7,96.6L497.5,96.3L498.1,96.0L498.3,96.1L498.9,95.8L499.0,96.0L499.4,95.9L499.8,95.8L500.4,95.5L501.0,95.1L501.4,95.0L502.1,94.6L503.5,93.4L505.0,92.1L506.5,90.8L507.9,89.4L510.4,86.9L512.8,84.5L515.0,82.1L515.0,82.1L515.0,82.1L515.0,82.1L515.0,82.1L515.0,82.1L515.0,82.1L515.0,82.1L515.0,82.1L515.0,82.1L515.0,82.1L515.0,82.1L515.0,82.1L515.0,82.1L515.0,82.1L515.0,82.1L515.0,82.1L515.0,82.1L515.0,82.1L515.0,82.1L515.0,82.1L515.0,82.1L515.0,82.1L515.0,82.1L515.0,82.1L515.0,82.1L515.0,82.1L515.0,82.1L515.0,82.1L515.0,82.1L515.0,82.1L515.0,82.1L515.0,82.1L515.0,82.1L515.0,82.1L515.0,82.1L515.0,82.1L515.0,82.1L515.0,82.1L515.0,82.1L515.0,82.1L515.0,82.1L515.0,82.1L515.0,82.1L515.0,82.1L515.0,82.1L515.0,82.1L515.0,82.1L515.0,82.1L515.0,82.1L515.0,82.1L515.0,82.1L515.0,82.1L515.0,82.1L515.0,82.1L515.0,82.1L515.0,82.1L515.0,82.1L515.0,82.1L515.0,82.1L515.0,82.1L515.0,82.1L515.0,82.1L515.0,82.1L515.0,82.1L515.0,82.1L515.0,82.1L515.0,82.1L515.0,82.1L515.0,82.1L515.0,82.1L515.0,82.1L515.0,82.1L515.0,82.1L515.0,82.1L515.0,82.1L515.0,82.1L515.0,82.1L515.0,82.1L515.0,82.1L515.0,82.1L515.0,82.1L515.0,82.1L515.0,82.1L515.0,82.1L515.0,82.1L515.0,82.1L515.0,82.1L515.0,82.1L515.0,82.1L515.0,82.1L515.0,82.1L515.0,82.1L515.0,82.1L515.0,82.1L515.0,82.1L515.0,82.1L515.0,82.1L515.0,82.1L515.0,82.1L515.0,82.1L515.0,82.1L515.0,82.1L515.0,82.1L515.0,82.1L515.0,82.1L515.0,82.1L515.0,82.1L515.0,82.1L515.0,82.1L515.0,82.1L515.0,82.1L515.0,82.1L515.0,82.1L515.0,82.1L515.0,82.1L515.0,82.1L515.0,82.1L515.0,82.1L515.0,82.1L515.0,82.1L515.0,82.1L515.0,82.1L515.0,82.1L515.0,82.1L515.0,82.1L515.0,82.1L515.0,82.1L515.0,82.1L515.0,82.1L515.0,82.1L515.0,82.1L515.0,82.1L515.0,82.1L515.0,82.1L515.0,82.1L515.0,82.1L515.0,82.1L515.0,82.1L515.0,82.1L515.0,82.1L515.0,82.1L515.0,82.1L515.0,82.1L515.0,82.1L515.0,82.1L515.0,82.1L515.0,82.1L515.0,82.1L515.0,82.1L515.0,82.1L515.0,82.1L515.0,82.1L515.0,82.1L515.0,82.1L515.0,82.1L515.0,82.1L515.0,82.1L515.0,82.1L515.0,82.1L515.0,82.1L515.0,82.1L515.0,82.1L515.0,82.1L515.0,82.1L515.0,82.1L515.0,82.1L515.0,82.1L515.0,82.1L515.0,82.1L515.0,82.1L517.3,84.6L519.8,87.1L522.1,89.5L523.4,90.7L525.0,92.1L526.7,93.6L528.2,94.8L528.7,95.1L529.0,95.2L529.2,95.1L529.9,95.5L530.5,95.8L531.3,96.2L531.2,96.0L531.2,95.7L532.0,96.1L532.5,96.3L532.5,96.0L533.3,96.4L534.2,96.8L534.5,96.8L534.9,96.8L535.7,97.1L536.4,97.3L537.1,97.5L537.5,97.6L537.5,97.3L538.5,97.7L539.2,97.8L540.2,98.1L541.3,98.6L541.5,98.4L542.2,98.5L543.3,98.7L544.4,99.1L545.1,99.1L545.3,98.9L547.0,99.5L549.0,100.2L550.1,100.3L549.6,99.7L549.2,99.2L550.7,99.5L551.1,99.3L550.3,98.5L551.0,98.5L552.5,98.8L552.5,98.4L551.8,97.7L551.9,97.4L554.1,97.9L555.0,97.9L554.8,97.4L555.9,97.4L556.9,97.3L556.9,96.9L557.2,96.6L557.1,96.2L556.8,95.7L557.1,95.4L558.7,95.5L559.9,95.4L558.7,94.6L558.8,94.2L559.6,94.1L560.9,94.0L559.9,93.3L558.6,92.6L559.9,92.5L563.5,92.8L565.0,92.7L562.7,91.8L562.7,91.4L565.1,91.4L564.4,90.8L562.2,90.0L563.9,89.8L565.0,89.6L564.7,89.1L563.8,88.5L565.2,88.3L567.7,88.1L566.4,87.5L565.4,87.0L562.8,86.3L562.9,85.9L564.9,85.6L564.8,85.1L565.9,84.8L565.1,84.3L562.6,83.8L563.5,83.4L564.6,83.0L563.9,82.5Z"/><path id="pr3" d="M515.0,82.1L515.0,82.1L515.0,82.1L515.0,82.1L515.0,82.1L515.0,82.1L515.1,82.1L515.1,82.1L515.1,82.1L515.2,82.1L515.2,82.1L515.3,82.1L515.3,82.1L515.4,82.0L515.5,82.0L515.6,82.0L515.7,82.0L515.9,82.0L516.0,81.9L516.1,81.9L516.2,81.9L516.4,81.8L516.5,81.8L516.7,81.8L516.9,81.7L517.1,81.6L517.3,81.6L517.6,81.5L517.7,81.4L518.0,81.3L518.3,81.2L518.3,81.2L518.6,81.1L519.2,80.9L519.4,80.8L519.7,80.6L520.2,80.4L520.3,80.3L520.1,80.3L520.4,80.2L521.1,79.9L521.5,79.7L521.4,79.6L521.6,79.5L522.2,79.2L522.7,78.9L523.2,78.6L523.7,78.3L523.7,78.2L523.8,78.1L524.0,77.9L524.4,77.6L524.7,77.4L524.7,77.2L525.7,76.6L526.3,76.2L526.3,76.1L527.1,75.5L527.5,75.2L527.1,75.2L527.2,75.1L527.3,74.9L527.8,74.4L528.2,74.0L528.6,73.6L528.8,73.3L528.4,73.4L528.6,73.1L529.0,72.6L529.4,72.2L529.7,71.8L529.7,71.6L529.5,71.6L530.3,70.7L530.3,70.6L530.0,70.6L530.6,69.9L530.6,69.7L530.0,69.9L529.2,70.4L530.2,69.4L531.0,68.5L530.6,68.5L530.3,68.6L530.4,68.2L530.7,67.7L530.1,68.0L529.6,68.3L529.6,68.0L529.6,67.8L529.3,67.8L528.8,68.0L528.6,68.0L529.0,67.4L528.6,67.5L528.4,67.5L528.7,66.9L528.4,66.9L527.9,67.3L527.6,67.4L527.7,66.9L527.3,67.2L526.7,67.6L526.8,67.3L526.6,67.2L526.4,67.2L525.9,67.7L526.1,67.1L526.1,66.9L525.0,68.0L524.5,68.5L524.6,68.2L524.6,67.9L524.0,68.5L523.7,68.7L523.4,68.9L522.9,69.5L522.9,69.1L523.0,68.7L522.6,69.2L522.0,70.0L521.9,69.9L521.5,70.4L521.1,70.9L521.0,70.9L520.8,71.0L520.5,71.3L520.1,71.9L519.9,72.1L519.5,72.6L519.3,72.9L519.1,73.1L518.7,73.7L518.5,74.0L518.4,74.1L518.2,74.3L518.0,74.7L517.8,75.0L517.7,75.1L517.4,75.6L517.2,76.1L517.1,76.3L516.9,76.5L516.7,77.1L516.5,77.5L516.4,77.6L516.3,77.9L516.1,78.2L516.0,78.5L515.9,78.7L515.9,78.8L515.8,79.1L515.7,79.2L515.6,79.5L515.5,79.8L515.5,79.9L515.4,80.1L515.4,80.4L515.3,80.6L515.3,80.7L515.2,80.8L515.2,81.0L515.1,81.2L515.1,81.2L515.1,81.4L515.1,81.5L515.1,81.6L515.0,81.7L515.0,81.8L515.0,81.8L515.0,81.9L515.0,81.9L515.0,82.0L515.0,82.0L515.0,82.0L515.0,82.1L515.0,82.1L515.0,82.1L515.0,82.1L515.0,82.1L515.0,82.1L515.0,82.1L515.0,82.1L515.0,82.1L515.0,82.1L515.0,82.1L515.0,82.0L515.0,82.0L515.0,82.0L515.0,81.9L515.0,81.9L515.0,81.8L515.0,81.7L514.9,81.6L514.9,81.6L514.9,81.5L514.9,81.4L514.9,81.2L514.8,81.1L514.8,81.0L514.8,80.8L514.7,80.6L514.7,80.5L514.6,80.3L514.6,80.2L514.5,80.0L514.5,79.8L514.4,79.6L514.3,79.3L514.2,78.9L514.1,78.7L514.0,78.6L513.9,78.1L513.7,77.8L513.6,77.6L513.5,77.4L513.3,77.0L513.2,76.6L513.1,76.6L513.0,76.6L513.0,76.5L512.6,75.8L512.3,75.1L512.1,74.7L511.8,74.2L511.8,74.3L511.6,74.1L511.2,73.3L511.0,73.2L510.9,73.2L510.4,72.3L510.3,72.3L510.3,72.5L509.8,71.6L509.4,71.0L509.3,71.2L509.3,71.3L508.8,70.7L508.1,69.7L507.8,69.3L507.6,69.3L507.2,68.8L506.9,68.6L507.0,69.0L506.4,68.3L506.1,68.2L506.2,68.6L505.7,68.0L505.1,67.4L504.9,67.4L505.0,67.8L504.9,67.9L504.5,67.6L503.7,66.8L503.3,66.6L503.4,67.0L503.2,67.0L502.9,66.9L502.9,67.1L502.4,66.8L501.7,66.3L501.6,66.4L501.6,66.7L501.5,66.9L501.6,67.2L501.3,67.2L501.0,67.1L500.4,66.7L500.5,67.1L500.4,67.2L500.2,67.3L500.2,67.6L500.0,67.6L500.1,68.0L500.0,68.1L499.5,67.9L499.2,67.9L499.2,68.1L499.3,68.5L499.7,69.1L499.1,68.8L499.6,69.4L500.4,70.3L500.0,70.2L499.2,69.8L499.4,70.1L499.8,70.7L499.3,70.4L499.7,71.0L500.4,71.7L499.9,71.6L500.2,71.9L501.2,72.8L501.0,72.8L501.0,73.0L501.1,73.2L501.0,73.4L502.1,74.2L502.4,74.5L502.2,74.5L502.7,75.0L502.7,75.1L503.2,75.6L504.1,76.2L504.0,76.3L503.9,76.3L504.4,76.7L505.0,77.1L505.1,77.3L505.6,77.6L505.9,77.8L506.1,78.0L506.4,78.3L506.5,78.4L506.9,78.7L507.4,79.0L507.7,79.2L508.1,79.4L508.5,79.6L508.8,79.8L508.9,79.9L509.2,80.0L509.1,80.1L509.4,80.2L510.0,80.5L510.4,80.6L510.7,80.8L510.9,80.9L511.2,81.0L511.3,81.1L511.6,81.2L512.0,81.3L512.2,81.4L512.4,81.5L512.7,81.6L512.8,81.6L512.9,81.7L513.1,81.7L513.3,81.8L513.6,81.8L513.8,81.9L513.9,81.9L514.0,81.9L514.1,82.0L514.2,82.0L514.4,82.0L514.5,82.0L514.6,82.0L514.6,82.1L514.7,82.1L514.8,82.1L514.8,82.1L514.9,82.1L514.9,82.1L514.9,82.1L515.0,82.1L515.0,82.1L515.0,82.1L515.0,82.1L515.0,82.1L515.0,82.1L515.0,82.1L515.0,82.1L515.0,82.1L515.0,82.1L515.0,82.1L514.9,82.1L514.9,82.1L514.9,82.1L514.8,82.1L514.8,82.1L514.7,82.1L514.7,82.1L514.6,82.1L514.5,82.2L514.4,82.2L514.3,82.2L514.2,82.2L514.1,82.3L513.9,82.3L513.7,82.3L513.7,82.3L513.5,82.4L513.2,82.5L513.1,82.5L513.0,82.6L512.8,82.6L512.5,82.7L512.2,82.8L512.1,82.8L511.9,82.9L511.7,83.0L511.5,83.1L511.2,83.2L511.0,83.3L510.6,83.5L510.2,83.7L510.0,83.8L509.7,83.9L509.4,84.1L509.4,84.1L509.0,84.3L508.5,84.6L508.3,84.8L508.3,84.8L508.0,85.0L507.2,85.4L506.9,85.6L506.5,85.9L506.3,86.1L505.8,86.4L505.2,86.8L505.2,86.9L505.6,86.8L505.8,86.8L504.7,87.5L503.9,88.0L503.8,88.2L503.7,88.4L503.6,88.5L503.2,88.9L503.1,89.1L502.7,89.5L502.5,89.8L502.6,89.9L502.2,90.3L501.9,90.6L501.3,91.2L501.5,91.2L501.6,91.3L501.1,91.8L500.9,92.2L500.8,92.4L501.0,92.4L500.8,92.8L500.2,93.5L500.0,93.8L500.3,93.8L500.4,94.0L500.8,93.8L501.1,93.8L500.7,94.3L500.7,94.5L500.9,94.6L500.8,94.9L500.5,95.4L500.0,96.1L500.4,96.0L501.3,95.3L500.9,95.9L500.7,96.4L501.4,95.9L501.1,96.4L501.1,96.7L501.8,96.3L502.1,96.2L502.4,96.1L502.4,96.3L502.6,96.4L502.2,97.1L502.1,97.4L503.0,96.6L503.5,96.3L503.7,96.4L503.5,96.8L503.8,96.7L504.5,96.0L504.9,95.8L505.2,95.5L505.2,95.9L505.0,96.4L505.5,95.9L505.9,95.6L506.3,95.3L506.6,95.0L506.7,95.2L506.9,95.0L507.3,94.7L507.5,94.5L507.9,94.2L508.2,94.0L508.3,93.9L508.7,93.5L509.0,93.1L509.3,92.8L509.7,92.2L510.0,91.9L510.1,91.9L510.3,91.7L510.5,91.5L510.8,91.1L511.1,90.6L511.4,90.3L511.5,90.1L511.7,89.9L512.0,89.5L512.2,89.1L512.4,88.7L512.5,88.5L512.8,88.1L513.0,87.6L513.0,87.7L513.2,87.5L513.3,87.1L513.5,86.8L513.7,86.3L513.8,86.1L513.8,86.0L513.9,85.8L514.1,85.5L514.1,85.3L514.2,85.0L514.3,84.8L514.4,84.6L514.5,84.3L514.5,84.1L514.6,84.0L514.7,83.8L514.7,83.6L514.8,83.4L514.8,83.3L514.8,83.1L514.9,83.0L514.9,82.9L514.9,82.8L514.9,82.7L514.9,82.6L515.0,82.5L515.0,82.4L515.0,82.4L515.0,82.3L515.0,82.3L515.0,82.2L515.0,82.2L515.0,82.2L515.0,82.1L515.0,82.1L515.0,82.1L515.0,82.1L515.0,82.1L515.0,82.1L515.0,82.1L515.0,82.1L515.0,82.1L515.0,82.1L515.0,82.1L515.0,82.2L515.0,82.2L515.0,82.2L515.0,82.3L515.0,82.3L515.0,82.4L515.0,82.5L515.1,82.5L515.1,82.6L515.1,82.8L515.1,82.9L515.1,83.0L515.2,83.1L515.2,83.2L515.2,83.4L515.3,83.6L515.3,83.8L515.4,84.0L515.4,84.1L515.5,84.3L515.6,84.5L515.6,84.7L515.7,85.1L515.8,85.4L515.9,85.6L516.1,85.9L516.2,86.2L516.2,86.3L516.4,86.7L516.6,87.2L516.7,87.5L516.9,87.7L517.0,87.9L517.2,88.2L517.3,88.3L517.4,88.6L517.7,89.2L518.0,89.8L518.2,90.0L518.3,90.0L518.6,90.7L518.9,91.0L519.1,91.3L519.4,91.7L519.7,92.3L519.8,92.2L520.1,92.5L520.5,93.2L520.6,93.1L520.7,93.0L520.8,93.1L521.4,93.8L521.8,94.3L521.9,94.3L522.3,94.7L522.8,95.3L523.1,95.6L523.2,95.5L523.5,95.7L524.0,96.2L524.2,96.3L524.7,96.8L525.5,97.7L525.9,98.0L525.9,97.7L525.9,97.3L526.0,97.3L526.7,97.9L527.1,98.2L527.6,98.6L527.5,98.1L527.3,97.6L528.2,98.4L528.4,98.4L528.7,98.5L529.5,99.1L529.6,98.9L529.5,98.5L529.6,98.3L529.2,97.6L529.2,97.3L530.0,97.9L530.6,98.2L530.0,97.4L530.2,97.3L531.0,97.8L531.1,97.7L531.4,97.7L530.9,96.9L530.3,96.1L530.4,96.0L530.8,96.1L531.7,96.6L531.5,96.2L531.2,95.7L531.6,95.8L531.3,95.3L531.2,95.0L531.3,94.8L531.5,94.8L531.9,94.8L531.1,94.0L530.3,93.2L530.9,93.4L530.6,93.1L530.3,92.6L530.2,92.4L529.3,91.6L529.8,91.7L530.0,91.7L529.0,90.8L528.6,90.4L528.4,90.1L527.9,89.7L527.8,89.5L528.1,89.5L527.5,89.0L527.0,88.6L526.7,88.3L526.3,88.0L526.0,87.7L525.4,87.3L525.2,87.1L525.4,87.0L525.3,86.9L524.8,86.6L524.2,86.2L523.9,86.0L524.1,86.0L523.8,85.7L522.9,85.3L522.5,85.0L522.1,84.8L521.9,84.7L521.7,84.5L521.0,84.2L520.9,84.1L520.9,84.1L520.3,83.8L520.2,83.7L519.7,83.6L519.1,83.3L519.0,83.3L518.9,83.2L518.6,83.1L518.4,83.0L518.2,82.9L517.9,82.8L517.5,82.7L517.2,82.6L517.0,82.5L516.8,82.5L516.6,82.4L516.5,82.4L516.3,82.3L516.2,82.3L516.0,82.3L515.9,82.2L515.7,82.2L515.6,82.2L515.5,82.2L515.5,82.2L515.4,82.1L515.3,82.1L515.2,82.1L515.2,82.1L515.1,82.1L515.1,82.1L515.1,82.1L515.0,82.1L515.0,82.1L515.0,82.1L515.0,82.1L515.0,82.1Z"/></defs>
<use href="#pb3" fill="#80c0ea"/>
<use href="#pr3" fill="#ff3d0a" fill-opacity="0.5"/>
<use href="#pb3" fill="none" stroke="#10509a" stroke-width="1.1" stroke-linejoin="round"/>
<use href="#pr3" fill="none" stroke="#ff4500" stroke-width="1.4" stroke-linejoin="round"/>
<rect x="575.6" y="28.7" width="106.7" height="106.8" fill="#fff" stroke="#1a1a1a" stroke-width="1.3"/>
<circle cx="628.95" cy="82.1" r="50.5" fill="none" stroke="#222" stroke-width="0.95" stroke-dasharray="3.7,2.2"/>
<defs><path id="pb4" d="M680.7,82.1L680.7,81.6L679.6,81.2L680.0,80.8L683.2,80.2L681.8,79.8L680.9,79.4L681.6,78.9L680.5,78.5L679.1,78.2L677.1,77.9L679.6,77.2L681.8,76.5L682.9,76.0L683.7,75.4L681.0,75.2L679.2,75.0L680.2,74.4L680.2,74.0L680.1,73.5L680.0,73.1L678.3,73.0L676.8,72.8L678.9,71.9L680.1,71.2L677.0,71.4L677.7,70.8L676.9,70.6L676.6,70.2L676.1,69.9L675.5,69.6L675.3,69.3L672.7,69.6L672.7,69.1L672.7,68.7L673.3,68.1L674.3,67.4L673.8,67.1L673.4,66.8L672.3,66.7L671.9,66.5L672.6,65.8L672.0,65.6L670.2,65.9L669.1,65.9L668.9,65.6L668.4,65.4L669.2,64.6L668.3,64.6L665.7,65.4L665.6,65.0L666.1,64.4L665.5,64.3L663.9,64.7L662.9,64.8L662.7,64.5L663.0,64.0L662.0,64.1L660.7,64.5L660.2,64.4L659.6,64.4L659.4,64.2L657.8,64.8L658.0,64.3L657.9,64.0L656.0,64.9L654.8,65.3L654.3,65.3L654.1,65.1L653.8,65.0L653.2,65.1L652.6,65.2L651.5,65.7L650.6,66.1L650.2,66.1L650.1,65.9L650.0,65.6L649.1,66.1L648.5,66.3L648.6,65.9L648.5,65.7L647.6,66.2L647.0,66.4L647.0,66.1L646.5,66.3L646.5,66.0L646.0,66.2L645.2,66.6L645.2,66.4L645.0,66.3L644.6,66.5L644.3,66.4L644.2,66.3L643.7,66.6L643.2,66.8L642.7,67.1L641.9,67.7L641.9,67.5L641.5,67.6L640.5,68.6L639.5,69.5L638.3,70.7L637.3,71.8L636.4,72.7L635.4,73.8L633.8,75.8L632.2,77.8L630.5,80.0L629.0,82.1L629.0,82.1L629.0,82.1L629.0,82.1L629.0,82.1L629.0,82.1L629.0,82.1L629.0,82.1L629.0,82.1L629.0,82.1L629.0,82.1L629.0,82.1L629.0,82.1L629.0,82.1L629.0,82.1L629.0,82.1L629.0,82.1L629.0,82.1L629.0,82.1L629.0,82.1L629.0,82.1L629.0,82.1L629.0,82.1L629.0,82.1L629.0,82.1L629.0,82.1L629.0,82.1L629.0,82.1L629.0,82.1L629.0,82.1L629.0,82.1L629.0,82.1L629.0,82.1L629.0,82.1L629.0,82.1L629.0,82.1L629.0,82.1L629.0,82.1L629.0,82.1L629.0,82.1L629.0,82.1L629.0,82.1L629.0,82.1L629.0,82.1L629.0,82.1L629.0,82.1L629.0,82.1L629.0,82.1L629.0,82.1L629.0,82.1L629.0,82.1L629.0,82.1L629.0,82.1L629.0,82.1L629.0,82.1L629.0,82.1L629.0,82.1L629.0,82.1L629.0,82.1L629.0,82.1L629.0,82.1L629.0,82.1L629.0,82.1L629.0,82.1L629.0,82.1L629.0,82.1L629.0,82.1L629.0,82.1L629.0,82.1L629.0,82.1L629.0,82.1L629.0,82.1L629.0,82.1L629.0,82.1L629.0,82.1L629.0,82.1L629.0,82.1L628.9,82.1L628.9,82.1L628.9,82.1L628.9,82.1L629.0,82.1L629.0,82.1L629.0,82.1L628.9,82.1L628.9,82.1L628.9,82.1L628.9,82.1L628.9,82.1L628.9,82.1L628.9,82.1L628.9,82.1L628.9,82.1L629.0,82.1L629.0,82.1L628.9,82.1L628.9,82.1L628.9,82.1L629.0,82.1L629.0,82.1L628.9,82.1L628.9,82.1L628.9,82.1L628.9,82.1L629.0,82.1L629.0,82.1L629.0,82.1L629.0,82.1L628.9,82.1L628.9,82.1L628.9,82.1L628.9,82.1L629.0,82.1L628.9,82.1L628.9,82.1L628.9,82.1L628.9,82.1L629.0,82.1L629.0,82.1L629.0,82.1L629.0,82.1L629.0,82.1L628.9,82.1L629.0,82.1L629.0,82.1L629.0,82.1L628.9,82.1L628.9,82.1L629.0,82.1L629.0,82.1L629.0,82.1L629.0,82.1L629.0,82.1L629.0,82.1L628.9,82.1L628.9,82.1L628.9,82.1L629.0,82.1L629.0,82.1L628.9,82.1L628.9,82.1L628.9,82.1L628.9,82.1L629.0,82.1L629.0,82.1L627.5,80.1L626.0,78.2L624.4,76.2L622.6,74.0L621.5,72.8L620.8,72.0L619.8,71.0L618.7,69.9L617.5,68.7L616.5,67.7L616.1,67.6L615.7,67.4L615.4,67.3L614.8,67.0L614.5,66.9L614.3,66.9L613.9,66.8L613.5,66.7L613.1,66.6L612.8,66.5L612.9,66.9L612.1,66.4L611.7,66.3L611.8,66.6L611.6,66.7L611.5,66.9L610.9,66.7L610.5,66.6L609.7,66.2L609.2,66.1L609.4,66.6L608.5,66.1L607.5,65.6L608.0,66.3L607.9,66.5L606.3,65.7L605.8,65.6L605.7,65.8L604.9,65.6L605.1,66.0L604.8,66.1L603.1,65.3L601.4,64.6L601.0,64.6L601.0,64.9L599.9,64.7L599.1,64.5L598.4,64.4L598.1,64.7L597.6,64.7L596.2,64.3L595.2,64.2L595.7,64.8L595.0,64.8L593.4,64.4L593.2,64.6L593.7,65.3L593.2,65.4L592.5,65.5L593.6,66.4L591.9,66.0L589.5,65.3L588.9,65.5L588.1,65.6L587.6,65.8L586.5,65.8L585.5,65.8L584.6,66.0L582.8,65.7L583.0,66.3L584.0,67.1L582.6,67.0L583.6,67.8L585.2,68.7L583.8,68.7L584.6,69.4L583.5,69.5L580.1,69.0L581.9,69.9L584.0,70.9L581.6,70.7L579.2,70.6L581.5,71.6L582.1,72.1L580.4,72.2L582.7,73.1L582.7,73.5L581.1,73.7L580.4,74.0L579.5,74.3L579.7,74.7L579.7,75.2L579.4,75.6L578.5,75.9L577.1,76.2L576.5,76.6L578.5,77.2L580.4,77.9L580.0,78.2L577.3,78.5L575.9,78.9L578.3,79.4L580.2,80.0L580.4,80.4L578.9,80.8L578.9,81.2L578.9,81.7L575.9,82.1L576.2,82.6L576.9,83.0L578.5,83.4L579.2,83.8L577.1,84.4L578.7,84.7L577.6,85.2L576.6,85.8L579.1,86.0L579.6,86.4L577.8,87.0L579.2,87.3L580.2,87.7L579.9,88.1L579.9,88.6L579.6,89.0L580.1,89.4L578.9,90.0L579.0,90.5L579.5,90.8L579.0,91.4L579.4,91.7L580.2,92.0L580.8,92.3L580.6,92.8L579.7,93.5L578.8,94.1L578.5,94.7L581.6,94.4L583.3,94.3L582.3,95.0L581.9,95.6L581.8,96.1L584.5,95.7L585.6,95.8L586.2,96.0L587.3,96.1L587.0,96.6L587.5,96.8L585.8,97.8L586.2,98.1L588.2,97.7L588.1,98.2L587.4,98.9L589.4,98.5L589.6,98.8L589.6,99.2L592.0,98.5L592.0,98.9L591.6,99.5L590.6,100.4L591.2,100.5L593.8,99.6L595.1,99.4L595.9,99.3L596.0,99.6L595.7,100.2L597.0,99.8L597.6,99.9L599.0,99.4L600.4,98.9L600.8,99.0L601.6,98.9L602.5,98.6L602.6,98.9L603.0,98.9L604.0,98.6L603.8,99.1L603.8,99.4L604.4,99.3L606.2,98.3L607.3,97.9L607.2,98.2L607.9,98.0L608.4,97.8L608.8,97.8L608.9,98.1L609.3,98.0L610.2,97.5L610.9,97.2L611.0,97.4L611.4,97.3L611.6,97.4L611.7,97.6L612.3,97.4L612.4,97.5L612.7,97.5L613.0,97.5L613.4,97.3L614.2,96.8L614.0,97.3L614.1,97.5L615.2,96.5L615.4,96.6L615.6,96.7L615.9,96.6L615.9,96.9L616.4,96.5L617.7,95.3L618.9,94.1L619.8,93.2L620.7,92.3L621.6,91.3L622.6,90.3L624.3,88.1L625.9,86.1L627.4,84.2L629.0,82.1L629.0,82.1L629.0,82.1L628.9,82.1L628.9,82.1L628.9,82.1L629.0,82.1L629.0,82.1L628.9,82.1L628.9,82.1L628.9,82.1L629.0,82.1L629.0,82.1L628.9,82.1L629.0,82.1L629.0,82.1L628.9,82.1L629.0,82.1L629.0,82.1L628.9,82.1L628.9,82.1L628.9,82.1L629.0,82.1L628.9,82.1L629.0,82.1L629.0,82.1L629.0,82.1L628.9,82.1L628.9,82.1L629.0,82.1L628.9,82.1L628.9,82.1L628.9,82.1L628.9,82.1L628.9,82.1L629.0,82.1L629.0,82.1L629.0,82.1L629.0,82.1L629.0,82.1L629.0,82.1L628.9,82.1L628.9,82.1L628.9,82.1L628.9,82.1L628.9,82.1L629.0,82.1L628.9,82.1L629.0,82.1L629.0,82.1L629.0,82.1L628.9,82.1L628.9,82.1L628.9,82.1L628.9,82.1L629.0,82.1L629.0,82.1L629.0,82.1L628.9,82.1L628.9,82.1L629.0,82.1L629.0,82.1L628.9,82.1L628.9,82.1L629.0,82.1L628.9,82.1L629.0,82.1L628.9,82.1L628.9,82.1L629.0,82.1L629.0,82.1L629.0,82.1L629.0,82.1L629.0,82.1L629.0,82.1L629.0,82.1L629.0,82.1L629.0,82.1L629.0,82.1L629.0,82.1L629.0,82.1L629.0,82.1L629.0,82.1L629.0,82.1L629.0,82.1L629.0,82.1L629.0,82.1L629.0,82.1L629.0,82.1L629.0,82.1L629.0,82.1L629.0,82.1L629.0,82.1L629.0,82.1L629.0,82.1L629.0,82.1L629.0,82.1L629.0,82.1L629.0,82.1L629.0,82.1L629.0,82.1L629.0,82.1L629.0,82.1L629.0,82.1L629.0,82.1L629.0,82.1L629.0,82.1L629.0,82.1L629.0,82.1L629.0,82.1L629.0,82.1L629.0,82.1L629.0,82.1L629.0,82.1L629.0,82.1L629.0,82.1L629.0,82.1L629.0,82.1L629.0,82.1L629.0,82.1L629.0,82.1L629.0,82.1L629.0,82.1L629.0,82.1L629.0,82.1L629.0,82.1L629.0,82.1L629.0,82.1L629.0,82.1L629.0,82.1L629.0,82.1L629.0,82.1L629.0,82.1L629.0,82.1L629.0,82.1L629.0,82.1L629.0,82.1L629.0,82.1L629.0,82.1L629.0,82.1L629.0,82.1L629.0,82.1L629.0,82.1L629.0,82.1L629.0,82.1L630.6,84.3L632.1,86.3L633.7,88.3L635.5,90.4L636.3,91.3L637.1,92.1L638.2,93.3L639.2,94.3L640.1,95.2L641.4,96.4L641.7,96.5L641.9,96.4L642.4,96.7L642.8,96.9L643.1,97.0L643.7,97.3L644.2,97.7L644.8,98.0L644.9,97.8L645.0,97.6L645.3,97.6L645.6,97.7L646.5,98.2L646.5,97.9L646.8,97.9L647.2,98.0L647.1,97.6L647.9,98.0L648.8,98.4L649.2,98.5L649.5,98.5L649.9,98.5L650.1,98.4L650.0,97.9L650.5,98.1L651.5,98.5L652.4,98.8L652.9,98.9L654.0,99.3L655.2,99.8L654.9,99.2L655.5,99.3L656.3,99.5L657.3,99.8L657.9,99.9L658.8,100.0L659.2,99.9L659.3,99.6L660.6,100.0L660.8,99.8L661.4,99.7L662.5,100.0L662.7,99.7L662.8,99.3L664.4,99.8L665.1,99.7L666.4,100.0L668.6,100.6L667.9,99.9L667.7,99.4L669.1,99.5L670.0,99.5L669.9,99.0L670.5,98.9L671.0,98.7L670.8,98.2L672.6,98.4L673.1,98.2L671.7,97.2L671.6,96.8L673.1,96.9L673.4,96.5L672.6,95.9L673.8,95.8L674.2,95.5L676.4,95.7L677.1,95.5L676.2,94.8L675.8,94.2L675.0,93.6L677.5,93.8L678.7,93.6L678.7,93.1L677.9,92.5L677.6,92.0L678.3,91.7L676.8,91.0L678.4,90.8L679.5,90.6L678.2,89.9L680.1,89.7L681.3,89.5L683.5,89.3L682.8,88.7L681.6,88.1L681.7,87.6L680.2,87.0L681.7,86.7L682.6,86.3L680.9,85.7L680.1,85.2L681.0,84.8L683.2,84.5L682.2,84.0L680.6,83.5L682.3,83.0L682.3,82.6Z"/><path id="pr4" d="M629.0,82.1L629.0,82.1L629.0,82.1L629.0,82.1L629.0,82.1L629.0,82.1L629.1,82.1L629.1,82.1L629.2,82.1L629.2,82.1L629.3,82.1L629.4,82.1L629.5,82.0L629.6,82.0L629.7,82.0L629.9,82.0L630.0,81.9L630.2,81.9L630.3,81.9L630.6,81.8L630.8,81.8L630.9,81.7L631.2,81.7L631.5,81.6L631.8,81.5L631.9,81.5L632.1,81.4L632.6,81.2L633.0,81.1L633.3,81.0L633.5,80.9L633.6,80.8L633.9,80.7L634.5,80.5L634.8,80.3L635.4,80.1L635.7,79.9L635.9,79.8L636.4,79.5L636.7,79.4L636.8,79.2L637.1,79.0L637.7,78.7L638.4,78.4L638.5,78.2L639.0,77.9L639.5,77.6L639.4,77.6L639.9,77.2L640.5,76.8L640.4,76.8L640.9,76.4L641.5,76.0L641.6,75.8L642.2,75.3L642.1,75.3L641.9,75.2L642.7,74.6L643.4,74.1L643.7,73.8L643.6,73.6L643.7,73.4L644.3,72.9L645.1,72.2L644.9,72.1L644.2,72.4L644.8,71.8L645.6,71.1L645.6,70.9L646.1,70.3L646.9,69.5L646.6,69.5L646.3,69.5L646.9,68.8L646.9,68.5L646.3,68.8L646.5,68.4L646.8,67.9L646.9,67.5L647.1,67.1L646.9,67.0L647.3,66.4L647.3,66.1L646.8,66.3L646.5,66.3L647.3,65.3L647.9,64.4L646.7,65.3L645.8,65.9L646.4,65.0L646.4,64.6L646.1,64.7L646.4,64.1L646.2,63.9L645.7,64.1L645.3,64.3L645.1,64.2L645.1,63.8L645.5,63.1L645.4,62.8L644.5,63.5L644.2,63.6L644.0,63.5L643.0,64.4L642.6,64.6L643.0,63.7L642.6,64.0L642.2,64.1L642.0,64.2L641.4,64.6L640.9,65.1L641.0,64.5L641.1,64.1L640.5,64.7L639.9,65.2L639.0,66.3L639.0,66.0L638.8,66.0L638.6,66.1L638.3,66.2L638.0,66.5L637.5,67.0L636.6,68.3L636.5,68.2L636.4,68.0L636.0,68.5L635.8,68.6L635.4,69.2L634.8,70.1L634.5,70.5L634.1,71.0L633.8,71.5L633.6,71.7L633.4,71.9L633.2,72.1L632.9,72.5L632.7,72.8L632.6,72.8L632.4,73.2L632.1,73.7L631.8,74.2L631.6,74.5L631.5,74.7L631.3,75.2L631.0,75.8L630.8,76.1L630.7,76.3L630.6,76.5L630.5,76.8L630.3,77.2L630.1,77.7L630.0,78.1L629.9,78.3L629.8,78.6L629.7,78.9L629.6,79.1L629.6,79.2L629.5,79.5L629.4,79.8L629.3,80.0L629.3,80.3L629.2,80.5L629.2,80.7L629.1,80.8L629.1,81.0L629.1,81.2L629.0,81.3L629.0,81.4L629.0,81.5L629.0,81.7L629.0,81.8L629.0,81.8L629.0,81.9L629.0,81.9L629.0,82.0L629.0,82.0L629.0,82.1L629.0,82.1L629.0,82.1L629.0,82.1L629.0,82.1L628.9,82.1L628.9,82.1L628.9,82.1L628.9,82.1L628.9,82.0L628.9,82.0L628.9,81.9L628.9,81.9L628.9,81.8L628.9,81.8L628.9,81.6L628.9,81.5L628.9,81.4L628.9,81.3L628.8,81.1L628.8,81.0L628.8,80.8L628.7,80.6L628.7,80.5L628.6,80.3L628.6,80.1L628.5,79.8L628.4,79.6L628.4,79.3L628.3,79.1L628.2,78.9L628.1,78.5L628.0,78.2L627.9,78.0L627.8,77.7L627.7,77.5L627.5,77.1L627.3,76.7L627.2,76.3L627.0,75.8L626.8,75.5L626.7,75.4L626.5,74.9L626.2,74.4L626.0,74.0L625.8,73.7L625.6,73.4L625.3,72.9L625.1,72.5L624.9,72.4L624.8,72.2L624.4,71.6L623.9,70.8L623.7,70.5L623.5,70.4L623.2,70.1L623.2,70.4L622.8,69.7L622.1,68.6L621.8,68.3L621.7,68.5L621.5,68.5L621.0,67.7L620.9,68.0L620.6,67.6L620.1,67.0L619.7,66.7L619.6,66.8L619.5,67.0L619.0,66.5L618.8,66.5L618.3,66.0L617.3,64.9L617.0,64.7L616.8,64.8L616.1,64.1L615.8,64.0L616.0,64.6L616.3,65.3L615.8,65.0L615.1,64.3L615.0,64.6L614.4,64.2L613.8,63.8L614.3,64.6L614.1,64.7L613.5,64.3L613.0,64.1L612.7,64.0L612.4,64.1L612.4,64.4L612.7,65.0L612.5,65.0L612.2,65.1L612.0,65.1L611.4,64.8L611.5,65.2L611.8,65.8L611.7,66.0L612.2,66.7L611.9,66.8L611.9,67.0L611.6,67.0L611.3,67.0L611.5,67.5L611.1,67.4L610.4,67.1L610.8,67.6L612.1,68.9L612.1,69.2L611.5,69.0L611.1,68.9L611.2,69.2L612.0,70.0L611.8,70.1L611.3,70.0L611.9,70.6L612.4,71.1L612.4,71.3L611.8,71.2L612.4,71.8L613.6,72.7L613.7,72.9L613.6,73.1L614.0,73.4L614.3,73.8L614.3,74.0L614.2,74.1L614.8,74.6L615.7,75.2L616.1,75.6L616.8,76.1L617.4,76.5L617.2,76.5L617.3,76.7L617.1,76.7L617.2,76.9L618.0,77.3L618.4,77.6L619.0,78.0L619.8,78.4L620.2,78.6L620.5,78.8L620.4,78.9L620.8,79.1L621.6,79.5L621.9,79.7L622.0,79.8L622.3,79.9L622.7,80.1L623.2,80.4L623.8,80.6L624.0,80.7L624.2,80.8L624.4,80.9L624.8,81.0L625.2,81.2L625.4,81.2L625.7,81.3L626.0,81.4L626.3,81.5L626.5,81.6L626.6,81.6L627.0,81.7L627.2,81.8L627.3,81.8L627.6,81.9L627.7,81.9L627.9,82.0L628.0,82.0L628.1,82.0L628.3,82.0L628.4,82.0L628.5,82.1L628.6,82.1L628.7,82.1L628.7,82.1L628.8,82.1L628.8,82.1L628.9,82.1L628.9,82.1L628.9,82.1L628.9,82.1L628.9,82.1L629.0,82.1L628.9,82.1L628.9,82.1L628.9,82.1L628.9,82.1L628.9,82.1L628.9,82.1L628.8,82.1L628.8,82.1L628.7,82.1L628.6,82.1L628.5,82.1L628.4,82.2L628.3,82.2L628.2,82.2L628.2,82.2L628.0,82.2L627.8,82.3L627.6,82.3L627.5,82.3L627.3,82.4L627.0,82.5L626.9,82.5L626.8,82.5L626.5,82.6L626.3,82.7L626.0,82.8L625.7,82.9L625.4,83.0L625.1,83.1L624.8,83.2L624.5,83.3L624.3,83.4L624.2,83.5L624.1,83.6L623.8,83.7L623.2,84.0L622.7,84.2L622.8,84.2L622.6,84.3L621.9,84.7L621.5,84.9L621.1,85.1L620.8,85.3L620.1,85.7L619.8,85.9L619.8,86.0L619.3,86.3L618.8,86.6L618.7,86.8L618.8,86.8L618.5,87.1L618.2,87.3L617.8,87.7L617.0,88.2L616.7,88.5L616.1,88.9L616.1,89.1L616.2,89.2L615.6,89.6L615.8,89.7L615.4,90.1L614.6,90.7L614.2,91.2L614.2,91.3L614.2,91.5L614.1,91.7L613.7,92.2L612.7,93.0L613.0,93.1L613.3,93.0L613.6,93.1L613.5,93.3L613.2,93.8L613.0,94.1L613.3,94.1L612.7,94.8L612.1,95.5L612.3,95.6L612.2,95.9L612.6,95.8L612.2,96.4L611.7,97.1L612.9,96.3L613.3,96.2L613.0,96.8L613.3,96.7L612.6,97.6L612.8,97.7L613.2,97.6L613.5,97.6L613.6,97.7L613.4,98.2L614.7,97.1L614.6,97.5L614.0,98.4L614.5,98.1L614.6,98.3L615.0,98.1L615.2,98.2L614.8,98.9L614.9,99.1L615.4,98.8L615.9,98.4L616.3,98.3L616.6,98.3L616.6,98.4L616.9,98.3L617.6,97.7L617.9,97.5L617.9,97.9L618.0,98.1L618.4,97.7L619.1,97.0L619.2,97.1L619.4,97.1L620.3,96.0L620.7,95.5L620.4,96.3L620.8,96.0L621.5,95.0L621.8,94.8L621.8,95.0L622.2,94.5L622.5,94.3L622.8,93.9L623.1,93.6L623.2,93.6L623.3,93.7L623.6,93.4L623.9,93.0L624.2,92.6L624.6,91.8L625.0,91.2L625.1,91.2L625.3,90.8L625.7,90.1L625.8,90.2L625.9,89.9L626.3,89.3L626.3,89.3L626.5,89.0L626.7,88.6L626.9,88.3L627.0,88.0L627.2,87.6L627.3,87.4L627.4,87.3L627.6,86.8L627.7,86.5L627.8,86.2L628.0,85.8L628.1,85.6L628.2,85.3L628.3,85.0L628.3,84.8L628.4,84.6L628.5,84.2L628.6,83.9L628.6,83.8L628.7,83.8L628.7,83.6L628.7,83.4L628.8,83.2L628.8,83.1L628.8,83.0L628.9,82.9L628.9,82.7L628.9,82.6L628.9,82.5L628.9,82.4L628.9,82.4L628.9,82.3L628.9,82.2L628.9,82.2L628.9,82.2L628.9,82.1L628.9,82.1L628.9,82.1L628.9,82.1L629.0,82.1L629.0,82.1L629.0,82.1L629.0,82.1L629.0,82.1L629.0,82.2L629.0,82.2L629.0,82.3L629.0,82.3L629.0,82.4L629.0,82.5L629.0,82.6L629.0,82.6L629.0,82.8L629.0,82.9L629.1,83.1L629.1,83.2L629.1,83.4L629.2,83.6L629.2,83.7L629.3,83.9L629.3,84.2L629.4,84.4L629.5,84.7L629.5,84.9L629.6,84.9L629.7,85.3L629.8,85.7L629.9,86.0L630.0,86.2L630.1,86.6L630.3,87.0L630.4,87.3L630.6,87.7L630.8,88.0L630.9,88.3L631.0,88.5L631.3,89.2L631.5,89.5L631.6,89.6L631.8,89.9L631.9,90.1L632.3,90.9L632.6,91.3L632.8,91.6L633.1,92.1L633.3,92.4L633.5,92.6L633.6,92.5L634.2,93.5L634.6,94.2L634.6,94.0L634.8,94.2L634.9,94.0L635.2,94.4L635.7,95.1L635.9,95.3L636.7,96.4L637.1,96.8L637.1,96.5L637.3,96.6L637.9,97.3L638.5,98.1L638.6,97.8L638.5,97.4L638.9,97.8L639.7,98.6L639.6,98.2L640.2,98.7L640.8,99.3L640.8,99.1L641.2,99.3L641.3,99.1L642.1,99.8L642.6,100.2L642.3,99.4L642.6,99.6L643.6,100.5L643.7,100.4L644.1,100.5L644.2,100.2L644.4,100.2L645.0,100.6L645.0,100.2L645.6,100.6L646.0,100.7L645.7,100.0L645.8,99.9L645.9,99.6L646.0,99.5L646.9,100.0L647.3,100.1L646.7,99.2L646.3,98.6L646.9,98.8L647.3,98.9L646.8,98.2L646.8,97.9L647.2,98.0L647.7,98.1L647.7,97.8L647.1,97.0L646.6,96.4L646.0,95.7L646.7,96.0L647.2,96.1L646.6,95.4L646.8,95.3L647.0,95.2L646.5,94.6L646.4,94.3L646.2,93.9L646.0,93.6L646.0,93.4L645.5,92.8L645.0,92.3L644.6,91.9L644.8,91.8L644.7,91.6L643.9,90.9L643.9,90.7L644.0,90.6L643.5,90.2L643.1,89.8L642.7,89.4L642.1,89.0L642.1,88.8L641.6,88.4L640.7,87.8L640.3,87.5L640.5,87.5L640.2,87.2L639.6,86.8L639.3,86.6L638.8,86.3L638.5,86.1L638.3,85.9L638.4,85.8L637.9,85.5L637.3,85.2L637.3,85.1L637.1,85.0L636.5,84.7L636.0,84.5L635.6,84.2L635.2,84.1L634.9,83.9L634.3,83.7L634.2,83.6L633.9,83.5L633.5,83.3L633.1,83.2L632.7,83.0L632.3,82.9L631.9,82.8L631.8,82.7L631.7,82.7L631.3,82.6L631.2,82.5L630.9,82.5L630.7,82.4L630.6,82.4L630.4,82.3L630.2,82.3L630.0,82.2L629.9,82.2L629.8,82.2L629.6,82.2L629.5,82.2L629.4,82.1L629.3,82.1L629.2,82.1L629.2,82.1L629.1,82.1L629.1,82.1L629.0,82.1L629.0,82.1L629.0,82.1L629.0,82.1L629.0,82.1Z"/></defs>
<use href="#pb4" fill="#80c0ea"/>
<use href="#pr4" fill="#ff3d0a" fill-opacity="0.5"/>
<use href="#pb4" fill="none" stroke="#10509a" stroke-width="1.1" stroke-linejoin="round"/>
<use href="#pr4" fill="none" stroke="#ff4500" stroke-width="1.4" stroke-linejoin="round"/>
<rect x="29.0" y="0.4" width="95.4" height="32.2" fill="#fff" stroke="#111" stroke-width="1.1"/>
<text x="76.70" y="13.8" font-size="12" text-anchor="middle"><tspan font-size="13">D</tspan><tspan font-size="9" dy="-4.8">0</tspan><tspan dy="4.8" font-size="13">X</tspan> @ 1.5972 eV</text>
<text x="76.70" y="27.3" font-size="12" text-anchor="middle">τ = 53 ps</text>
<rect x="146.6" y="1.4" width="79.8" height="30.7" fill="#fff" stroke="#111" stroke-width="1.1"/>
<text x="186.50" y="12.8" font-size="12" text-anchor="middle">T @ 1.5982 eV</text>
<text x="186.50" y="26.6" font-size="12" text-anchor="middle">τ = 6.7 ps</text>
<rect x="254.3" y="1.1" width="89.9" height="34.9" fill="#fff" stroke="#111" stroke-width="1.1"/>
<text x="299.25" y="13.0" font-size="12" text-anchor="middle"><tspan font-size="13">X</tspan><tspan font-size="8.4" dy="4.5">hh</tspan><tspan dy="-4.5" dx="1"> @ 1.6008 eV</tspan></text>
<text x="299.25" y="30.6" font-size="12" text-anchor="middle">τ = 3.3 ps</text>
<rect x="470.7" y="1.1" width="88.6" height="34.9" fill="#fff" stroke="#111" stroke-width="1.1"/>
<text x="515.00" y="13.0" font-size="12" text-anchor="middle"><tspan font-size="13">X</tspan><tspan font-size="8.4" dy="4.5">lh</tspan><tspan dy="-4.5" dx="1"> @ 1.6158 eV</tspan></text>
<text x="515.00" y="30.6" font-size="12" text-anchor="middle">τ = 0 ps</text>
<rect x="576.8" y="1.1" width="104.9" height="34.9" fill="#fff" stroke="#111" stroke-width="1.1"/>
<text x="629.25" y="13.0" font-size="12" text-anchor="middle"><tspan font-size="13">X</tspan><tspan font-size="8.4" dy="4.5">e2-hh2</tspan><tspan dy="-4.5" dx="1"> @ 1.6266 eV</tspan></text>
<text x="629.25" y="30.6" font-size="12" text-anchor="middle">τ = 0 ps</text>
<text x="-0.9" y="18.0" font-size="16">(a)</text>
<line x1="354" y1="67.5" x2="383.7" y2="67.5" stroke="#10509a" stroke-width="1.1"/>
<line x1="354" y1="90" x2="383.7" y2="90" stroke="#ff4500" stroke-width="1.5" stroke-opacity="0.75"/>
<text x="391" y="72.5" font-size="13"><tspan font-style="italic">φ</tspan><tspan font-size="9.5" dy="4.3" font-style="italic">d</tspan><tspan dy="-4.3" dx="0.6"> = 0° (H)</tspan></text>
<text x="391" y="95" font-size="13"><tspan font-style="italic">φ</tspan><tspan font-size="9.5" dy="4.3" font-style="italic">d</tspan><tspan dy="-4.3" dx="0.6"> = 90° (V)</tspan></text>
<line x1="100.4" y1="358.70" x2="671.4" y2="358.70" stroke="#777" stroke-width="1" stroke-dasharray="4,2.5"/>
<rect x="100.4" y="330.0" width="571.0" height="124.5" fill="none" stroke="#000" stroke-width="1.2"/>
<line x1="100.40" y1="454.5" x2="100.40" y2="460.0" stroke="#111" stroke-width="1.1"/>
<text x="100.40" y="471.70" font-size="12" text-anchor="middle">1.595</text>
<line x1="116.71" y1="454.5" x2="116.71" y2="457.5" stroke="#111" stroke-width="0.9"/>
<line x1="133.03" y1="454.5" x2="133.03" y2="457.5" stroke="#111" stroke-width="0.9"/>
<line x1="149.34" y1="454.5" x2="149.34" y2="457.5" stroke="#111" stroke-width="0.9"/>
<line x1="165.66" y1="454.5" x2="165.66" y2="457.5" stroke="#111" stroke-width="0.9"/>
<line x1="181.97" y1="454.5" x2="181.97" y2="460.0" stroke="#111" stroke-width="1.1"/>
<text x="181.97" y="471.70" font-size="12" text-anchor="middle">1.600</text>
<line x1="198.29" y1="454.5" x2="198.29" y2="457.5" stroke="#111" stroke-width="0.9"/>
<line x1="214.60" y1="454.5" x2="214.60" y2="457.5" stroke="#111" stroke-width="0.9"/>
<line x1="230.91" y1="454.5" x2="230.91" y2="457.5" stroke="#111" stroke-width="0.9"/>
<line x1="247.23" y1="454.5" x2="247.23" y2="457.5" stroke="#111" stroke-width="0.9"/>
<line x1="263.54" y1="454.5" x2="263.54" y2="460.0" stroke="#111" stroke-width="1.1"/>
<text x="263.54" y="471.70" font-size="12" text-anchor="middle">1.605</text>
<line x1="279.86" y1="454.5" x2="279.86" y2="457.5" stroke="#111" stroke-width="0.9"/>
<line x1="296.17" y1="454.5" x2="296.17" y2="457.5" stroke="#111" stroke-width="0.9"/>
<line x1="312.49" y1="454.5" x2="312.49" y2="457.5" stroke="#111" stroke-width="0.9"/>
<line x1="328.80" y1="454.5" x2="328.80" y2="457.5" stroke="#111" stroke-width="0.9"/>
<line x1="345.11" y1="454.5" x2="345.11" y2="460.0" stroke="#111" stroke-width="1.1"/>
<text x="345.11" y="471.70" font-size="12" text-anchor="middle">1.610</text>
<line x1="361.43" y1="454.5" x2="361.43" y2="457.5" stroke="#111" stroke-width="0.9"/>
<line x1="377.74" y1="454.5" x2="377.74" y2="457.5" stroke="#111" stroke-width="0.9"/>
<line x1="394.06" y1="454.5" x2="394.06" y2="457.5" stroke="#111" stroke-width="0.9"/>
<line x1="410.37" y1="454.5" x2="410.37" y2="457.5" stroke="#111" stroke-width="0.9"/>
<line x1="426.69" y1="454.5" x2="426.69" y2="460.0" stroke="#111" stroke-width="1.1"/>
<text x="426.69" y="471.70" font-size="12" text-anchor="middle">1.615</text>
<line x1="443.00" y1="454.5" x2="443.00" y2="457.5" stroke="#111" stroke-width="0.9"/>
<line x1="459.31" y1="454.5" x2="459.31" y2="457.5" stroke="#111" stroke-width="0.9"/>
<line x1="475.63" y1="454.5" x2="475.63" y2="457.5" stroke="#111" stroke-width="0.9"/>
<line x1="491.94" y1="454.5" x2="491.94" y2="457.5" stroke="#111" stroke-width="0.9"/>
<line x1="508.26" y1="454.5" x2="508.26" y2="460.0" stroke="#111" stroke-width="1.1"/>
<text x="508.26" y="471.70" font-size="12" text-anchor="middle">1.620</text>
<line x1="524.57" y1="454.5" x2="524.57" y2="457.5" stroke="#111" stroke-width="0.9"/>
<line x1="540.89" y1="454.5" x2="540.89" y2="457.5" stroke="#111" stroke-width="0.9"/>
<line x1="557.20" y1="454.5" x2="557.20" y2="457.5" stroke="#111" stroke-width="0.9"/>
<line x1="573.51" y1="454.5" x2="573.51" y2="457.5" stroke="#111" stroke-width="0.9"/>
<line x1="589.83" y1="454.5" x2="589.83" y2="460.0" stroke="#111" stroke-width="1.1"/>
<text x="589.83" y="471.70" font-size="12" text-anchor="middle">1.625</text>
<line x1="606.14" y1="454.5" x2="606.14" y2="457.5" stroke="#111" stroke-width="0.9"/>
<line x1="622.46" y1="454.5" x2="622.46" y2="457.5" stroke="#111" stroke-width="0.9"/>
<line x1="638.77" y1="454.5" x2="638.77" y2="457.5" stroke="#111" stroke-width="0.9"/>
<line x1="655.09" y1="454.5" x2="655.09" y2="457.5" stroke="#111" stroke-width="0.9"/>
<line x1="671.40" y1="454.5" x2="671.40" y2="460.0" stroke="#111" stroke-width="1.1"/>
<text x="671.40" y="471.70" font-size="12" text-anchor="middle">1.630</text>
<line x1="91.4" y1="454.50" x2="100.4" y2="454.50" stroke="#111" stroke-width="1.1"/>
<text x="86.4" y="458.70" font-size="12" text-anchor="end">0.0</text>
<line x1="95.4" y1="444.92" x2="100.4" y2="444.92" stroke="#111" stroke-width="0.9"/>
<line x1="95.4" y1="435.34" x2="100.4" y2="435.34" stroke="#111" stroke-width="0.9"/>
<line x1="95.4" y1="425.76" x2="100.4" y2="425.76" stroke="#111" stroke-width="0.9"/>
<line x1="95.4" y1="416.18" x2="100.4" y2="416.18" stroke="#111" stroke-width="0.9"/>
<line x1="91.4" y1="406.60" x2="100.4" y2="406.60" stroke="#111" stroke-width="1.1"/>
<text x="86.4" y="410.80" font-size="12" text-anchor="end">0.5</text>
<line x1="95.4" y1="397.02" x2="100.4" y2="397.02" stroke="#111" stroke-width="0.9"/>
<line x1="95.4" y1="387.44" x2="100.4" y2="387.44" stroke="#111" stroke-width="0.9"/>
<line x1="95.4" y1="377.86" x2="100.4" y2="377.86" stroke="#111" stroke-width="0.9"/>
<line x1="95.4" y1="368.28" x2="100.4" y2="368.28" stroke="#111" stroke-width="0.9"/>
<line x1="91.4" y1="358.70" x2="100.4" y2="358.70" stroke="#111" stroke-width="1.1"/>
<text x="86.4" y="362.90" font-size="12" text-anchor="end">1.0</text>
<line x1="95.4" y1="349.12" x2="100.4" y2="349.12" stroke="#111" stroke-width="0.9"/>
<line x1="95.4" y1="339.54" x2="100.4" y2="339.54" stroke="#111" stroke-width="0.9"/>
<line x1="95.4" y1="329.96" x2="100.4" y2="329.96" stroke="#111" stroke-width="0.9"/>
<text x="385.5" y="490.8" font-size="13.3" text-anchor="middle">Energy (eV)</text>
<text transform="translate(34.0,402.0) rotate(-90)" font-size="13.3" text-anchor="middle">Ratio of</text>
<text transform="translate(49.2,401.8) rotate(-90)" font-size="13.3" text-anchor="middle">PE amplitudes</text>
<text x="-0.9" y="335.8" font-size="16">(c)</text>
<g clip-path="url(#cc)">
<rect x="134.10" y="344.30" width="5.4" height="5.4" fill="#1cc6c6" stroke="#0a2e2e" stroke-width="0.65"/>
<rect x="136.50" y="360.20" width="5.4" height="5.4" fill="#1cc6c6" stroke="#0a2e2e" stroke-width="0.65"/>
<rect x="138.20" y="358.50" width="5.4" height="5.4" fill="#1cc6c6" stroke="#0a2e2e" stroke-width="0.65"/>
<rect x="135.30" y="365.30" width="5.4" height="5.4" fill="#1cc6c6" stroke="#0a2e2e" stroke-width="0.65"/>
<rect x="140.50" y="364.50" width="5.4" height="5.4" fill="#1cc6c6" stroke="#0a2e2e" stroke-width="0.65"/>
<rect x="143.30" y="362.10" width="5.4" height="5.4" fill="#1cc6c6" stroke="#0a2e2e" stroke-width="0.65"/>
<rect x="147.10" y="362.80" width="5.4" height="5.4" fill="#1cc6c6" stroke="#0a2e2e" stroke-width="0.65"/>
<rect x="149.30" y="362.10" width="5.4" height="5.4" fill="#1cc6c6" stroke="#0a2e2e" stroke-width="0.65"/>
<rect x="144.70" y="368.70" width="5.4" height="5.4" fill="#1cc6c6" stroke="#0a2e2e" stroke-width="0.65"/>
<rect x="150.70" y="370.60" width="5.4" height="5.4" fill="#1cc6c6" stroke="#0a2e2e" stroke-width="0.65"/>
<rect x="154.20" y="380.90" width="5.4" height="5.4" fill="#1cc6c6" stroke="#0a2e2e" stroke-width="0.65"/>
<rect x="152.80" y="388.30" width="5.4" height="5.4" fill="#1cc6c6" stroke="#0a2e2e" stroke-width="0.65"/>
<rect x="154.90" y="396.80" width="5.4" height="5.4" fill="#1cc6c6" stroke="#0a2e2e" stroke-width="0.65"/>
<rect x="154.90" y="398.60" width="5.4" height="5.4" fill="#1cc6c6" stroke="#0a2e2e" stroke-width="0.65"/>
<rect x="159.20" y="400.10" width="5.4" height="5.4" fill="#1cc6c6" stroke="#0a2e2e" stroke-width="0.65"/>
<rect x="160.60" y="412.80" width="5.4" height="5.4" fill="#1cc6c6" stroke="#0a2e2e" stroke-width="0.65"/>
<rect x="162.30" y="425.90" width="5.4" height="5.4" fill="#1cc6c6" stroke="#0a2e2e" stroke-width="0.65"/>
<rect x="163.40" y="429.10" width="5.4" height="5.4" fill="#1cc6c6" stroke="#0a2e2e" stroke-width="0.65"/>
<rect x="166.30" y="442.90" width="5.4" height="5.4" fill="#1cc6c6" stroke="#0a2e2e" stroke-width="0.65"/>
<rect x="169.10" y="445.50" width="5.4" height="5.4" fill="#1cc6c6" stroke="#0a2e2e" stroke-width="0.65"/>
<rect x="171.70" y="446.20" width="5.4" height="5.4" fill="#1cc6c6" stroke="#0a2e2e" stroke-width="0.65"/>
<rect x="172.30" y="446.10" width="5.4" height="5.4" fill="#1cc6c6" stroke="#0a2e2e" stroke-width="0.65"/>
<rect x="178.00" y="447.50" width="5.4" height="5.4" fill="#1cc6c6" stroke="#0a2e2e" stroke-width="0.65"/>
<rect x="178.30" y="447.60" width="5.4" height="5.4" fill="#1cc6c6" stroke="#0a2e2e" stroke-width="0.65"/>
<rect x="180.50" y="446.90" width="5.4" height="5.4" fill="#1cc6c6" stroke="#0a2e2e" stroke-width="0.65"/>
<rect x="182.20" y="447.90" width="5.4" height="5.4" fill="#1cc6c6" stroke="#0a2e2e" stroke-width="0.65"/>
<rect x="185.10" y="446.80" width="5.4" height="5.4" fill="#1cc6c6" stroke="#0a2e2e" stroke-width="0.65"/>
<rect x="186.50" y="444.00" width="5.4" height="5.4" fill="#1cc6c6" stroke="#0a2e2e" stroke-width="0.65"/>
<rect x="187.90" y="440.40" width="5.4" height="5.4" fill="#1cc6c6" stroke="#0a2e2e" stroke-width="0.65"/>
<rect x="190.70" y="439.70" width="5.4" height="5.4" fill="#1cc6c6" stroke="#0a2e2e" stroke-width="0.65"/>
<rect x="193.60" y="438.00" width="5.4" height="5.4" fill="#1cc6c6" stroke="#0a2e2e" stroke-width="0.65"/>
<rect x="196.40" y="436.90" width="5.4" height="5.4" fill="#1cc6c6" stroke="#0a2e2e" stroke-width="0.65"/>
<rect x="198.50" y="436.20" width="5.4" height="5.4" fill="#1cc6c6" stroke="#0a2e2e" stroke-width="0.65"/>
<rect x="200.60" y="436.90" width="5.4" height="5.4" fill="#1cc6c6" stroke="#0a2e2e" stroke-width="0.65"/>
<rect x="202.80" y="434.80" width="5.4" height="5.4" fill="#1cc6c6" stroke="#0a2e2e" stroke-width="0.65"/>
<rect x="202.80" y="443.30" width="5.4" height="5.4" fill="#1cc6c6" stroke="#0a2e2e" stroke-width="0.65"/>
<rect x="204.20" y="440.40" width="5.4" height="5.4" fill="#1cc6c6" stroke="#0a2e2e" stroke-width="0.65"/>
<rect x="206.30" y="429.80" width="5.4" height="5.4" fill="#1cc6c6" stroke="#0a2e2e" stroke-width="0.65"/>
<rect x="208.40" y="433.40" width="5.4" height="5.4" fill="#1cc6c6" stroke="#0a2e2e" stroke-width="0.65"/>
<rect x="209.10" y="427.00" width="5.4" height="5.4" fill="#1cc6c6" stroke="#0a2e2e" stroke-width="0.65"/>
<rect x="210.60" y="424.90" width="5.4" height="5.4" fill="#1cc6c6" stroke="#0a2e2e" stroke-width="0.65"/>
<rect x="212.70" y="448.20" width="5.4" height="5.4" fill="#1cc6c6" stroke="#0a2e2e" stroke-width="0.65"/>
<rect x="214.80" y="448.90" width="5.4" height="5.4" fill="#1cc6c6" stroke="#0a2e2e" stroke-width="0.65"/>
<rect x="217.60" y="449.20" width="5.4" height="5.4" fill="#1cc6c6" stroke="#0a2e2e" stroke-width="0.65"/>
<rect x="221.20" y="449.20" width="5.4" height="5.4" fill="#1cc6c6" stroke="#0a2e2e" stroke-width="0.65"/>
<rect x="224.70" y="448.90" width="5.4" height="5.4" fill="#1cc6c6" stroke="#0a2e2e" stroke-width="0.65"/>
<rect x="227.60" y="448.20" width="5.4" height="5.4" fill="#1cc6c6" stroke="#0a2e2e" stroke-width="0.65"/>
<rect x="229.00" y="447.90" width="5.4" height="5.4" fill="#1cc6c6" stroke="#0a2e2e" stroke-width="0.65"/>
<rect x="588.00" y="447.20" width="5.4" height="5.4" fill="#1cc6c6" stroke="#0a2e2e" stroke-width="0.65"/>
<rect x="594.40" y="448.20" width="5.4" height="5.4" fill="#1cc6c6" stroke="#0a2e2e" stroke-width="0.65"/>
<rect x="599.30" y="448.50" width="5.4" height="5.4" fill="#1cc6c6" stroke="#0a2e2e" stroke-width="0.65"/>
<rect x="423.10" y="451.11" width="5.4" height="5.4" fill="#1cc6c6" stroke="#0a2e2e" stroke-width="0.65"/>
<rect x="424.50" y="450.61" width="5.4" height="5.4" fill="#1cc6c6" stroke="#0a2e2e" stroke-width="0.65"/>
<rect x="425.90" y="452.23" width="5.4" height="5.4" fill="#1cc6c6" stroke="#0a2e2e" stroke-width="0.65"/>
<rect x="427.30" y="450.10" width="5.4" height="5.4" fill="#1cc6c6" stroke="#0a2e2e" stroke-width="0.65"/>
<rect x="428.70" y="451.23" width="5.4" height="5.4" fill="#1cc6c6" stroke="#0a2e2e" stroke-width="0.65"/>
<rect x="430.10" y="451.43" width="5.4" height="5.4" fill="#1cc6c6" stroke="#0a2e2e" stroke-width="0.65"/>
<rect x="431.50" y="451.32" width="5.4" height="5.4" fill="#1cc6c6" stroke="#0a2e2e" stroke-width="0.65"/>
<rect x="432.90" y="452.03" width="5.4" height="5.4" fill="#1cc6c6" stroke="#0a2e2e" stroke-width="0.65"/>
<rect x="434.30" y="450.59" width="5.4" height="5.4" fill="#1cc6c6" stroke="#0a2e2e" stroke-width="0.65"/>
<rect x="435.70" y="451.01" width="5.4" height="5.4" fill="#1cc6c6" stroke="#0a2e2e" stroke-width="0.65"/>
<rect x="437.10" y="451.44" width="5.4" height="5.4" fill="#1cc6c6" stroke="#0a2e2e" stroke-width="0.65"/>
<rect x="438.50" y="452.37" width="5.4" height="5.4" fill="#1cc6c6" stroke="#0a2e2e" stroke-width="0.65"/>
<rect x="439.90" y="451.54" width="5.4" height="5.4" fill="#1cc6c6" stroke="#0a2e2e" stroke-width="0.65"/>
<rect x="441.30" y="451.95" width="5.4" height="5.4" fill="#1cc6c6" stroke="#0a2e2e" stroke-width="0.65"/>
<rect x="442.70" y="450.57" width="5.4" height="5.4" fill="#1cc6c6" stroke="#0a2e2e" stroke-width="0.65"/>
<rect x="444.10" y="450.88" width="5.4" height="5.4" fill="#1cc6c6" stroke="#0a2e2e" stroke-width="0.65"/>
<rect x="445.50" y="451.98" width="5.4" height="5.4" fill="#1cc6c6" stroke="#0a2e2e" stroke-width="0.65"/>
<rect x="446.90" y="451.19" width="5.4" height="5.4" fill="#1cc6c6" stroke="#0a2e2e" stroke-width="0.65"/>
<rect x="448.30" y="450.87" width="5.4" height="5.4" fill="#1cc6c6" stroke="#0a2e2e" stroke-width="0.65"/>
<rect x="449.70" y="451.27" width="5.4" height="5.4" fill="#1cc6c6" stroke="#0a2e2e" stroke-width="0.65"/>
<rect x="451.10" y="449.80" width="5.4" height="5.4" fill="#1cc6c6" stroke="#0a2e2e" stroke-width="0.65"/>
<rect x="452.50" y="450.30" width="5.4" height="5.4" fill="#1cc6c6" stroke="#0a2e2e" stroke-width="0.65"/>
<rect x="453.90" y="450.85" width="5.4" height="5.4" fill="#1cc6c6" stroke="#0a2e2e" stroke-width="0.65"/>
<rect x="602.30" y="450.33" width="5.4" height="5.4" fill="#1cc6c6" stroke="#0a2e2e" stroke-width="0.65"/>
<rect x="603.70" y="450.74" width="5.4" height="5.4" fill="#1cc6c6" stroke="#0a2e2e" stroke-width="0.65"/>
<rect x="605.10" y="451.08" width="5.4" height="5.4" fill="#1cc6c6" stroke="#0a2e2e" stroke-width="0.65"/>
<rect x="606.50" y="450.77" width="5.4" height="5.4" fill="#1cc6c6" stroke="#0a2e2e" stroke-width="0.65"/>
<rect x="607.90" y="450.97" width="5.4" height="5.4" fill="#1cc6c6" stroke="#0a2e2e" stroke-width="0.65"/>
<rect x="609.30" y="451.12" width="5.4" height="5.4" fill="#1cc6c6" stroke="#0a2e2e" stroke-width="0.65"/>
<rect x="610.70" y="451.77" width="5.4" height="5.4" fill="#1cc6c6" stroke="#0a2e2e" stroke-width="0.65"/>
<rect x="612.10" y="451.89" width="5.4" height="5.4" fill="#1cc6c6" stroke="#0a2e2e" stroke-width="0.65"/>
<rect x="613.50" y="450.90" width="5.4" height="5.4" fill="#1cc6c6" stroke="#0a2e2e" stroke-width="0.65"/>
<rect x="614.90" y="450.69" width="5.4" height="5.4" fill="#1cc6c6" stroke="#0a2e2e" stroke-width="0.65"/>
<rect x="616.30" y="451.54" width="5.4" height="5.4" fill="#1cc6c6" stroke="#0a2e2e" stroke-width="0.65"/>
<rect x="617.70" y="451.36" width="5.4" height="5.4" fill="#1cc6c6" stroke="#0a2e2e" stroke-width="0.65"/>
<rect x="619.10" y="451.22" width="5.4" height="5.4" fill="#1cc6c6" stroke="#0a2e2e" stroke-width="0.65"/>
<rect x="620.50" y="450.65" width="5.4" height="5.4" fill="#1cc6c6" stroke="#0a2e2e" stroke-width="0.65"/>
<rect x="621.90" y="451.42" width="5.4" height="5.4" fill="#1cc6c6" stroke="#0a2e2e" stroke-width="0.65"/>
<rect x="623.30" y="451.54" width="5.4" height="5.4" fill="#1cc6c6" stroke="#0a2e2e" stroke-width="0.65"/>
<rect x="624.70" y="450.21" width="5.4" height="5.4" fill="#1cc6c6" stroke="#0a2e2e" stroke-width="0.65"/>
<rect x="626.10" y="451.61" width="5.4" height="5.4" fill="#1cc6c6" stroke="#0a2e2e" stroke-width="0.65"/>
<rect x="627.50" y="451.06" width="5.4" height="5.4" fill="#1cc6c6" stroke="#0a2e2e" stroke-width="0.65"/>
<rect x="628.90" y="450.73" width="5.4" height="5.4" fill="#1cc6c6" stroke="#0a2e2e" stroke-width="0.65"/>
<rect x="630.30" y="450.31" width="5.4" height="5.4" fill="#1cc6c6" stroke="#0a2e2e" stroke-width="0.65"/>
<rect x="631.70" y="450.93" width="5.4" height="5.4" fill="#1cc6c6" stroke="#0a2e2e" stroke-width="0.65"/>
<rect x="633.10" y="451.07" width="5.4" height="5.4" fill="#1cc6c6" stroke="#0a2e2e" stroke-width="0.65"/>
<rect x="188.91" y="437.23" width="5.4" height="5.4" fill="#1cc6c6" stroke="#0a2e2e" stroke-width="0.65"/>
<rect x="192.38" y="435.85" width="5.4" height="5.4" fill="#1cc6c6" stroke="#0a2e2e" stroke-width="0.65"/>
<rect x="194.78" y="433.82" width="5.4" height="5.4" fill="#1cc6c6" stroke="#0a2e2e" stroke-width="0.65"/>
<rect x="199.03" y="432.51" width="5.4" height="5.4" fill="#1cc6c6" stroke="#0a2e2e" stroke-width="0.65"/>
<rect x="203.73" y="430.75" width="5.4" height="5.4" fill="#1cc6c6" stroke="#0a2e2e" stroke-width="0.65"/>
<rect x="206.75" y="427.42" width="5.4" height="5.4" fill="#1cc6c6" stroke="#0a2e2e" stroke-width="0.65"/>
<rect x="209.99" y="426.50" width="5.4" height="5.4" fill="#1cc6c6" stroke="#0a2e2e" stroke-width="0.65"/>
<rect x="182.66" y="447.49" width="5.4" height="5.4" fill="#1cc6c6" stroke="#0a2e2e" stroke-width="0.65"/>
<rect x="184.97" y="444.82" width="5.4" height="5.4" fill="#1cc6c6" stroke="#0a2e2e" stroke-width="0.65"/>
<rect x="190.21" y="440.94" width="5.4" height="5.4" fill="#1cc6c6" stroke="#0a2e2e" stroke-width="0.65"/>
<circle cx="136.30" cy="433.30" r="2.7" fill="#ff8c00" stroke="#2a1800" stroke-width="0.7"/>
<circle cx="137.00" cy="434.70" r="2.7" fill="#ff8c00" stroke="#2a1800" stroke-width="0.7"/>
<circle cx="139.20" cy="426.20" r="2.7" fill="#ff8c00" stroke="#2a1800" stroke-width="0.7"/>
<circle cx="138.50" cy="420.50" r="2.7" fill="#ff8c00" stroke="#2a1800" stroke-width="0.7"/>
<circle cx="142.70" cy="422.60" r="2.7" fill="#ff8c00" stroke="#2a1800" stroke-width="0.7"/>
<circle cx="144.90" cy="417.70" r="2.7" fill="#ff8c00" stroke="#2a1800" stroke-width="0.7"/>
<circle cx="147.70" cy="414.10" r="2.7" fill="#ff8c00" stroke="#2a1800" stroke-width="0.7"/>
<circle cx="146.30" cy="420.50" r="2.7" fill="#ff8c00" stroke="#2a1800" stroke-width="0.7"/>
<circle cx="149.80" cy="417.00" r="2.7" fill="#ff8c00" stroke="#2a1800" stroke-width="0.7"/>
<circle cx="152.00" cy="419.10" r="2.7" fill="#ff8c00" stroke="#2a1800" stroke-width="0.7"/>
<circle cx="154.80" cy="421.20" r="2.7" fill="#ff8c00" stroke="#2a1800" stroke-width="0.7"/>
<circle cx="155.50" cy="417.00" r="2.7" fill="#ff8c00" stroke="#2a1800" stroke-width="0.7"/>
<circle cx="156.90" cy="412.00" r="2.7" fill="#ff8c00" stroke="#2a1800" stroke-width="0.7"/>
<circle cx="158.30" cy="407.00" r="2.7" fill="#ff8c00" stroke="#2a1800" stroke-width="0.7"/>
<circle cx="159.80" cy="403.50" r="2.7" fill="#ff8c00" stroke="#2a1800" stroke-width="0.7"/>
<circle cx="160.70" cy="399.90" r="2.7" fill="#ff8c00" stroke="#2a1800" stroke-width="0.7"/>
<circle cx="161.60" cy="396.40" r="2.7" fill="#ff8c00" stroke="#2a1800" stroke-width="0.7"/>
<circle cx="162.60" cy="392.80" r="2.7" fill="#ff8c00" stroke="#2a1800" stroke-width="0.7"/>
<circle cx="164.00" cy="390.00" r="2.7" fill="#ff8c00" stroke="#2a1800" stroke-width="0.7"/>
<circle cx="166.10" cy="371.10" r="2.7" fill="#ff8c00" stroke="#2a1800" stroke-width="0.7"/>
<circle cx="169.70" cy="372.60" r="2.7" fill="#ff8c00" stroke="#2a1800" stroke-width="0.7"/>
<circle cx="174.60" cy="369.70" r="2.7" fill="#ff8c00" stroke="#2a1800" stroke-width="0.7"/>
<circle cx="167.60" cy="375.40" r="2.7" fill="#ff8c00" stroke="#2a1800" stroke-width="0.7"/>
<circle cx="171.80" cy="376.80" r="2.7" fill="#ff8c00" stroke="#2a1800" stroke-width="0.7"/>
<circle cx="174.60" cy="378.20" r="2.7" fill="#ff8c00" stroke="#2a1800" stroke-width="0.7"/>
<circle cx="166.10" cy="381.10" r="2.7" fill="#ff8c00" stroke="#2a1800" stroke-width="0.7"/>
<circle cx="164.00" cy="386.00" r="2.7" fill="#ff8c00" stroke="#2a1800" stroke-width="0.7"/>
<circle cx="163.30" cy="389.60" r="2.7" fill="#ff8c00" stroke="#2a1800" stroke-width="0.7"/>
<circle cx="161.90" cy="393.80" r="2.7" fill="#ff8c00" stroke="#2a1800" stroke-width="0.7"/>
<circle cx="161.20" cy="398.10" r="2.7" fill="#ff8c00" stroke="#2a1800" stroke-width="0.7"/>
<circle cx="181.00" cy="337.10" r="2.7" fill="#ff8c00" stroke="#2a1800" stroke-width="0.7"/>
<circle cx="182.00" cy="339.90" r="2.7" fill="#ff8c00" stroke="#2a1800" stroke-width="0.7"/>
<circle cx="212.20" cy="342.10" r="2.7" fill="#ff8c00" stroke="#2a1800" stroke-width="0.7"/>
<circle cx="213.90" cy="352.40" r="2.7" fill="#ff8c00" stroke="#2a1800" stroke-width="0.7"/>
<circle cx="204.00" cy="356.00" r="2.7" fill="#ff8c00" stroke="#2a1800" stroke-width="0.7"/>
<circle cx="184.10" cy="357.00" r="2.7" fill="#ff8c00" stroke="#2a1800" stroke-width="0.7"/>
<circle cx="182.70" cy="360.50" r="2.7" fill="#ff8c00" stroke="#2a1800" stroke-width="0.7"/>
<circle cx="189.10" cy="360.10" r="2.7" fill="#ff8c00" stroke="#2a1800" stroke-width="0.7"/>
<circle cx="208.90" cy="361.50" r="2.7" fill="#ff8c00" stroke="#2a1800" stroke-width="0.7"/>
<circle cx="213.20" cy="360.50" r="2.7" fill="#ff8c00" stroke="#2a1800" stroke-width="0.7"/>
<circle cx="199.70" cy="366.20" r="2.7" fill="#ff8c00" stroke="#2a1800" stroke-width="0.7"/>
<circle cx="205.40" cy="365.50" r="2.7" fill="#ff8c00" stroke="#2a1800" stroke-width="0.7"/>
<circle cx="211.10" cy="366.20" r="2.7" fill="#ff8c00" stroke="#2a1800" stroke-width="0.7"/>
<circle cx="187.00" cy="366.20" r="2.7" fill="#ff8c00" stroke="#2a1800" stroke-width="0.7"/>
<circle cx="191.20" cy="368.30" r="2.7" fill="#ff8c00" stroke="#2a1800" stroke-width="0.7"/>
<circle cx="206.80" cy="370.40" r="2.7" fill="#ff8c00" stroke="#2a1800" stroke-width="0.7"/>
<circle cx="214.60" cy="374.30" r="2.7" fill="#ff8c00" stroke="#2a1800" stroke-width="0.7"/>
<circle cx="184.40" cy="372.60" r="2.7" fill="#ff8c00" stroke="#2a1800" stroke-width="0.7"/>
<circle cx="188.40" cy="371.10" r="2.7" fill="#ff8c00" stroke="#2a1800" stroke-width="0.7"/>
<circle cx="194.00" cy="372.60" r="2.7" fill="#ff8c00" stroke="#2a1800" stroke-width="0.7"/>
<circle cx="198.30" cy="373.30" r="2.7" fill="#ff8c00" stroke="#2a1800" stroke-width="0.7"/>
<circle cx="189.80" cy="375.40" r="2.7" fill="#ff8c00" stroke="#2a1800" stroke-width="0.7"/>
<circle cx="194.00" cy="377.50" r="2.7" fill="#ff8c00" stroke="#2a1800" stroke-width="0.7"/>
<circle cx="196.90" cy="375.40" r="2.7" fill="#ff8c00" stroke="#2a1800" stroke-width="0.7"/>
<circle cx="206.10" cy="374.00" r="2.7" fill="#ff8c00" stroke="#2a1800" stroke-width="0.7"/>
<circle cx="201.10" cy="378.90" r="2.7" fill="#ff8c00" stroke="#2a1800" stroke-width="0.7"/>
<circle cx="204.00" cy="377.50" r="2.7" fill="#ff8c00" stroke="#2a1800" stroke-width="0.7"/>
<circle cx="191.90" cy="378.90" r="2.7" fill="#ff8c00" stroke="#2a1800" stroke-width="0.7"/>
<circle cx="195.50" cy="380.40" r="2.7" fill="#ff8c00" stroke="#2a1800" stroke-width="0.7"/>
<circle cx="202.60" cy="383.20" r="2.7" fill="#ff8c00" stroke="#2a1800" stroke-width="0.7"/>
<circle cx="208.20" cy="383.60" r="2.7" fill="#ff8c00" stroke="#2a1800" stroke-width="0.7"/>
<circle cx="190.10" cy="384.60" r="2.7" fill="#ff8c00" stroke="#2a1800" stroke-width="0.7"/>
<circle cx="197.60" cy="384.60" r="2.7" fill="#ff8c00" stroke="#2a1800" stroke-width="0.7"/>
<circle cx="199.00" cy="388.20" r="2.7" fill="#ff8c00" stroke="#2a1800" stroke-width="0.7"/>
<circle cx="207.50" cy="391.00" r="2.7" fill="#ff8c00" stroke="#2a1800" stroke-width="0.7"/>
<circle cx="218.20" cy="396.70" r="2.7" fill="#ff8c00" stroke="#2a1800" stroke-width="0.7"/>
<circle cx="165.70" cy="371.80" r="2.7" fill="#ff8c00" stroke="#2a1800" stroke-width="0.7"/>
<circle cx="170.60" cy="372.60" r="2.7" fill="#ff8c00" stroke="#2a1800" stroke-width="0.7"/>
<circle cx="175.60" cy="369.00" r="2.7" fill="#ff8c00" stroke="#2a1800" stroke-width="0.7"/>
<circle cx="173.50" cy="374.70" r="2.7" fill="#ff8c00" stroke="#2a1800" stroke-width="0.7"/>
<circle cx="167.80" cy="376.10" r="2.7" fill="#ff8c00" stroke="#2a1800" stroke-width="0.7"/>
<circle cx="174.20" cy="378.20" r="2.7" fill="#ff8c00" stroke="#2a1800" stroke-width="0.7"/>
<circle cx="169.90" cy="380.40" r="2.7" fill="#ff8c00" stroke="#2a1800" stroke-width="0.7"/>
<circle cx="165.70" cy="382.50" r="2.7" fill="#ff8c00" stroke="#2a1800" stroke-width="0.7"/>
<circle cx="164.00" cy="386.00" r="2.7" fill="#ff8c00" stroke="#2a1800" stroke-width="0.7"/>
<circle cx="163.50" cy="389.60" r="2.7" fill="#ff8c00" stroke="#2a1800" stroke-width="0.7"/>
<circle cx="162.80" cy="393.80" r="2.7" fill="#ff8c00" stroke="#2a1800" stroke-width="0.7"/>
<circle cx="207.30" cy="391.10" r="2.7" fill="#ff8c00" stroke="#2a1800" stroke-width="0.7"/>
<circle cx="218.90" cy="396.40" r="2.7" fill="#ff8c00" stroke="#2a1800" stroke-width="0.7"/>
<circle cx="220.10" cy="402.80" r="2.7" fill="#ff8c00" stroke="#2a1800" stroke-width="0.7"/>
<circle cx="231.00" cy="403.70" r="2.7" fill="#ff8c00" stroke="#2a1800" stroke-width="0.7"/>
<circle cx="232.40" cy="404.20" r="2.7" fill="#ff8c00" stroke="#2a1800" stroke-width="0.7"/>
<circle cx="228.10" cy="414.80" r="2.7" fill="#ff8c00" stroke="#2a1800" stroke-width="0.7"/>
<circle cx="227.10" cy="417.60" r="2.7" fill="#ff8c00" stroke="#2a1800" stroke-width="0.7"/>
<circle cx="216.80" cy="417.60" r="2.7" fill="#ff8c00" stroke="#2a1800" stroke-width="0.7"/>
<circle cx="218.20" cy="421.90" r="2.7" fill="#ff8c00" stroke="#2a1800" stroke-width="0.7"/>
<circle cx="226.00" cy="421.90" r="2.7" fill="#ff8c00" stroke="#2a1800" stroke-width="0.7"/>
<circle cx="228.80" cy="426.60" r="2.7" fill="#ff8c00" stroke="#2a1800" stroke-width="0.7"/>
<circle cx="231.00" cy="427.10" r="2.7" fill="#ff8c00" stroke="#2a1800" stroke-width="0.7"/>
<circle cx="233.10" cy="432.20" r="2.7" fill="#ff8c00" stroke="#2a1800" stroke-width="0.7"/>
<circle cx="224.90" cy="433.60" r="2.7" fill="#ff8c00" stroke="#2a1800" stroke-width="0.7"/>
<circle cx="221.50" cy="439.60" r="2.7" fill="#ff8c00" stroke="#2a1800" stroke-width="0.7"/>
<circle cx="222.90" cy="443.80" r="2.7" fill="#ff8c00" stroke="#2a1800" stroke-width="0.7"/>
<circle cx="234.30" cy="386.30" r="2.7" fill="#ff8c00" stroke="#2a1800" stroke-width="0.7"/>
<circle cx="445.90" cy="367.10" r="2.7" fill="#ff8c00" stroke="#2a1800" stroke-width="0.7"/>
<circle cx="443.20" cy="373.00" r="2.7" fill="#ff8c00" stroke="#2a1800" stroke-width="0.7"/>
<circle cx="444.90" cy="377.70" r="2.7" fill="#ff8c00" stroke="#2a1800" stroke-width="0.7"/>
<circle cx="445.40" cy="379.70" r="2.7" fill="#ff8c00" stroke="#2a1800" stroke-width="0.7"/>
<circle cx="447.40" cy="384.10" r="2.7" fill="#ff8c00" stroke="#2a1800" stroke-width="0.7"/>
<circle cx="434.30" cy="382.80" r="2.7" fill="#ff8c00" stroke="#2a1800" stroke-width="0.7"/>
<circle cx="430.20" cy="386.80" r="2.7" fill="#ff8c00" stroke="#2a1800" stroke-width="0.7"/>
<circle cx="431.30" cy="388.80" r="2.7" fill="#ff8c00" stroke="#2a1800" stroke-width="0.7"/>
<circle cx="436.30" cy="387.30" r="2.7" fill="#ff8c00" stroke="#2a1800" stroke-width="0.7"/>
<circle cx="437.30" cy="390.40" r="2.7" fill="#ff8c00" stroke="#2a1800" stroke-width="0.7"/>
<circle cx="442.40" cy="388.50" r="2.7" fill="#ff8c00" stroke="#2a1800" stroke-width="0.7"/>
<circle cx="448.30" cy="388.80" r="2.7" fill="#ff8c00" stroke="#2a1800" stroke-width="0.7"/>
<circle cx="450.50" cy="389.90" r="2.7" fill="#ff8c00" stroke="#2a1800" stroke-width="0.7"/>
<circle cx="429.20" cy="396.90" r="2.7" fill="#ff8c00" stroke="#2a1800" stroke-width="0.7"/>
<circle cx="432.30" cy="395.90" r="2.7" fill="#ff8c00" stroke="#2a1800" stroke-width="0.7"/>
<circle cx="434.80" cy="394.90" r="2.7" fill="#ff8c00" stroke="#2a1800" stroke-width="0.7"/>
<circle cx="438.30" cy="398.00" r="2.7" fill="#ff8c00" stroke="#2a1800" stroke-width="0.7"/>
<circle cx="441.40" cy="399.00" r="2.7" fill="#ff8c00" stroke="#2a1800" stroke-width="0.7"/>
<circle cx="448.50" cy="395.90" r="2.7" fill="#ff8c00" stroke="#2a1800" stroke-width="0.7"/>
<circle cx="451.00" cy="397.40" r="2.7" fill="#ff8c00" stroke="#2a1800" stroke-width="0.7"/>
<circle cx="439.40" cy="403.00" r="2.7" fill="#ff8c00" stroke="#2a1800" stroke-width="0.7"/>
<circle cx="441.90" cy="402.00" r="2.7" fill="#ff8c00" stroke="#2a1800" stroke-width="0.7"/>
<circle cx="428.00" cy="405.00" r="2.7" fill="#ff8c00" stroke="#2a1800" stroke-width="0.7"/>
<circle cx="432.30" cy="408.60" r="2.7" fill="#ff8c00" stroke="#2a1800" stroke-width="0.7"/>
<circle cx="437.30" cy="409.10" r="2.7" fill="#ff8c00" stroke="#2a1800" stroke-width="0.7"/>
<circle cx="451.50" cy="406.60" r="2.7" fill="#ff8c00" stroke="#2a1800" stroke-width="0.7"/>
<circle cx="439.10" cy="402.40" r="2.7" fill="#ff8c00" stroke="#2a1800" stroke-width="0.7"/>
<circle cx="441.60" cy="401.80" r="2.7" fill="#ff8c00" stroke="#2a1800" stroke-width="0.7"/>
<circle cx="428.20" cy="405.10" r="2.7" fill="#ff8c00" stroke="#2a1800" stroke-width="0.7"/>
<circle cx="432.50" cy="408.70" r="2.7" fill="#ff8c00" stroke="#2a1800" stroke-width="0.7"/>
<circle cx="437.90" cy="409.50" r="2.7" fill="#ff8c00" stroke="#2a1800" stroke-width="0.7"/>
<circle cx="429.20" cy="411.50" r="2.7" fill="#ff8c00" stroke="#2a1800" stroke-width="0.7"/>
<circle cx="426.70" cy="413.60" r="2.7" fill="#ff8c00" stroke="#2a1800" stroke-width="0.7"/>
<circle cx="427.60" cy="420.60" r="2.7" fill="#ff8c00" stroke="#2a1800" stroke-width="0.7"/>
<circle cx="425.20" cy="424.90" r="2.7" fill="#ff8c00" stroke="#2a1800" stroke-width="0.7"/>
<circle cx="451.30" cy="406.70" r="2.7" fill="#ff8c00" stroke="#2a1800" stroke-width="0.7"/>
<circle cx="453.70" cy="413.60" r="2.7" fill="#ff8c00" stroke="#2a1800" stroke-width="0.7"/>
<circle cx="454.30" cy="417.00" r="2.7" fill="#ff8c00" stroke="#2a1800" stroke-width="0.7"/>
<circle cx="456.10" cy="418.40" r="2.7" fill="#ff8c00" stroke="#2a1800" stroke-width="0.7"/>
<circle cx="607.30" cy="344.80" r="2.7" fill="#ff8c00" stroke="#2a1800" stroke-width="0.7"/>
<circle cx="619.30" cy="357.80" r="2.7" fill="#ff8c00" stroke="#2a1800" stroke-width="0.7"/>
<circle cx="614.20" cy="360.90" r="2.7" fill="#ff8c00" stroke="#2a1800" stroke-width="0.7"/>
<circle cx="609.30" cy="368.60" r="2.7" fill="#ff8c00" stroke="#2a1800" stroke-width="0.7"/>
<circle cx="606.20" cy="373.20" r="2.7" fill="#ff8c00" stroke="#2a1800" stroke-width="0.7"/>
<circle cx="601.70" cy="374.20" r="2.7" fill="#ff8c00" stroke="#2a1800" stroke-width="0.7"/>
<circle cx="622.90" cy="369.00" r="2.7" fill="#ff8c00" stroke="#2a1800" stroke-width="0.7"/>
<circle cx="621.20" cy="371.20" r="2.7" fill="#ff8c00" stroke="#2a1800" stroke-width="0.7"/>
<circle cx="625.10" cy="372.30" r="2.7" fill="#ff8c00" stroke="#2a1800" stroke-width="0.7"/>
<circle cx="618.40" cy="375.60" r="2.7" fill="#ff8c00" stroke="#2a1800" stroke-width="0.7"/>
<circle cx="616.20" cy="376.80" r="2.7" fill="#ff8c00" stroke="#2a1800" stroke-width="0.7"/>
<circle cx="626.20" cy="376.20" r="2.7" fill="#ff8c00" stroke="#2a1800" stroke-width="0.7"/>
<circle cx="629.00" cy="377.90" r="2.7" fill="#ff8c00" stroke="#2a1800" stroke-width="0.7"/>
<circle cx="633.80" cy="378.20" r="2.7" fill="#ff8c00" stroke="#2a1800" stroke-width="0.7"/>
<circle cx="591.90" cy="383.80" r="2.7" fill="#ff8c00" stroke="#2a1800" stroke-width="0.7"/>
<circle cx="595.60" cy="387.60" r="2.7" fill="#ff8c00" stroke="#2a1800" stroke-width="0.7"/>
<circle cx="599.30" cy="386.20" r="2.7" fill="#ff8c00" stroke="#2a1800" stroke-width="0.7"/>
<circle cx="603.90" cy="386.00" r="2.7" fill="#ff8c00" stroke="#2a1800" stroke-width="0.7"/>
<circle cx="610.10" cy="385.10" r="2.7" fill="#ff8c00" stroke="#2a1800" stroke-width="0.7"/>
<circle cx="612.80" cy="384.00" r="2.7" fill="#ff8c00" stroke="#2a1800" stroke-width="0.7"/>
<circle cx="615.60" cy="381.80" r="2.7" fill="#ff8c00" stroke="#2a1800" stroke-width="0.7"/>
<circle cx="618.40" cy="386.40" r="2.7" fill="#ff8c00" stroke="#2a1800" stroke-width="0.7"/>
<circle cx="625.60" cy="389.00" r="2.7" fill="#ff8c00" stroke="#2a1800" stroke-width="0.7"/>
<circle cx="591.80" cy="384.00" r="2.7" fill="#ff8c00" stroke="#2a1800" stroke-width="0.7"/>
<circle cx="595.50" cy="387.80" r="2.7" fill="#ff8c00" stroke="#2a1800" stroke-width="0.7"/>
<circle cx="599.60" cy="386.50" r="2.7" fill="#ff8c00" stroke="#2a1800" stroke-width="0.7"/>
<circle cx="604.10" cy="386.10" r="2.7" fill="#ff8c00" stroke="#2a1800" stroke-width="0.7"/>
<circle cx="609.60" cy="384.90" r="2.7" fill="#ff8c00" stroke="#2a1800" stroke-width="0.7"/>
<circle cx="614.90" cy="382.40" r="2.7" fill="#ff8c00" stroke="#2a1800" stroke-width="0.7"/>
<circle cx="618.20" cy="386.80" r="2.7" fill="#ff8c00" stroke="#2a1800" stroke-width="0.7"/>
<circle cx="601.20" cy="390.00" r="2.7" fill="#ff8c00" stroke="#2a1800" stroke-width="0.7"/>
<circle cx="605.20" cy="392.10" r="2.7" fill="#ff8c00" stroke="#2a1800" stroke-width="0.7"/>
<circle cx="608.50" cy="390.50" r="2.7" fill="#ff8c00" stroke="#2a1800" stroke-width="0.7"/>
<circle cx="612.50" cy="392.10" r="2.7" fill="#ff8c00" stroke="#2a1800" stroke-width="0.7"/>
<circle cx="590.70" cy="394.90" r="2.7" fill="#ff8c00" stroke="#2a1800" stroke-width="0.7"/>
<circle cx="589.90" cy="397.00" r="2.7" fill="#ff8c00" stroke="#2a1800" stroke-width="0.7"/>
<circle cx="600.40" cy="395.40" r="2.7" fill="#ff8c00" stroke="#2a1800" stroke-width="0.7"/>
<circle cx="609.00" cy="395.40" r="2.7" fill="#ff8c00" stroke="#2a1800" stroke-width="0.7"/>
<circle cx="625.50" cy="389.70" r="2.7" fill="#ff8c00" stroke="#2a1800" stroke-width="0.7"/>
<circle cx="628.70" cy="392.90" r="2.7" fill="#ff8c00" stroke="#2a1800" stroke-width="0.7"/>
<circle cx="631.90" cy="396.20" r="2.7" fill="#ff8c00" stroke="#2a1800" stroke-width="0.7"/>
<circle cx="620.60" cy="397.00" r="2.7" fill="#ff8c00" stroke="#2a1800" stroke-width="0.7"/>
<circle cx="623.80" cy="397.00" r="2.7" fill="#ff8c00" stroke="#2a1800" stroke-width="0.7"/>
<circle cx="631.10" cy="400.20" r="2.7" fill="#ff8c00" stroke="#2a1800" stroke-width="0.7"/>
<circle cx="614.90" cy="400.70" r="2.7" fill="#ff8c00" stroke="#2a1800" stroke-width="0.7"/>
<circle cx="617.40" cy="405.60" r="2.7" fill="#ff8c00" stroke="#2a1800" stroke-width="0.7"/>
<circle cx="594.70" cy="405.10" r="2.7" fill="#ff8c00" stroke="#2a1800" stroke-width="0.7"/>
<circle cx="597.90" cy="402.70" r="2.7" fill="#ff8c00" stroke="#2a1800" stroke-width="0.7"/>
<circle cx="599.60" cy="404.30" r="2.7" fill="#ff8c00" stroke="#2a1800" stroke-width="0.7"/>
<circle cx="590.70" cy="408.00" r="2.7" fill="#ff8c00" stroke="#2a1800" stroke-width="0.7"/>
<circle cx="603.10" cy="408.80" r="2.7" fill="#ff8c00" stroke="#2a1800" stroke-width="0.7"/>
<circle cx="626.70" cy="406.70" r="2.7" fill="#ff8c00" stroke="#2a1800" stroke-width="0.7"/>
<circle cx="633.20" cy="409.10" r="2.7" fill="#ff8c00" stroke="#2a1800" stroke-width="0.7"/>
<circle cx="635.20" cy="411.60" r="2.7" fill="#ff8c00" stroke="#2a1800" stroke-width="0.7"/>
<circle cx="631.90" cy="413.70" r="2.7" fill="#ff8c00" stroke="#2a1800" stroke-width="0.7"/>
<circle cx="624.20" cy="414.30" r="2.7" fill="#ff8c00" stroke="#2a1800" stroke-width="0.7"/>
<circle cx="619.80" cy="418.80" r="2.7" fill="#ff8c00" stroke="#2a1800" stroke-width="0.7"/>
<circle cx="621.90" cy="421.70" r="2.7" fill="#ff8c00" stroke="#2a1800" stroke-width="0.7"/>
<circle cx="137.91" cy="431.99" r="2.7" fill="#ff8c00" stroke="#2a1800" stroke-width="0.7"/>
<circle cx="139.60" cy="427.04" r="2.7" fill="#ff8c00" stroke="#2a1800" stroke-width="0.7"/>
<circle cx="141.99" cy="426.74" r="2.7" fill="#ff8c00" stroke="#2a1800" stroke-width="0.7"/>
<circle cx="141.96" cy="424.50" r="2.7" fill="#ff8c00" stroke="#2a1800" stroke-width="0.7"/>
<circle cx="144.74" cy="421.75" r="2.7" fill="#ff8c00" stroke="#2a1800" stroke-width="0.7"/>
<circle cx="146.03" cy="419.66" r="2.7" fill="#ff8c00" stroke="#2a1800" stroke-width="0.7"/>
<circle cx="150.19" cy="417.48" r="2.7" fill="#ff8c00" stroke="#2a1800" stroke-width="0.7"/>
<circle cx="152.59" cy="416.56" r="2.7" fill="#ff8c00" stroke="#2a1800" stroke-width="0.7"/>
<circle cx="157.80" cy="421.14" r="2.7" fill="#ff8c00" stroke="#2a1800" stroke-width="0.7"/>
<circle cx="159.63" cy="404.96" r="2.7" fill="#ff8c00" stroke="#2a1800" stroke-width="0.7"/>
<circle cx="159.83" cy="402.30" r="2.7" fill="#ff8c00" stroke="#2a1800" stroke-width="0.7"/>
<circle cx="160.64" cy="398.33" r="2.7" fill="#ff8c00" stroke="#2a1800" stroke-width="0.7"/>
<circle cx="160.88" cy="394.06" r="2.7" fill="#ff8c00" stroke="#2a1800" stroke-width="0.7"/>
<circle cx="163.31" cy="392.66" r="2.7" fill="#ff8c00" stroke="#2a1800" stroke-width="0.7"/>
<circle cx="164.02" cy="379.74" r="2.7" fill="#ff8c00" stroke="#2a1800" stroke-width="0.7"/>
<circle cx="169.83" cy="378.32" r="2.7" fill="#ff8c00" stroke="#2a1800" stroke-width="0.7"/>
<circle cx="167.20" cy="374.66" r="2.7" fill="#ff8c00" stroke="#2a1800" stroke-width="0.7"/>
<circle cx="171.06" cy="372.22" r="2.7" fill="#ff8c00" stroke="#2a1800" stroke-width="0.7"/>
<circle cx="174.80" cy="368.01" r="2.7" fill="#ff8c00" stroke="#2a1800" stroke-width="0.7"/>
<circle cx="179.13" cy="367.63" r="2.7" fill="#ff8c00" stroke="#2a1800" stroke-width="0.7"/>
<circle cx="184.70" cy="364.16" r="2.7" fill="#ff8c00" stroke="#2a1800" stroke-width="0.7"/>
<circle cx="192.11" cy="365.55" r="2.7" fill="#ff8c00" stroke="#2a1800" stroke-width="0.7"/>
<circle cx="187.89" cy="365.72" r="2.7" fill="#ff8c00" stroke="#2a1800" stroke-width="0.7"/>
<circle cx="198.03" cy="372.70" r="2.7" fill="#ff8c00" stroke="#2a1800" stroke-width="0.7"/>
<circle cx="200.31" cy="376.99" r="2.7" fill="#ff8c00" stroke="#2a1800" stroke-width="0.7"/>
<circle cx="202.58" cy="379.10" r="2.7" fill="#ff8c00" stroke="#2a1800" stroke-width="0.7"/>
<circle cx="205.36" cy="379.85" r="2.7" fill="#ff8c00" stroke="#2a1800" stroke-width="0.7"/>
<circle cx="198.00" cy="368.60" r="2.7" fill="#ff8c00" stroke="#2a1800" stroke-width="0.7"/>
<circle cx="201.45" cy="368.55" r="2.7" fill="#ff8c00" stroke="#2a1800" stroke-width="0.7"/>
<circle cx="205.09" cy="370.68" r="2.7" fill="#ff8c00" stroke="#2a1800" stroke-width="0.7"/>
<circle cx="210.12" cy="377.68" r="2.7" fill="#ff8c00" stroke="#2a1800" stroke-width="0.7"/>
</g>
<rect x="244.9" y="327" width="292.3" height="25.3" fill="#fff" stroke="#111" stroke-width="1.1"/>
<rect x="252.4" y="336" width="5.4" height="5.4" fill="#1cc6c6" stroke="#0a2e2e" stroke-width="0.65"/>
<circle cx="395.7" cy="338.5" r="2.7" fill="#ff8c00" stroke="#2a1800" stroke-width="0.7"/>
<text x="265.40" y="343.30" font-size="13" xml:space="preserve">PE</text>
<text x="280.57" y="348.10" font-size="9.2">HV</text>
<line x1="294.36" y1="345.06" x2="300.16" y2="345.06" stroke="#000" stroke-width="0.75"/>
<path d="M302.36,345.06 L299.56,343.56 L300.06,345.06 L299.56,346.56Z" fill="#000"/>
<text x="303.16" y="348.10" font-size="9.2">H</text>
<text x="309.80" y="343.30" font-size="13" xml:space="preserve"> / PE</text>
<text x="335.09" y="348.10" font-size="9.2">HH</text>
<line x1="348.87" y1="345.06" x2="354.67" y2="345.06" stroke="#000" stroke-width="0.75"/>
<path d="M356.87,345.06 L354.07,343.56 L354.57,345.06 L354.07,346.56Z" fill="#000"/>
<text x="357.67" y="348.10" font-size="9.2">H</text>
<text x="405.90" y="343.30" font-size="13" xml:space="preserve">PE</text>
<text x="421.07" y="348.10" font-size="9.2">HD</text>
<line x1="434.86" y1="345.06" x2="440.66" y2="345.06" stroke="#000" stroke-width="0.75"/>
<path d="M442.86,345.06 L440.06,343.56 L440.56,345.06 L440.06,346.56Z" fill="#000"/>
<text x="443.66" y="348.10" font-size="9.2">H</text>
<text x="450.30" y="343.30" font-size="13" xml:space="preserve"> / PE</text>
<text x="475.59" y="348.10" font-size="9.2">HH</text>
<line x1="489.37" y1="345.06" x2="495.17" y2="345.06" stroke="#000" stroke-width="0.75"/>
<path d="M497.37,345.06 L494.57,343.56 L495.07,345.06 L494.57,346.56Z" fill="#000"/>
<text x="498.17" y="348.10" font-size="9.2">H</text>
<text x="504.82" y="343.30" font-size="13" xml:space="preserve"> (×2)</text>
<text x="325.1" y="403.3" font-size="13.2" text-anchor="middle">Exciton</text>
<text x="325.8" y="427.2" font-size="13.2" text-anchor="middle">Trion</text>
<path d="M293.8,397.7L250.5,387.5" fill="none" stroke="#000" stroke-width="1.1"/>
<path d="M244.70,386.10 L254.66,385.27 L252.19,387.87 L253.23,391.30Z" fill="#000"/>
<path d="M352.9,397.7L408.0,387.2" fill="none" stroke="#000" stroke-width="1.1"/>
<path d="M413.90,386.10 L405.15,390.92 L406.34,387.54 L403.99,384.83Z" fill="#000"/>
<path d="M303.8,426.3L244.9,445.3" fill="none" stroke="#000" stroke-width="1.1"/>
<path d="M239.20,447.10 L247.29,441.24 L246.53,444.74 L249.19,447.14Z" fill="#000"/>
<path d="M350.1,426.9L409.6,445.9" fill="none" stroke="#000" stroke-width="1.1"/>
<path d="M415.30,447.70 L405.31,447.77 L407.96,445.36 L407.19,441.86Z" fill="#000"/>
</svg></body></html>
